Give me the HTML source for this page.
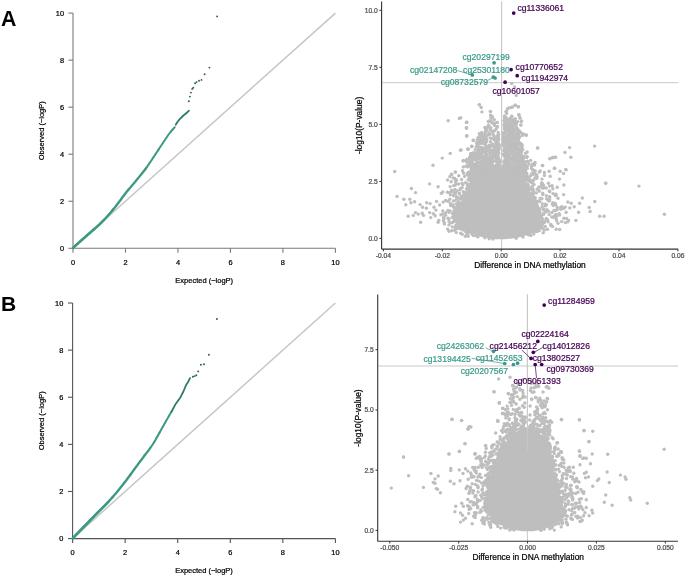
<!DOCTYPE html>
<html><head><meta charset="utf-8"><style>
html,body{margin:0;padding:0;background:#fff;overflow:hidden;}
svg{display:block;font-family:"Liberation Sans", sans-serif;will-change:transform;}
</style></head><body>
<svg width="685" height="577" viewBox="0 0 685 577">
<rect width="685" height="577" fill="#fff"/>
<text x="1.00" y="25.90" font-size="21.3" text-anchor="start" fill="#000" font-weight="bold">A</text>
<text x="1.00" y="311.30" font-size="21.0" text-anchor="start" fill="#000" font-weight="bold">B</text>
<line x1="73.00" y1="248.30" x2="73.00" y2="13.10" stroke="#7a7a7a" stroke-width="1.1"/>
<line x1="73.00" y1="248.30" x2="335.40" y2="248.30" stroke="#7a7a7a" stroke-width="1.1"/>
<line x1="68.40" y1="248.30" x2="73.00" y2="248.30" stroke="#7a7a7a" stroke-width="1.1"/>
<text x="64.00" y="250.95" font-size="7.4" text-anchor="end" fill="#000" font-weight="normal" stroke="#000" stroke-width="0.22">0</text>
<line x1="73.00" y1="248.30" x2="73.00" y2="252.70" stroke="#7a7a7a" stroke-width="1.1"/>
<text x="73.00" y="264.65" font-size="7.4" text-anchor="middle" fill="#000" font-weight="normal" stroke="#000" stroke-width="0.22">0</text>
<line x1="68.40" y1="201.26" x2="73.00" y2="201.26" stroke="#7a7a7a" stroke-width="1.1"/>
<text x="64.00" y="203.91" font-size="7.4" text-anchor="end" fill="#000" font-weight="normal" stroke="#000" stroke-width="0.22">2</text>
<line x1="125.48" y1="248.30" x2="125.48" y2="252.70" stroke="#7a7a7a" stroke-width="1.1"/>
<text x="125.48" y="264.65" font-size="7.4" text-anchor="middle" fill="#000" font-weight="normal" stroke="#000" stroke-width="0.22">2</text>
<line x1="68.40" y1="154.22" x2="73.00" y2="154.22" stroke="#7a7a7a" stroke-width="1.1"/>
<text x="64.00" y="156.87" font-size="7.4" text-anchor="end" fill="#000" font-weight="normal" stroke="#000" stroke-width="0.22">4</text>
<line x1="177.96" y1="248.30" x2="177.96" y2="252.70" stroke="#7a7a7a" stroke-width="1.1"/>
<text x="177.96" y="264.65" font-size="7.4" text-anchor="middle" fill="#000" font-weight="normal" stroke="#000" stroke-width="0.22">4</text>
<line x1="68.40" y1="107.18" x2="73.00" y2="107.18" stroke="#7a7a7a" stroke-width="1.1"/>
<text x="64.00" y="109.83" font-size="7.4" text-anchor="end" fill="#000" font-weight="normal" stroke="#000" stroke-width="0.22">6</text>
<line x1="230.44" y1="248.30" x2="230.44" y2="252.70" stroke="#7a7a7a" stroke-width="1.1"/>
<text x="230.44" y="264.65" font-size="7.4" text-anchor="middle" fill="#000" font-weight="normal" stroke="#000" stroke-width="0.22">6</text>
<line x1="68.40" y1="60.14" x2="73.00" y2="60.14" stroke="#7a7a7a" stroke-width="1.1"/>
<text x="64.00" y="62.79" font-size="7.4" text-anchor="end" fill="#000" font-weight="normal" stroke="#000" stroke-width="0.22">8</text>
<line x1="282.92" y1="248.30" x2="282.92" y2="252.70" stroke="#7a7a7a" stroke-width="1.1"/>
<text x="282.92" y="264.65" font-size="7.4" text-anchor="middle" fill="#000" font-weight="normal" stroke="#000" stroke-width="0.22">8</text>
<line x1="68.40" y1="13.10" x2="73.00" y2="13.10" stroke="#7a7a7a" stroke-width="1.1"/>
<text x="64.00" y="15.75" font-size="7.4" text-anchor="end" fill="#000" font-weight="normal" stroke="#000" stroke-width="0.22">10</text>
<line x1="335.40" y1="248.30" x2="335.40" y2="252.70" stroke="#7a7a7a" stroke-width="1.1"/>
<text x="335.40" y="264.65" font-size="7.4" text-anchor="middle" fill="#000" font-weight="normal" stroke="#000" stroke-width="0.22">10</text>
<text x="204.20" y="283.30" font-size="7.5" text-anchor="middle" fill="#000" font-weight="normal" stroke="#000" stroke-width="0.22">Expected (−logP)</text>
<text x="44.40" y="130.70" font-size="7.5" text-anchor="middle" fill="#000" font-weight="normal" stroke="#000" stroke-width="0.22" transform="rotate(-90 44.4 130.70000000000002)">Observed (−logP)</text>
<line x1="73.00" y1="248.30" x2="335.40" y2="13.10" stroke="#c6c6c6" stroke-width="1.5"/>
<polyline points="73.2,248.0 74.0,247.0 76.7,244.5 79.5,242.0 82.3,239.5 85.2,237.0 88.0,234.5 90.9,232.0 93.8,229.5" fill="none" stroke="#3d9883" stroke-width="2.7" stroke-linejoin="round" stroke-linecap="round"/>
<polyline points="93.8,229.5 96.6,227.0 99.4,224.5 101.9,222.0 104.4,219.5 106.7,217.0 108.9,214.5 111.1,212.0 113.1,209.5" fill="none" stroke="#3d9883" stroke-width="2.56" stroke-linejoin="round" stroke-linecap="round"/>
<polyline points="113.1,209.5 115.2,207.0 117.1,204.5 119.0,202.0 120.9,199.5 122.7,197.0 124.6,194.5 126.5,192.0 128.6,189.5" fill="none" stroke="#3d9883" stroke-width="2.42" stroke-linejoin="round" stroke-linecap="round"/>
<polyline points="128.6,189.5 130.8,187.0 132.9,184.5 135.0,182.0 137.0,179.5 139.1,177.0 141.1,174.5 143.1,172.0 145.1,169.5" fill="none" stroke="#3d9883" stroke-width="2.28" stroke-linejoin="round" stroke-linecap="round"/>
<polyline points="145.1,169.5 146.9,167.0 148.6,164.5 150.3,162.0 152.0,159.5 153.6,157.0 155.3,154.5 156.9,152.0 158.6,149.5" fill="none" stroke="#3d9883" stroke-width="2.14" stroke-linejoin="round" stroke-linecap="round"/>
<polyline points="158.6,149.5 160.2,147.0 161.9,144.5 163.5,142.0 165.2,139.5 166.9,137.0 168.6,134.5 170.5,132.0 172.7,129.5 174.8,127.2" fill="none" stroke="#3d9883" stroke-width="2.0" stroke-linejoin="round" stroke-linecap="round"/>
<polyline points="175.7,124.8 177.3,122.2 179.2,119.7 183.4,115.5 186.8,112.8 188.9,110.7" fill="none" stroke="#2d7a6a" stroke-width="1.8" stroke-linejoin="round" stroke-linecap="round"/>
<circle cx="188.8" cy="101.2" r="0.95" fill="#255f54"/>
<circle cx="189.9" cy="96.6" r="0.95" fill="#255f54"/>
<circle cx="190.9" cy="92.6" r="0.95" fill="#255f54"/>
<circle cx="192.2" cy="88.9" r="0.95" fill="#255f54"/>
<circle cx="193.3" cy="87.8" r="0.95" fill="#255f54"/>
<circle cx="195.1" cy="83.3" r="0.95" fill="#255f54"/>
<circle cx="196.6" cy="82.1" r="0.95" fill="#255f54"/>
<circle cx="199.0" cy="80.7" r="0.95" fill="#255f54"/>
<circle cx="201.5" cy="79.9" r="0.95" fill="#255f54"/>
<circle cx="204.6" cy="74.2" r="0.95" fill="#255f54"/>
<circle cx="209.4" cy="67.6" r="0.95" fill="#255f54"/>
<circle cx="217.1" cy="16.4" r="0.95" fill="#255f54"/>
<line x1="72.60" y1="538.60" x2="72.60" y2="303.00" stroke="#555555" stroke-width="1.1"/>
<line x1="72.60" y1="538.60" x2="335.40" y2="538.60" stroke="#555555" stroke-width="1.1"/>
<line x1="68.00" y1="538.60" x2="72.60" y2="538.60" stroke="#555555" stroke-width="1.1"/>
<text x="63.30" y="541.25" font-size="7.4" text-anchor="end" fill="#000" font-weight="normal" stroke="#000" stroke-width="0.22">0</text>
<line x1="72.60" y1="538.60" x2="72.60" y2="543.00" stroke="#555555" stroke-width="1.1"/>
<text x="72.60" y="554.85" font-size="7.4" text-anchor="middle" fill="#000" font-weight="normal" stroke="#000" stroke-width="0.22">0</text>
<line x1="68.00" y1="491.48" x2="72.60" y2="491.48" stroke="#555555" stroke-width="1.1"/>
<text x="63.30" y="494.13" font-size="7.4" text-anchor="end" fill="#000" font-weight="normal" stroke="#000" stroke-width="0.22">2</text>
<line x1="125.16" y1="538.60" x2="125.16" y2="543.00" stroke="#555555" stroke-width="1.1"/>
<text x="125.16" y="554.85" font-size="7.4" text-anchor="middle" fill="#000" font-weight="normal" stroke="#000" stroke-width="0.22">2</text>
<line x1="68.00" y1="444.36" x2="72.60" y2="444.36" stroke="#555555" stroke-width="1.1"/>
<text x="63.30" y="447.01" font-size="7.4" text-anchor="end" fill="#000" font-weight="normal" stroke="#000" stroke-width="0.22">4</text>
<line x1="177.72" y1="538.60" x2="177.72" y2="543.00" stroke="#555555" stroke-width="1.1"/>
<text x="177.72" y="554.85" font-size="7.4" text-anchor="middle" fill="#000" font-weight="normal" stroke="#000" stroke-width="0.22">4</text>
<line x1="68.00" y1="397.24" x2="72.60" y2="397.24" stroke="#555555" stroke-width="1.1"/>
<text x="63.30" y="399.89" font-size="7.4" text-anchor="end" fill="#000" font-weight="normal" stroke="#000" stroke-width="0.22">6</text>
<line x1="230.28" y1="538.60" x2="230.28" y2="543.00" stroke="#555555" stroke-width="1.1"/>
<text x="230.28" y="554.85" font-size="7.4" text-anchor="middle" fill="#000" font-weight="normal" stroke="#000" stroke-width="0.22">6</text>
<line x1="68.00" y1="350.12" x2="72.60" y2="350.12" stroke="#555555" stroke-width="1.1"/>
<text x="63.30" y="352.77" font-size="7.4" text-anchor="end" fill="#000" font-weight="normal" stroke="#000" stroke-width="0.22">8</text>
<line x1="282.84" y1="538.60" x2="282.84" y2="543.00" stroke="#555555" stroke-width="1.1"/>
<text x="282.84" y="554.85" font-size="7.4" text-anchor="middle" fill="#000" font-weight="normal" stroke="#000" stroke-width="0.22">8</text>
<line x1="68.00" y1="303.00" x2="72.60" y2="303.00" stroke="#555555" stroke-width="1.1"/>
<text x="63.30" y="305.65" font-size="7.4" text-anchor="end" fill="#000" font-weight="normal" stroke="#000" stroke-width="0.22">10</text>
<line x1="335.40" y1="538.60" x2="335.40" y2="543.00" stroke="#555555" stroke-width="1.1"/>
<text x="335.40" y="554.85" font-size="7.4" text-anchor="middle" fill="#000" font-weight="normal" stroke="#000" stroke-width="0.22">10</text>
<text x="204.00" y="573.40" font-size="7.5" text-anchor="middle" fill="#000" font-weight="normal" stroke="#000" stroke-width="0.22">Expected (−logP)</text>
<text x="43.80" y="420.80" font-size="7.5" text-anchor="middle" fill="#000" font-weight="normal" stroke="#000" stroke-width="0.22" transform="rotate(-90 43.8 420.8)">Observed (−logP)</text>
<line x1="72.60" y1="538.60" x2="335.40" y2="303.00" stroke="#c6c6c6" stroke-width="1.5"/>
<polyline points="72.8,538.3 73.5,537.5 75.9,535.0 78.3,532.5 80.7,530.0 83.1,527.5 85.6,525.0 88.0,522.5 90.4,520.0" fill="none" stroke="#3d9883" stroke-width="2.7" stroke-linejoin="round" stroke-linecap="round"/>
<polyline points="90.4,520.0 92.9,517.5 95.3,515.0 97.8,512.5 100.3,510.0 102.8,507.5 105.3,505.0 107.7,502.5 110.0,500.0 112.3,497.5" fill="none" stroke="#3d9883" stroke-width="2.56" stroke-linejoin="round" stroke-linecap="round"/>
<polyline points="112.3,497.5 114.4,495.0 116.6,492.5 118.6,490.0 120.6,487.5 122.6,485.0 124.5,482.5 126.5,480.0 128.3,477.5 130.2,475.0" fill="none" stroke="#3d9883" stroke-width="2.42" stroke-linejoin="round" stroke-linecap="round"/>
<polyline points="130.2,475.0 132.0,472.5 133.8,470.0 135.6,467.5 137.5,465.0 139.3,462.5 141.2,460.0 143.1,457.5 144.9,455.0" fill="none" stroke="#3d9883" stroke-width="2.28" stroke-linejoin="round" stroke-linecap="round"/>
<polyline points="144.9,455.0 146.9,452.5 148.8,450.0 150.6,447.5 152.3,445.0 153.9,442.5 155.4,440.0 156.8,437.5 158.2,435.0 159.6,432.5" fill="none" stroke="#3d9883" stroke-width="2.14" stroke-linejoin="round" stroke-linecap="round"/>
<polyline points="159.6,432.5 161.0,430.0 162.4,427.5 163.8,425.0 165.2,422.5 166.6,420.0 168.1,417.5 169.5,415.0 171.0,412.5 171.6,411.5" fill="none" stroke="#3d9883" stroke-width="2.0" stroke-linejoin="round" stroke-linecap="round"/>
<polyline points="171.6,411.5 175.7,403.9 180.5,397.2 183.4,391.5 186.2,384.8 188.1,381.9 190.0,378.1" fill="none" stroke="#2d7a6a" stroke-width="1.8" stroke-linejoin="round" stroke-linecap="round"/>
<circle cx="192.9" cy="376.8" r="0.95" fill="#255f54"/>
<circle cx="194.6" cy="376.1" r="0.95" fill="#255f54"/>
<circle cx="196.3" cy="375.2" r="0.95" fill="#255f54"/>
<circle cx="198.2" cy="371.4" r="0.95" fill="#255f54"/>
<circle cx="200.9" cy="364.8" r="0.95" fill="#255f54"/>
<circle cx="204.0" cy="364.3" r="0.95" fill="#255f54"/>
<circle cx="208.9" cy="354.8" r="0.95" fill="#255f54"/>
<circle cx="216.9" cy="319.0" r="0.95" fill="#255f54"/>
<line x1="381.60" y1="82.70" x2="678.20" y2="82.70" stroke="#c9c9c9" stroke-width="1.0"/>
<line x1="501.60" y1="1.50" x2="501.60" y2="249.10" stroke="#c9c9c9" stroke-width="1.0"/>
<polygon points="487.5,165.0 482.5,170.0 477.5,175.0 472.5,182.0 468.5,190.0 460.5,202.0 455.5,210.0 454.5,217.0 455.0,222.0 457.5,226.0 463.5,230.3 470.5,233.2 480.5,236.7 488.0,238.3 496.0,239.3 505.0,239.3 514.0,238.3 522.5,236.7 531.5,233.2 536.5,230.3 539.5,226.0 541.0,222.0 540.5,217.0 538.0,210.0 535.0,202.0 529.0,190.0 525.0,182.0 520.5,175.0 516.5,170.0 512.5,165.0" fill="#bebebe"/>
<circle cx="490.7" cy="129.4" r="1.7" fill="#bebebe"/>
<circle cx="490.1" cy="130.1" r="1.7" fill="#bebebe"/>
<circle cx="485.6" cy="130.0" r="1.7" fill="#bebebe"/>
<circle cx="494.7" cy="130.6" r="1.7" fill="#bebebe"/>
<circle cx="486.8" cy="130.6" r="1.7" fill="#bebebe"/>
<circle cx="493.2" cy="131.5" r="1.7" fill="#bebebe"/>
<circle cx="498.2" cy="132.5" r="1.7" fill="#bebebe"/>
<circle cx="492.6" cy="132.1" r="1.7" fill="#bebebe"/>
<circle cx="481.2" cy="133.0" r="1.7" fill="#bebebe"/>
<circle cx="482.0" cy="132.7" r="1.7" fill="#bebebe"/>
<circle cx="485.2" cy="132.5" r="1.7" fill="#bebebe"/>
<circle cx="489.1" cy="132.9" r="1.7" fill="#bebebe"/>
<circle cx="490.0" cy="134.1" r="1.7" fill="#bebebe"/>
<circle cx="489.6" cy="134.2" r="1.7" fill="#bebebe"/>
<circle cx="488.8" cy="133.8" r="1.7" fill="#bebebe"/>
<circle cx="498.6" cy="134.5" r="1.7" fill="#bebebe"/>
<circle cx="493.3" cy="134.8" r="1.7" fill="#bebebe"/>
<circle cx="484.5" cy="134.8" r="1.7" fill="#bebebe"/>
<circle cx="481.5" cy="135.3" r="1.7" fill="#bebebe"/>
<circle cx="487.6" cy="135.3" r="1.7" fill="#bebebe"/>
<circle cx="497.9" cy="136.3" r="1.7" fill="#bebebe"/>
<circle cx="479.9" cy="135.7" r="1.7" fill="#bebebe"/>
<circle cx="497.0" cy="136.0" r="1.7" fill="#bebebe"/>
<circle cx="498.4" cy="135.9" r="1.7" fill="#bebebe"/>
<circle cx="481.3" cy="136.1" r="1.7" fill="#bebebe"/>
<circle cx="484.7" cy="136.6" r="1.7" fill="#bebebe"/>
<circle cx="485.9" cy="137.5" r="1.7" fill="#bebebe"/>
<circle cx="494.1" cy="136.6" r="1.7" fill="#bebebe"/>
<circle cx="484.3" cy="136.6" r="1.7" fill="#bebebe"/>
<circle cx="480.7" cy="137.3" r="1.7" fill="#bebebe"/>
<circle cx="490.2" cy="137.9" r="1.7" fill="#bebebe"/>
<circle cx="482.9" cy="138.2" r="1.7" fill="#bebebe"/>
<circle cx="481.7" cy="138.1" r="1.7" fill="#bebebe"/>
<circle cx="481.5" cy="137.9" r="1.7" fill="#bebebe"/>
<circle cx="483.4" cy="137.8" r="1.7" fill="#bebebe"/>
<circle cx="494.9" cy="138.8" r="1.7" fill="#bebebe"/>
<circle cx="496.6" cy="138.7" r="1.7" fill="#bebebe"/>
<circle cx="486.7" cy="139.4" r="1.7" fill="#bebebe"/>
<circle cx="491.7" cy="138.6" r="1.7" fill="#bebebe"/>
<circle cx="498.7" cy="138.7" r="1.7" fill="#bebebe"/>
<circle cx="494.3" cy="139.8" r="1.7" fill="#bebebe"/>
<circle cx="484.5" cy="139.6" r="1.7" fill="#bebebe"/>
<circle cx="480.3" cy="140.1" r="1.7" fill="#bebebe"/>
<circle cx="483.4" cy="140.1" r="1.7" fill="#bebebe"/>
<circle cx="486.1" cy="140.0" r="1.7" fill="#bebebe"/>
<circle cx="498.1" cy="140.0" r="1.7" fill="#bebebe"/>
<circle cx="496.2" cy="140.7" r="1.7" fill="#bebebe"/>
<circle cx="481.3" cy="141.4" r="1.7" fill="#bebebe"/>
<circle cx="495.2" cy="140.7" r="1.7" fill="#bebebe"/>
<circle cx="482.1" cy="141.2" r="1.7" fill="#bebebe"/>
<circle cx="497.7" cy="140.7" r="1.7" fill="#bebebe"/>
<circle cx="498.0" cy="141.4" r="1.7" fill="#bebebe"/>
<circle cx="486.7" cy="141.6" r="1.7" fill="#bebebe"/>
<circle cx="478.6" cy="142.5" r="1.7" fill="#bebebe"/>
<circle cx="482.8" cy="142.2" r="1.7" fill="#bebebe"/>
<circle cx="483.2" cy="142.3" r="1.7" fill="#bebebe"/>
<circle cx="490.5" cy="141.8" r="1.7" fill="#bebebe"/>
<circle cx="481.5" cy="142.2" r="1.7" fill="#bebebe"/>
<circle cx="482.4" cy="143.1" r="1.7" fill="#bebebe"/>
<circle cx="495.9" cy="143.1" r="1.7" fill="#bebebe"/>
<circle cx="483.5" cy="143.4" r="1.7" fill="#bebebe"/>
<circle cx="481.8" cy="142.5" r="1.7" fill="#bebebe"/>
<circle cx="483.2" cy="142.9" r="1.7" fill="#bebebe"/>
<circle cx="478.7" cy="142.7" r="1.7" fill="#bebebe"/>
<circle cx="485.4" cy="143.1" r="1.7" fill="#bebebe"/>
<circle cx="485.1" cy="144.4" r="1.7" fill="#bebebe"/>
<circle cx="498.7" cy="144.2" r="1.7" fill="#bebebe"/>
<circle cx="492.3" cy="144.1" r="1.7" fill="#bebebe"/>
<circle cx="480.2" cy="143.5" r="1.7" fill="#bebebe"/>
<circle cx="477.5" cy="144.4" r="1.7" fill="#bebebe"/>
<circle cx="492.5" cy="144.5" r="1.7" fill="#bebebe"/>
<circle cx="477.5" cy="144.1" r="1.7" fill="#bebebe"/>
<circle cx="493.1" cy="144.8" r="1.7" fill="#bebebe"/>
<circle cx="499.2" cy="144.6" r="1.7" fill="#bebebe"/>
<circle cx="489.0" cy="145.2" r="1.7" fill="#bebebe"/>
<circle cx="497.0" cy="145.2" r="1.7" fill="#bebebe"/>
<circle cx="492.5" cy="145.3" r="1.7" fill="#bebebe"/>
<circle cx="497.3" cy="144.9" r="1.7" fill="#bebebe"/>
<circle cx="492.1" cy="145.4" r="1.7" fill="#bebebe"/>
<circle cx="485.9" cy="146.3" r="1.7" fill="#bebebe"/>
<circle cx="496.1" cy="146.1" r="1.7" fill="#bebebe"/>
<circle cx="490.7" cy="145.9" r="1.7" fill="#bebebe"/>
<circle cx="489.7" cy="146.1" r="1.7" fill="#bebebe"/>
<circle cx="478.2" cy="146.1" r="1.7" fill="#bebebe"/>
<circle cx="499.1" cy="146.4" r="1.7" fill="#bebebe"/>
<circle cx="493.0" cy="145.9" r="1.7" fill="#bebebe"/>
<circle cx="489.5" cy="146.9" r="1.7" fill="#bebebe"/>
<circle cx="495.5" cy="146.6" r="1.7" fill="#bebebe"/>
<circle cx="493.5" cy="146.5" r="1.7" fill="#bebebe"/>
<circle cx="490.0" cy="147.0" r="1.7" fill="#bebebe"/>
<circle cx="481.4" cy="147.2" r="1.7" fill="#bebebe"/>
<circle cx="487.6" cy="147.1" r="1.7" fill="#bebebe"/>
<circle cx="497.4" cy="146.8" r="1.7" fill="#bebebe"/>
<circle cx="476.3" cy="146.8" r="1.7" fill="#bebebe"/>
<circle cx="480.4" cy="147.7" r="1.7" fill="#bebebe"/>
<circle cx="497.1" cy="148.2" r="1.7" fill="#bebebe"/>
<circle cx="486.1" cy="148.4" r="1.7" fill="#bebebe"/>
<circle cx="483.3" cy="148.2" r="1.7" fill="#bebebe"/>
<circle cx="480.3" cy="147.9" r="1.7" fill="#bebebe"/>
<circle cx="494.7" cy="148.4" r="1.7" fill="#bebebe"/>
<circle cx="496.5" cy="147.9" r="1.7" fill="#bebebe"/>
<circle cx="489.4" cy="147.8" r="1.7" fill="#bebebe"/>
<circle cx="487.1" cy="149.3" r="1.7" fill="#bebebe"/>
<circle cx="495.6" cy="149.2" r="1.7" fill="#bebebe"/>
<circle cx="498.1" cy="148.8" r="1.7" fill="#bebebe"/>
<circle cx="479.2" cy="149.0" r="1.7" fill="#bebebe"/>
<circle cx="481.8" cy="148.7" r="1.7" fill="#bebebe"/>
<circle cx="485.1" cy="149.1" r="1.7" fill="#bebebe"/>
<circle cx="487.1" cy="148.8" r="1.7" fill="#bebebe"/>
<circle cx="495.4" cy="149.5" r="1.7" fill="#bebebe"/>
<circle cx="486.1" cy="148.6" r="1.7" fill="#bebebe"/>
<circle cx="496.2" cy="149.5" r="1.7" fill="#bebebe"/>
<circle cx="492.1" cy="150.1" r="1.7" fill="#bebebe"/>
<circle cx="482.3" cy="150.3" r="1.7" fill="#bebebe"/>
<circle cx="475.2" cy="149.6" r="1.7" fill="#bebebe"/>
<circle cx="485.9" cy="149.5" r="1.7" fill="#bebebe"/>
<circle cx="495.1" cy="149.7" r="1.7" fill="#bebebe"/>
<circle cx="478.2" cy="149.5" r="1.7" fill="#bebebe"/>
<circle cx="490.2" cy="149.9" r="1.7" fill="#bebebe"/>
<circle cx="490.2" cy="150.2" r="1.7" fill="#bebebe"/>
<circle cx="498.3" cy="151.2" r="1.7" fill="#bebebe"/>
<circle cx="479.3" cy="151.0" r="1.7" fill="#bebebe"/>
<circle cx="478.8" cy="150.5" r="1.7" fill="#bebebe"/>
<circle cx="486.1" cy="151.2" r="1.7" fill="#bebebe"/>
<circle cx="478.8" cy="150.8" r="1.7" fill="#bebebe"/>
<circle cx="482.9" cy="151.2" r="1.7" fill="#bebebe"/>
<circle cx="487.3" cy="151.1" r="1.7" fill="#bebebe"/>
<circle cx="493.2" cy="150.9" r="1.7" fill="#bebebe"/>
<circle cx="494.1" cy="151.4" r="1.7" fill="#bebebe"/>
<circle cx="497.6" cy="152.2" r="1.7" fill="#bebebe"/>
<circle cx="477.2" cy="152.0" r="1.7" fill="#bebebe"/>
<circle cx="489.8" cy="152.4" r="1.7" fill="#bebebe"/>
<circle cx="483.5" cy="152.1" r="1.7" fill="#bebebe"/>
<circle cx="496.2" cy="152.3" r="1.7" fill="#bebebe"/>
<circle cx="497.9" cy="152.0" r="1.7" fill="#bebebe"/>
<circle cx="490.4" cy="151.7" r="1.7" fill="#bebebe"/>
<circle cx="492.2" cy="152.3" r="1.7" fill="#bebebe"/>
<circle cx="490.2" cy="152.2" r="1.7" fill="#bebebe"/>
<circle cx="479.3" cy="152.4" r="1.7" fill="#bebebe"/>
<circle cx="498.7" cy="153.0" r="1.7" fill="#bebebe"/>
<circle cx="493.9" cy="152.8" r="1.7" fill="#bebebe"/>
<circle cx="497.0" cy="153.4" r="1.7" fill="#bebebe"/>
<circle cx="482.5" cy="152.6" r="1.7" fill="#bebebe"/>
<circle cx="484.9" cy="153.1" r="1.7" fill="#bebebe"/>
<circle cx="493.3" cy="153.0" r="1.7" fill="#bebebe"/>
<circle cx="474.2" cy="153.3" r="1.7" fill="#bebebe"/>
<circle cx="475.1" cy="153.3" r="1.7" fill="#bebebe"/>
<circle cx="477.9" cy="152.8" r="1.7" fill="#bebebe"/>
<circle cx="476.7" cy="153.6" r="1.7" fill="#bebebe"/>
<circle cx="486.6" cy="154.2" r="1.7" fill="#bebebe"/>
<circle cx="495.1" cy="154.2" r="1.7" fill="#bebebe"/>
<circle cx="497.9" cy="154.0" r="1.7" fill="#bebebe"/>
<circle cx="498.0" cy="153.6" r="1.7" fill="#bebebe"/>
<circle cx="478.9" cy="154.0" r="1.7" fill="#bebebe"/>
<circle cx="480.7" cy="154.2" r="1.7" fill="#bebebe"/>
<circle cx="489.8" cy="154.0" r="1.7" fill="#bebebe"/>
<circle cx="495.2" cy="154.1" r="1.7" fill="#bebebe"/>
<circle cx="481.2" cy="153.9" r="1.7" fill="#bebebe"/>
<circle cx="496.6" cy="154.7" r="1.7" fill="#bebebe"/>
<circle cx="495.3" cy="155.5" r="1.7" fill="#bebebe"/>
<circle cx="486.6" cy="155.1" r="1.7" fill="#bebebe"/>
<circle cx="478.0" cy="155.0" r="1.7" fill="#bebebe"/>
<circle cx="486.0" cy="155.1" r="1.7" fill="#bebebe"/>
<circle cx="473.4" cy="155.5" r="1.7" fill="#bebebe"/>
<circle cx="486.4" cy="154.9" r="1.7" fill="#bebebe"/>
<circle cx="494.0" cy="155.1" r="1.7" fill="#bebebe"/>
<circle cx="485.7" cy="155.2" r="1.7" fill="#bebebe"/>
<circle cx="474.4" cy="155.0" r="1.7" fill="#bebebe"/>
<circle cx="498.1" cy="156.4" r="1.7" fill="#bebebe"/>
<circle cx="479.5" cy="156.0" r="1.7" fill="#bebebe"/>
<circle cx="475.6" cy="155.9" r="1.7" fill="#bebebe"/>
<circle cx="494.3" cy="156.4" r="1.7" fill="#bebebe"/>
<circle cx="485.1" cy="155.8" r="1.7" fill="#bebebe"/>
<circle cx="477.4" cy="156.1" r="1.7" fill="#bebebe"/>
<circle cx="497.3" cy="155.6" r="1.7" fill="#bebebe"/>
<circle cx="493.3" cy="155.5" r="1.7" fill="#bebebe"/>
<circle cx="477.5" cy="155.7" r="1.7" fill="#bebebe"/>
<circle cx="490.8" cy="155.8" r="1.7" fill="#bebebe"/>
<circle cx="481.8" cy="156.1" r="1.7" fill="#bebebe"/>
<circle cx="491.9" cy="156.6" r="1.7" fill="#bebebe"/>
<circle cx="485.8" cy="156.8" r="1.7" fill="#bebebe"/>
<circle cx="477.2" cy="157.0" r="1.7" fill="#bebebe"/>
<circle cx="483.8" cy="156.9" r="1.7" fill="#bebebe"/>
<circle cx="483.2" cy="157.0" r="1.7" fill="#bebebe"/>
<circle cx="476.2" cy="156.7" r="1.7" fill="#bebebe"/>
<circle cx="489.1" cy="157.1" r="1.7" fill="#bebebe"/>
<circle cx="486.4" cy="157.4" r="1.7" fill="#bebebe"/>
<circle cx="488.6" cy="157.4" r="1.7" fill="#bebebe"/>
<circle cx="478.2" cy="157.2" r="1.7" fill="#bebebe"/>
<circle cx="494.1" cy="157.4" r="1.7" fill="#bebebe"/>
<circle cx="480.2" cy="158.4" r="1.7" fill="#bebebe"/>
<circle cx="477.4" cy="158.5" r="1.7" fill="#bebebe"/>
<circle cx="496.2" cy="157.6" r="1.7" fill="#bebebe"/>
<circle cx="478.0" cy="158.2" r="1.7" fill="#bebebe"/>
<circle cx="478.6" cy="157.6" r="1.7" fill="#bebebe"/>
<circle cx="494.6" cy="157.9" r="1.7" fill="#bebebe"/>
<circle cx="493.4" cy="157.6" r="1.7" fill="#bebebe"/>
<circle cx="482.6" cy="158.2" r="1.7" fill="#bebebe"/>
<circle cx="471.8" cy="157.7" r="1.7" fill="#bebebe"/>
<circle cx="490.4" cy="158.4" r="1.7" fill="#bebebe"/>
<circle cx="498.4" cy="157.6" r="1.7" fill="#bebebe"/>
<circle cx="492.4" cy="159.0" r="1.7" fill="#bebebe"/>
<circle cx="490.4" cy="158.7" r="1.7" fill="#bebebe"/>
<circle cx="472.9" cy="158.6" r="1.7" fill="#bebebe"/>
<circle cx="472.0" cy="159.1" r="1.7" fill="#bebebe"/>
<circle cx="485.5" cy="159.1" r="1.7" fill="#bebebe"/>
<circle cx="475.1" cy="158.7" r="1.7" fill="#bebebe"/>
<circle cx="476.7" cy="159.3" r="1.7" fill="#bebebe"/>
<circle cx="499.0" cy="159.4" r="1.7" fill="#bebebe"/>
<circle cx="473.6" cy="158.6" r="1.7" fill="#bebebe"/>
<circle cx="497.9" cy="159.0" r="1.7" fill="#bebebe"/>
<circle cx="492.6" cy="158.8" r="1.7" fill="#bebebe"/>
<circle cx="485.3" cy="159.9" r="1.7" fill="#bebebe"/>
<circle cx="487.8" cy="159.5" r="1.7" fill="#bebebe"/>
<circle cx="490.7" cy="160.3" r="1.7" fill="#bebebe"/>
<circle cx="475.7" cy="160.0" r="1.7" fill="#bebebe"/>
<circle cx="491.8" cy="159.9" r="1.7" fill="#bebebe"/>
<circle cx="476.1" cy="159.7" r="1.7" fill="#bebebe"/>
<circle cx="485.3" cy="159.5" r="1.7" fill="#bebebe"/>
<circle cx="496.2" cy="160.3" r="1.7" fill="#bebebe"/>
<circle cx="490.8" cy="160.4" r="1.7" fill="#bebebe"/>
<circle cx="488.6" cy="159.9" r="1.7" fill="#bebebe"/>
<circle cx="487.8" cy="160.0" r="1.7" fill="#bebebe"/>
<circle cx="498.8" cy="160.3" r="1.7" fill="#bebebe"/>
<circle cx="496.7" cy="161.2" r="1.7" fill="#bebebe"/>
<circle cx="492.9" cy="161.3" r="1.7" fill="#bebebe"/>
<circle cx="482.1" cy="161.4" r="1.7" fill="#bebebe"/>
<circle cx="495.8" cy="161.2" r="1.7" fill="#bebebe"/>
<circle cx="492.6" cy="161.3" r="1.7" fill="#bebebe"/>
<circle cx="482.1" cy="161.2" r="1.7" fill="#bebebe"/>
<circle cx="472.3" cy="160.8" r="1.7" fill="#bebebe"/>
<circle cx="483.9" cy="160.5" r="1.7" fill="#bebebe"/>
<circle cx="480.6" cy="161.1" r="1.7" fill="#bebebe"/>
<circle cx="488.4" cy="160.7" r="1.7" fill="#bebebe"/>
<circle cx="497.7" cy="161.2" r="1.7" fill="#bebebe"/>
<circle cx="480.1" cy="161.2" r="1.7" fill="#bebebe"/>
<circle cx="485.7" cy="161.9" r="1.7" fill="#bebebe"/>
<circle cx="499.3" cy="162.1" r="1.7" fill="#bebebe"/>
<circle cx="490.6" cy="162.3" r="1.7" fill="#bebebe"/>
<circle cx="498.7" cy="161.5" r="1.7" fill="#bebebe"/>
<circle cx="488.1" cy="162.2" r="1.7" fill="#bebebe"/>
<circle cx="477.6" cy="161.9" r="1.7" fill="#bebebe"/>
<circle cx="471.6" cy="161.7" r="1.7" fill="#bebebe"/>
<circle cx="481.1" cy="161.6" r="1.7" fill="#bebebe"/>
<circle cx="477.4" cy="162.4" r="1.7" fill="#bebebe"/>
<circle cx="486.2" cy="162.0" r="1.7" fill="#bebebe"/>
<circle cx="498.3" cy="162.1" r="1.7" fill="#bebebe"/>
<circle cx="499.2" cy="162.1" r="1.7" fill="#bebebe"/>
<circle cx="472.1" cy="163.1" r="1.7" fill="#bebebe"/>
<circle cx="492.2" cy="162.5" r="1.7" fill="#bebebe"/>
<circle cx="497.2" cy="162.7" r="1.7" fill="#bebebe"/>
<circle cx="483.8" cy="162.7" r="1.7" fill="#bebebe"/>
<circle cx="484.5" cy="163.1" r="1.7" fill="#bebebe"/>
<circle cx="471.6" cy="163.4" r="1.7" fill="#bebebe"/>
<circle cx="482.3" cy="163.0" r="1.7" fill="#bebebe"/>
<circle cx="487.5" cy="162.9" r="1.7" fill="#bebebe"/>
<circle cx="478.3" cy="163.2" r="1.7" fill="#bebebe"/>
<circle cx="486.4" cy="162.8" r="1.7" fill="#bebebe"/>
<circle cx="491.0" cy="162.8" r="1.7" fill="#bebebe"/>
<circle cx="470.3" cy="162.7" r="1.7" fill="#bebebe"/>
<circle cx="474.3" cy="164.3" r="1.7" fill="#bebebe"/>
<circle cx="481.2" cy="164.4" r="1.7" fill="#bebebe"/>
<circle cx="491.9" cy="163.6" r="1.7" fill="#bebebe"/>
<circle cx="499.0" cy="164.4" r="1.7" fill="#bebebe"/>
<circle cx="471.9" cy="164.4" r="1.7" fill="#bebebe"/>
<circle cx="482.4" cy="164.0" r="1.7" fill="#bebebe"/>
<circle cx="498.5" cy="163.7" r="1.7" fill="#bebebe"/>
<circle cx="485.2" cy="164.4" r="1.7" fill="#bebebe"/>
<circle cx="491.1" cy="164.0" r="1.7" fill="#bebebe"/>
<circle cx="498.7" cy="164.3" r="1.7" fill="#bebebe"/>
<circle cx="487.6" cy="163.6" r="1.7" fill="#bebebe"/>
<circle cx="488.2" cy="164.0" r="1.7" fill="#bebebe"/>
<circle cx="475.7" cy="163.6" r="1.7" fill="#bebebe"/>
<circle cx="473.2" cy="164.9" r="1.7" fill="#bebebe"/>
<circle cx="489.4" cy="165.0" r="1.7" fill="#bebebe"/>
<circle cx="477.3" cy="165.1" r="1.7" fill="#bebebe"/>
<circle cx="482.0" cy="165.3" r="1.7" fill="#bebebe"/>
<circle cx="485.3" cy="165.5" r="1.7" fill="#bebebe"/>
<circle cx="497.9" cy="165.2" r="1.7" fill="#bebebe"/>
<circle cx="476.6" cy="164.6" r="1.7" fill="#bebebe"/>
<circle cx="496.1" cy="165.3" r="1.7" fill="#bebebe"/>
<circle cx="488.1" cy="164.9" r="1.7" fill="#bebebe"/>
<circle cx="477.6" cy="165.2" r="1.7" fill="#bebebe"/>
<circle cx="486.3" cy="165.1" r="1.7" fill="#bebebe"/>
<circle cx="488.4" cy="165.3" r="1.7" fill="#bebebe"/>
<circle cx="475.2" cy="164.7" r="1.7" fill="#bebebe"/>
<circle cx="496.9" cy="166.4" r="1.7" fill="#bebebe"/>
<circle cx="470.6" cy="165.6" r="1.7" fill="#bebebe"/>
<circle cx="477.6" cy="165.9" r="1.7" fill="#bebebe"/>
<circle cx="488.1" cy="165.6" r="1.7" fill="#bebebe"/>
<circle cx="485.7" cy="165.6" r="1.7" fill="#bebebe"/>
<circle cx="472.0" cy="166.2" r="1.7" fill="#bebebe"/>
<circle cx="486.0" cy="166.1" r="1.7" fill="#bebebe"/>
<circle cx="480.6" cy="166.0" r="1.7" fill="#bebebe"/>
<circle cx="475.8" cy="165.8" r="1.7" fill="#bebebe"/>
<circle cx="491.8" cy="166.3" r="1.7" fill="#bebebe"/>
<circle cx="471.7" cy="165.6" r="1.7" fill="#bebebe"/>
<circle cx="493.7" cy="166.1" r="1.7" fill="#bebebe"/>
<circle cx="492.5" cy="165.7" r="1.7" fill="#bebebe"/>
<circle cx="477.2" cy="167.3" r="1.7" fill="#bebebe"/>
<circle cx="480.5" cy="167.2" r="1.7" fill="#bebebe"/>
<circle cx="499.3" cy="166.8" r="1.7" fill="#bebebe"/>
<circle cx="485.9" cy="167.2" r="1.7" fill="#bebebe"/>
<circle cx="497.2" cy="166.9" r="1.7" fill="#bebebe"/>
<circle cx="480.5" cy="166.6" r="1.7" fill="#bebebe"/>
<circle cx="495.8" cy="166.6" r="1.7" fill="#bebebe"/>
<circle cx="471.9" cy="167.1" r="1.7" fill="#bebebe"/>
<circle cx="484.0" cy="167.2" r="1.7" fill="#bebebe"/>
<circle cx="478.4" cy="167.3" r="1.7" fill="#bebebe"/>
<circle cx="471.7" cy="166.7" r="1.7" fill="#bebebe"/>
<circle cx="489.4" cy="166.6" r="1.7" fill="#bebebe"/>
<circle cx="478.5" cy="167.2" r="1.7" fill="#bebebe"/>
<circle cx="477.9" cy="167.6" r="1.7" fill="#bebebe"/>
<circle cx="480.2" cy="168.2" r="1.7" fill="#bebebe"/>
<circle cx="480.4" cy="167.6" r="1.7" fill="#bebebe"/>
<circle cx="490.9" cy="168.1" r="1.7" fill="#bebebe"/>
<circle cx="497.2" cy="168.4" r="1.7" fill="#bebebe"/>
<circle cx="497.1" cy="167.9" r="1.7" fill="#bebebe"/>
<circle cx="493.7" cy="167.8" r="1.7" fill="#bebebe"/>
<circle cx="479.0" cy="167.9" r="1.7" fill="#bebebe"/>
<circle cx="497.7" cy="168.4" r="1.7" fill="#bebebe"/>
<circle cx="476.8" cy="167.9" r="1.7" fill="#bebebe"/>
<circle cx="480.4" cy="167.9" r="1.7" fill="#bebebe"/>
<circle cx="481.3" cy="167.9" r="1.7" fill="#bebebe"/>
<circle cx="475.2" cy="168.1" r="1.7" fill="#bebebe"/>
<circle cx="485.8" cy="169.3" r="1.7" fill="#bebebe"/>
<circle cx="486.5" cy="168.7" r="1.7" fill="#bebebe"/>
<circle cx="492.5" cy="169.4" r="1.7" fill="#bebebe"/>
<circle cx="477.8" cy="168.5" r="1.7" fill="#bebebe"/>
<circle cx="485.0" cy="169.0" r="1.7" fill="#bebebe"/>
<circle cx="486.6" cy="169.5" r="1.7" fill="#bebebe"/>
<circle cx="489.2" cy="169.3" r="1.7" fill="#bebebe"/>
<circle cx="471.2" cy="169.0" r="1.7" fill="#bebebe"/>
<circle cx="493.4" cy="168.6" r="1.7" fill="#bebebe"/>
<circle cx="471.7" cy="169.2" r="1.7" fill="#bebebe"/>
<circle cx="496.8" cy="168.6" r="1.7" fill="#bebebe"/>
<circle cx="488.7" cy="168.6" r="1.7" fill="#bebebe"/>
<circle cx="492.1" cy="169.1" r="1.7" fill="#bebebe"/>
<circle cx="475.9" cy="170.3" r="1.7" fill="#bebebe"/>
<circle cx="485.2" cy="170.3" r="1.7" fill="#bebebe"/>
<circle cx="481.3" cy="169.8" r="1.7" fill="#bebebe"/>
<circle cx="499.0" cy="170.2" r="1.7" fill="#bebebe"/>
<circle cx="484.4" cy="170.0" r="1.7" fill="#bebebe"/>
<circle cx="491.4" cy="170.2" r="1.7" fill="#bebebe"/>
<circle cx="497.4" cy="169.9" r="1.7" fill="#bebebe"/>
<circle cx="494.6" cy="170.2" r="1.7" fill="#bebebe"/>
<circle cx="495.5" cy="170.3" r="1.7" fill="#bebebe"/>
<circle cx="494.9" cy="170.4" r="1.7" fill="#bebebe"/>
<circle cx="498.7" cy="170.1" r="1.7" fill="#bebebe"/>
<circle cx="485.3" cy="170.2" r="1.7" fill="#bebebe"/>
<circle cx="493.9" cy="169.9" r="1.7" fill="#bebebe"/>
<circle cx="482.1" cy="169.6" r="1.7" fill="#bebebe"/>
<circle cx="499.9" cy="170.9" r="1.7" fill="#bebebe"/>
<circle cx="474.3" cy="170.7" r="1.7" fill="#bebebe"/>
<circle cx="482.3" cy="170.8" r="1.7" fill="#bebebe"/>
<circle cx="499.2" cy="170.6" r="1.7" fill="#bebebe"/>
<circle cx="478.7" cy="170.6" r="1.7" fill="#bebebe"/>
<circle cx="489.2" cy="171.3" r="1.7" fill="#bebebe"/>
<circle cx="474.6" cy="170.6" r="1.7" fill="#bebebe"/>
<circle cx="483.3" cy="171.1" r="1.7" fill="#bebebe"/>
<circle cx="497.3" cy="170.5" r="1.7" fill="#bebebe"/>
<circle cx="472.4" cy="170.7" r="1.7" fill="#bebebe"/>
<circle cx="475.8" cy="170.7" r="1.7" fill="#bebebe"/>
<circle cx="491.4" cy="171.1" r="1.7" fill="#bebebe"/>
<circle cx="476.0" cy="170.7" r="1.7" fill="#bebebe"/>
<circle cx="477.8" cy="170.7" r="1.7" fill="#bebebe"/>
<circle cx="478.8" cy="172.0" r="1.7" fill="#bebebe"/>
<circle cx="494.6" cy="172.0" r="1.7" fill="#bebebe"/>
<circle cx="477.2" cy="172.4" r="1.7" fill="#bebebe"/>
<circle cx="497.6" cy="171.8" r="1.7" fill="#bebebe"/>
<circle cx="486.1" cy="172.5" r="1.7" fill="#bebebe"/>
<circle cx="484.1" cy="171.7" r="1.7" fill="#bebebe"/>
<circle cx="470.6" cy="172.4" r="1.7" fill="#bebebe"/>
<circle cx="494.1" cy="171.9" r="1.7" fill="#bebebe"/>
<circle cx="485.5" cy="172.0" r="1.7" fill="#bebebe"/>
<circle cx="477.6" cy="172.5" r="1.7" fill="#bebebe"/>
<circle cx="489.6" cy="171.7" r="1.7" fill="#bebebe"/>
<circle cx="469.3" cy="172.0" r="1.7" fill="#bebebe"/>
<circle cx="480.6" cy="172.3" r="1.7" fill="#bebebe"/>
<circle cx="491.3" cy="172.1" r="1.7" fill="#bebebe"/>
<circle cx="473.8" cy="172.8" r="1.7" fill="#bebebe"/>
<circle cx="477.0" cy="173.4" r="1.7" fill="#bebebe"/>
<circle cx="485.1" cy="173.1" r="1.7" fill="#bebebe"/>
<circle cx="500.1" cy="172.8" r="1.7" fill="#bebebe"/>
<circle cx="485.7" cy="172.7" r="1.7" fill="#bebebe"/>
<circle cx="493.1" cy="172.5" r="1.7" fill="#bebebe"/>
<circle cx="494.7" cy="173.3" r="1.7" fill="#bebebe"/>
<circle cx="494.7" cy="172.6" r="1.7" fill="#bebebe"/>
<circle cx="477.4" cy="173.2" r="1.7" fill="#bebebe"/>
<circle cx="471.9" cy="173.0" r="1.7" fill="#bebebe"/>
<circle cx="483.6" cy="173.5" r="1.7" fill="#bebebe"/>
<circle cx="487.3" cy="173.4" r="1.7" fill="#bebebe"/>
<circle cx="478.4" cy="173.3" r="1.7" fill="#bebebe"/>
<circle cx="482.0" cy="173.4" r="1.7" fill="#bebebe"/>
<circle cx="471.7" cy="173.3" r="1.7" fill="#bebebe"/>
<circle cx="485.9" cy="174.0" r="1.7" fill="#bebebe"/>
<circle cx="473.7" cy="174.3" r="1.7" fill="#bebebe"/>
<circle cx="478.6" cy="173.8" r="1.7" fill="#bebebe"/>
<circle cx="471.2" cy="173.8" r="1.7" fill="#bebebe"/>
<circle cx="483.5" cy="174.2" r="1.7" fill="#bebebe"/>
<circle cx="480.1" cy="174.2" r="1.7" fill="#bebebe"/>
<circle cx="472.1" cy="173.9" r="1.7" fill="#bebebe"/>
<circle cx="483.3" cy="174.5" r="1.7" fill="#bebebe"/>
<circle cx="495.0" cy="174.2" r="1.7" fill="#bebebe"/>
<circle cx="469.1" cy="173.9" r="1.7" fill="#bebebe"/>
<circle cx="491.2" cy="173.7" r="1.7" fill="#bebebe"/>
<circle cx="486.6" cy="174.0" r="1.7" fill="#bebebe"/>
<circle cx="469.1" cy="174.5" r="1.7" fill="#bebebe"/>
<circle cx="494.0" cy="173.7" r="1.7" fill="#bebebe"/>
<circle cx="488.2" cy="173.8" r="1.7" fill="#bebebe"/>
<circle cx="485.8" cy="174.8" r="1.7" fill="#bebebe"/>
<circle cx="479.3" cy="174.9" r="1.7" fill="#bebebe"/>
<circle cx="489.8" cy="174.8" r="1.7" fill="#bebebe"/>
<circle cx="475.0" cy="175.2" r="1.7" fill="#bebebe"/>
<circle cx="479.1" cy="175.4" r="1.7" fill="#bebebe"/>
<circle cx="486.5" cy="175.2" r="1.7" fill="#bebebe"/>
<circle cx="479.2" cy="175.3" r="1.7" fill="#bebebe"/>
<circle cx="471.6" cy="174.6" r="1.7" fill="#bebebe"/>
<circle cx="471.6" cy="175.2" r="1.7" fill="#bebebe"/>
<circle cx="491.1" cy="174.7" r="1.7" fill="#bebebe"/>
<circle cx="481.4" cy="175.3" r="1.7" fill="#bebebe"/>
<circle cx="487.4" cy="174.6" r="1.7" fill="#bebebe"/>
<circle cx="475.8" cy="174.7" r="1.7" fill="#bebebe"/>
<circle cx="472.6" cy="174.9" r="1.7" fill="#bebebe"/>
<circle cx="470.9" cy="175.4" r="1.7" fill="#bebebe"/>
<circle cx="484.8" cy="176.1" r="1.7" fill="#bebebe"/>
<circle cx="493.0" cy="176.3" r="1.7" fill="#bebebe"/>
<circle cx="480.8" cy="175.8" r="1.7" fill="#bebebe"/>
<circle cx="481.6" cy="175.5" r="1.7" fill="#bebebe"/>
<circle cx="481.3" cy="176.2" r="1.7" fill="#bebebe"/>
<circle cx="499.8" cy="176.3" r="1.7" fill="#bebebe"/>
<circle cx="489.6" cy="176.1" r="1.7" fill="#bebebe"/>
<circle cx="469.1" cy="175.8" r="1.7" fill="#bebebe"/>
<circle cx="479.4" cy="176.2" r="1.7" fill="#bebebe"/>
<circle cx="471.9" cy="175.9" r="1.7" fill="#bebebe"/>
<circle cx="484.7" cy="176.3" r="1.7" fill="#bebebe"/>
<circle cx="494.8" cy="176.1" r="1.7" fill="#bebebe"/>
<circle cx="473.6" cy="176.3" r="1.7" fill="#bebebe"/>
<circle cx="497.3" cy="176.0" r="1.7" fill="#bebebe"/>
<circle cx="479.7" cy="176.0" r="1.7" fill="#bebebe"/>
<circle cx="491.2" cy="177.5" r="1.7" fill="#bebebe"/>
<circle cx="484.9" cy="177.2" r="1.7" fill="#bebebe"/>
<circle cx="495.2" cy="176.7" r="1.7" fill="#bebebe"/>
<circle cx="498.7" cy="177.1" r="1.7" fill="#bebebe"/>
<circle cx="474.7" cy="176.6" r="1.7" fill="#bebebe"/>
<circle cx="476.2" cy="177.1" r="1.7" fill="#bebebe"/>
<circle cx="490.7" cy="176.8" r="1.7" fill="#bebebe"/>
<circle cx="498.2" cy="176.9" r="1.7" fill="#bebebe"/>
<circle cx="483.2" cy="176.6" r="1.7" fill="#bebebe"/>
<circle cx="499.6" cy="176.6" r="1.7" fill="#bebebe"/>
<circle cx="497.4" cy="177.0" r="1.7" fill="#bebebe"/>
<circle cx="486.3" cy="177.1" r="1.7" fill="#bebebe"/>
<circle cx="476.8" cy="177.4" r="1.7" fill="#bebebe"/>
<circle cx="500.2" cy="177.3" r="1.7" fill="#bebebe"/>
<circle cx="487.7" cy="176.6" r="1.7" fill="#bebebe"/>
<circle cx="494.8" cy="176.8" r="1.7" fill="#bebebe"/>
<circle cx="476.0" cy="178.1" r="1.7" fill="#bebebe"/>
<circle cx="495.0" cy="177.7" r="1.7" fill="#bebebe"/>
<circle cx="485.9" cy="177.6" r="1.7" fill="#bebebe"/>
<circle cx="469.3" cy="177.7" r="1.7" fill="#bebebe"/>
<circle cx="500.0" cy="178.4" r="1.7" fill="#bebebe"/>
<circle cx="489.4" cy="177.8" r="1.7" fill="#bebebe"/>
<circle cx="489.9" cy="178.2" r="1.7" fill="#bebebe"/>
<circle cx="480.5" cy="178.1" r="1.7" fill="#bebebe"/>
<circle cx="494.1" cy="177.5" r="1.7" fill="#bebebe"/>
<circle cx="474.7" cy="178.0" r="1.7" fill="#bebebe"/>
<circle cx="472.9" cy="177.9" r="1.7" fill="#bebebe"/>
<circle cx="486.6" cy="177.7" r="1.7" fill="#bebebe"/>
<circle cx="485.0" cy="177.8" r="1.7" fill="#bebebe"/>
<circle cx="486.5" cy="177.8" r="1.7" fill="#bebebe"/>
<circle cx="488.9" cy="177.5" r="1.7" fill="#bebebe"/>
<circle cx="472.8" cy="179.5" r="1.7" fill="#bebebe"/>
<circle cx="487.5" cy="179.0" r="1.7" fill="#bebebe"/>
<circle cx="481.4" cy="179.1" r="1.7" fill="#bebebe"/>
<circle cx="490.4" cy="179.3" r="1.7" fill="#bebebe"/>
<circle cx="492.4" cy="179.0" r="1.7" fill="#bebebe"/>
<circle cx="500.3" cy="179.3" r="1.7" fill="#bebebe"/>
<circle cx="495.8" cy="178.9" r="1.7" fill="#bebebe"/>
<circle cx="482.2" cy="179.1" r="1.7" fill="#bebebe"/>
<circle cx="497.4" cy="179.0" r="1.7" fill="#bebebe"/>
<circle cx="485.1" cy="178.9" r="1.7" fill="#bebebe"/>
<circle cx="497.4" cy="178.8" r="1.7" fill="#bebebe"/>
<circle cx="469.9" cy="179.2" r="1.7" fill="#bebebe"/>
<circle cx="497.2" cy="179.2" r="1.7" fill="#bebebe"/>
<circle cx="487.5" cy="179.3" r="1.7" fill="#bebebe"/>
<circle cx="478.0" cy="179.1" r="1.7" fill="#bebebe"/>
<circle cx="470.4" cy="178.6" r="1.7" fill="#bebebe"/>
<circle cx="484.3" cy="179.9" r="1.7" fill="#bebebe"/>
<circle cx="469.7" cy="180.2" r="1.7" fill="#bebebe"/>
<circle cx="485.1" cy="179.7" r="1.7" fill="#bebebe"/>
<circle cx="478.0" cy="179.9" r="1.7" fill="#bebebe"/>
<circle cx="475.7" cy="179.6" r="1.7" fill="#bebebe"/>
<circle cx="497.6" cy="180.5" r="1.7" fill="#bebebe"/>
<circle cx="489.6" cy="180.4" r="1.7" fill="#bebebe"/>
<circle cx="481.7" cy="180.3" r="1.7" fill="#bebebe"/>
<circle cx="475.2" cy="180.2" r="1.7" fill="#bebebe"/>
<circle cx="486.4" cy="180.4" r="1.7" fill="#bebebe"/>
<circle cx="471.2" cy="180.3" r="1.7" fill="#bebebe"/>
<circle cx="472.0" cy="180.0" r="1.7" fill="#bebebe"/>
<circle cx="498.9" cy="179.5" r="1.7" fill="#bebebe"/>
<circle cx="475.9" cy="179.8" r="1.7" fill="#bebebe"/>
<circle cx="478.6" cy="179.6" r="1.7" fill="#bebebe"/>
<circle cx="497.1" cy="180.3" r="1.7" fill="#bebebe"/>
<circle cx="510.3" cy="118.2" r="1.7" fill="#bebebe"/>
<circle cx="506.1" cy="117.5" r="1.7" fill="#bebebe"/>
<circle cx="507.2" cy="119.3" r="1.7" fill="#bebebe"/>
<circle cx="511.0" cy="119.1" r="1.7" fill="#bebebe"/>
<circle cx="511.1" cy="119.6" r="1.7" fill="#bebebe"/>
<circle cx="508.9" cy="119.7" r="1.7" fill="#bebebe"/>
<circle cx="513.6" cy="119.6" r="1.7" fill="#bebebe"/>
<circle cx="505.1" cy="121.2" r="1.7" fill="#bebebe"/>
<circle cx="508.0" cy="120.9" r="1.7" fill="#bebebe"/>
<circle cx="513.5" cy="120.5" r="1.7" fill="#bebebe"/>
<circle cx="515.0" cy="122.0" r="1.7" fill="#bebebe"/>
<circle cx="505.1" cy="122.5" r="1.7" fill="#bebebe"/>
<circle cx="515.4" cy="121.6" r="1.7" fill="#bebebe"/>
<circle cx="509.1" cy="121.6" r="1.7" fill="#bebebe"/>
<circle cx="511.6" cy="122.7" r="1.7" fill="#bebebe"/>
<circle cx="512.6" cy="122.6" r="1.7" fill="#bebebe"/>
<circle cx="506.1" cy="123.3" r="1.7" fill="#bebebe"/>
<circle cx="508.9" cy="122.9" r="1.7" fill="#bebebe"/>
<circle cx="510.0" cy="123.9" r="1.7" fill="#bebebe"/>
<circle cx="504.3" cy="124.2" r="1.7" fill="#bebebe"/>
<circle cx="516.2" cy="124.5" r="1.7" fill="#bebebe"/>
<circle cx="512.3" cy="123.9" r="1.7" fill="#bebebe"/>
<circle cx="512.8" cy="125.2" r="1.7" fill="#bebebe"/>
<circle cx="505.4" cy="124.7" r="1.7" fill="#bebebe"/>
<circle cx="508.6" cy="125.0" r="1.7" fill="#bebebe"/>
<circle cx="514.4" cy="125.0" r="1.7" fill="#bebebe"/>
<circle cx="504.2" cy="125.3" r="1.7" fill="#bebebe"/>
<circle cx="510.8" cy="125.7" r="1.7" fill="#bebebe"/>
<circle cx="509.5" cy="125.9" r="1.7" fill="#bebebe"/>
<circle cx="514.1" cy="125.6" r="1.7" fill="#bebebe"/>
<circle cx="511.2" cy="125.7" r="1.7" fill="#bebebe"/>
<circle cx="513.1" cy="125.5" r="1.7" fill="#bebebe"/>
<circle cx="508.5" cy="127.1" r="1.7" fill="#bebebe"/>
<circle cx="504.5" cy="127.0" r="1.7" fill="#bebebe"/>
<circle cx="506.6" cy="126.8" r="1.7" fill="#bebebe"/>
<circle cx="510.3" cy="127.5" r="1.7" fill="#bebebe"/>
<circle cx="510.4" cy="127.5" r="1.7" fill="#bebebe"/>
<circle cx="516.7" cy="127.9" r="1.7" fill="#bebebe"/>
<circle cx="506.4" cy="128.2" r="1.7" fill="#bebebe"/>
<circle cx="516.5" cy="127.5" r="1.7" fill="#bebebe"/>
<circle cx="507.5" cy="128.3" r="1.7" fill="#bebebe"/>
<circle cx="508.5" cy="127.7" r="1.7" fill="#bebebe"/>
<circle cx="504.3" cy="129.1" r="1.7" fill="#bebebe"/>
<circle cx="517.8" cy="129.5" r="1.7" fill="#bebebe"/>
<circle cx="510.9" cy="128.5" r="1.7" fill="#bebebe"/>
<circle cx="508.3" cy="129.3" r="1.7" fill="#bebebe"/>
<circle cx="515.6" cy="129.1" r="1.7" fill="#bebebe"/>
<circle cx="507.0" cy="129.0" r="1.7" fill="#bebebe"/>
<circle cx="512.9" cy="129.8" r="1.7" fill="#bebebe"/>
<circle cx="517.6" cy="130.4" r="1.7" fill="#bebebe"/>
<circle cx="506.0" cy="129.8" r="1.7" fill="#bebebe"/>
<circle cx="516.5" cy="129.8" r="1.7" fill="#bebebe"/>
<circle cx="517.5" cy="130.0" r="1.7" fill="#bebebe"/>
<circle cx="513.9" cy="130.2" r="1.7" fill="#bebebe"/>
<circle cx="507.9" cy="130.8" r="1.7" fill="#bebebe"/>
<circle cx="513.9" cy="131.2" r="1.7" fill="#bebebe"/>
<circle cx="505.6" cy="131.4" r="1.7" fill="#bebebe"/>
<circle cx="509.9" cy="130.7" r="1.7" fill="#bebebe"/>
<circle cx="510.2" cy="131.5" r="1.7" fill="#bebebe"/>
<circle cx="512.0" cy="131.1" r="1.7" fill="#bebebe"/>
<circle cx="518.3" cy="132.3" r="1.7" fill="#bebebe"/>
<circle cx="510.0" cy="132.1" r="1.7" fill="#bebebe"/>
<circle cx="517.4" cy="132.3" r="1.7" fill="#bebebe"/>
<circle cx="512.5" cy="131.8" r="1.7" fill="#bebebe"/>
<circle cx="509.2" cy="132.2" r="1.7" fill="#bebebe"/>
<circle cx="512.2" cy="131.5" r="1.7" fill="#bebebe"/>
<circle cx="517.7" cy="133.3" r="1.7" fill="#bebebe"/>
<circle cx="517.6" cy="133.4" r="1.7" fill="#bebebe"/>
<circle cx="511.9" cy="133.3" r="1.7" fill="#bebebe"/>
<circle cx="509.5" cy="132.6" r="1.7" fill="#bebebe"/>
<circle cx="509.1" cy="132.8" r="1.7" fill="#bebebe"/>
<circle cx="518.2" cy="133.2" r="1.7" fill="#bebebe"/>
<circle cx="513.5" cy="133.6" r="1.7" fill="#bebebe"/>
<circle cx="512.0" cy="134.2" r="1.7" fill="#bebebe"/>
<circle cx="509.8" cy="133.7" r="1.7" fill="#bebebe"/>
<circle cx="510.0" cy="133.8" r="1.7" fill="#bebebe"/>
<circle cx="514.5" cy="133.6" r="1.7" fill="#bebebe"/>
<circle cx="504.9" cy="133.8" r="1.7" fill="#bebebe"/>
<circle cx="515.8" cy="135.2" r="1.7" fill="#bebebe"/>
<circle cx="518.6" cy="134.9" r="1.7" fill="#bebebe"/>
<circle cx="504.0" cy="135.0" r="1.7" fill="#bebebe"/>
<circle cx="510.7" cy="134.7" r="1.7" fill="#bebebe"/>
<circle cx="514.3" cy="134.8" r="1.7" fill="#bebebe"/>
<circle cx="507.3" cy="134.8" r="1.7" fill="#bebebe"/>
<circle cx="503.6" cy="135.9" r="1.7" fill="#bebebe"/>
<circle cx="508.1" cy="135.7" r="1.7" fill="#bebebe"/>
<circle cx="510.6" cy="135.7" r="1.7" fill="#bebebe"/>
<circle cx="518.6" cy="136.0" r="1.7" fill="#bebebe"/>
<circle cx="514.9" cy="135.7" r="1.7" fill="#bebebe"/>
<circle cx="511.1" cy="136.1" r="1.7" fill="#bebebe"/>
<circle cx="507.6" cy="137.0" r="1.7" fill="#bebebe"/>
<circle cx="517.7" cy="137.3" r="1.7" fill="#bebebe"/>
<circle cx="507.2" cy="137.0" r="1.7" fill="#bebebe"/>
<circle cx="516.1" cy="136.9" r="1.7" fill="#bebebe"/>
<circle cx="514.6" cy="137.2" r="1.7" fill="#bebebe"/>
<circle cx="519.6" cy="137.1" r="1.7" fill="#bebebe"/>
<circle cx="514.8" cy="136.9" r="1.7" fill="#bebebe"/>
<circle cx="508.9" cy="138.0" r="1.7" fill="#bebebe"/>
<circle cx="509.5" cy="137.8" r="1.7" fill="#bebebe"/>
<circle cx="505.7" cy="137.7" r="1.7" fill="#bebebe"/>
<circle cx="512.6" cy="137.8" r="1.7" fill="#bebebe"/>
<circle cx="504.2" cy="138.3" r="1.7" fill="#bebebe"/>
<circle cx="508.2" cy="138.4" r="1.7" fill="#bebebe"/>
<circle cx="513.5" cy="137.9" r="1.7" fill="#bebebe"/>
<circle cx="518.7" cy="138.8" r="1.7" fill="#bebebe"/>
<circle cx="505.6" cy="139.1" r="1.7" fill="#bebebe"/>
<circle cx="517.8" cy="139.1" r="1.7" fill="#bebebe"/>
<circle cx="516.8" cy="138.9" r="1.7" fill="#bebebe"/>
<circle cx="513.9" cy="138.8" r="1.7" fill="#bebebe"/>
<circle cx="510.4" cy="138.9" r="1.7" fill="#bebebe"/>
<circle cx="510.0" cy="138.9" r="1.7" fill="#bebebe"/>
<circle cx="506.3" cy="139.7" r="1.7" fill="#bebebe"/>
<circle cx="507.8" cy="140.5" r="1.7" fill="#bebebe"/>
<circle cx="512.4" cy="139.6" r="1.7" fill="#bebebe"/>
<circle cx="517.8" cy="140.4" r="1.7" fill="#bebebe"/>
<circle cx="517.6" cy="139.9" r="1.7" fill="#bebebe"/>
<circle cx="516.1" cy="139.8" r="1.7" fill="#bebebe"/>
<circle cx="505.8" cy="140.4" r="1.7" fill="#bebebe"/>
<circle cx="507.1" cy="141.4" r="1.7" fill="#bebebe"/>
<circle cx="503.8" cy="140.8" r="1.7" fill="#bebebe"/>
<circle cx="503.6" cy="140.7" r="1.7" fill="#bebebe"/>
<circle cx="506.2" cy="141.2" r="1.7" fill="#bebebe"/>
<circle cx="508.6" cy="140.7" r="1.7" fill="#bebebe"/>
<circle cx="506.6" cy="140.8" r="1.7" fill="#bebebe"/>
<circle cx="518.4" cy="141.1" r="1.7" fill="#bebebe"/>
<circle cx="515.5" cy="142.0" r="1.7" fill="#bebebe"/>
<circle cx="511.3" cy="142.0" r="1.7" fill="#bebebe"/>
<circle cx="514.9" cy="142.3" r="1.7" fill="#bebebe"/>
<circle cx="512.3" cy="142.1" r="1.7" fill="#bebebe"/>
<circle cx="511.6" cy="142.1" r="1.7" fill="#bebebe"/>
<circle cx="510.2" cy="141.9" r="1.7" fill="#bebebe"/>
<circle cx="512.5" cy="142.2" r="1.7" fill="#bebebe"/>
<circle cx="508.3" cy="142.4" r="1.7" fill="#bebebe"/>
<circle cx="518.6" cy="143.2" r="1.7" fill="#bebebe"/>
<circle cx="520.5" cy="143.2" r="1.7" fill="#bebebe"/>
<circle cx="511.0" cy="142.9" r="1.7" fill="#bebebe"/>
<circle cx="514.2" cy="143.3" r="1.7" fill="#bebebe"/>
<circle cx="518.4" cy="142.6" r="1.7" fill="#bebebe"/>
<circle cx="504.5" cy="142.6" r="1.7" fill="#bebebe"/>
<circle cx="504.9" cy="142.6" r="1.7" fill="#bebebe"/>
<circle cx="503.5" cy="142.7" r="1.7" fill="#bebebe"/>
<circle cx="515.7" cy="144.1" r="1.7" fill="#bebebe"/>
<circle cx="520.8" cy="144.5" r="1.7" fill="#bebebe"/>
<circle cx="516.8" cy="144.4" r="1.7" fill="#bebebe"/>
<circle cx="503.9" cy="143.7" r="1.7" fill="#bebebe"/>
<circle cx="520.1" cy="144.0" r="1.7" fill="#bebebe"/>
<circle cx="507.1" cy="144.3" r="1.7" fill="#bebebe"/>
<circle cx="511.0" cy="144.0" r="1.7" fill="#bebebe"/>
<circle cx="509.1" cy="143.7" r="1.7" fill="#bebebe"/>
<circle cx="514.4" cy="145.5" r="1.7" fill="#bebebe"/>
<circle cx="521.4" cy="145.3" r="1.7" fill="#bebebe"/>
<circle cx="520.4" cy="144.9" r="1.7" fill="#bebebe"/>
<circle cx="508.8" cy="145.4" r="1.7" fill="#bebebe"/>
<circle cx="514.3" cy="145.2" r="1.7" fill="#bebebe"/>
<circle cx="503.6" cy="144.7" r="1.7" fill="#bebebe"/>
<circle cx="512.2" cy="145.2" r="1.7" fill="#bebebe"/>
<circle cx="518.4" cy="145.3" r="1.7" fill="#bebebe"/>
<circle cx="510.4" cy="146.4" r="1.7" fill="#bebebe"/>
<circle cx="521.6" cy="146.0" r="1.7" fill="#bebebe"/>
<circle cx="506.9" cy="146.1" r="1.7" fill="#bebebe"/>
<circle cx="513.2" cy="145.9" r="1.7" fill="#bebebe"/>
<circle cx="507.6" cy="145.9" r="1.7" fill="#bebebe"/>
<circle cx="514.6" cy="145.6" r="1.7" fill="#bebebe"/>
<circle cx="513.3" cy="146.5" r="1.7" fill="#bebebe"/>
<circle cx="517.1" cy="145.8" r="1.7" fill="#bebebe"/>
<circle cx="505.2" cy="147.2" r="1.7" fill="#bebebe"/>
<circle cx="515.1" cy="146.7" r="1.7" fill="#bebebe"/>
<circle cx="513.5" cy="147.1" r="1.7" fill="#bebebe"/>
<circle cx="514.1" cy="146.9" r="1.7" fill="#bebebe"/>
<circle cx="509.1" cy="146.9" r="1.7" fill="#bebebe"/>
<circle cx="522.0" cy="146.8" r="1.7" fill="#bebebe"/>
<circle cx="512.7" cy="147.0" r="1.7" fill="#bebebe"/>
<circle cx="506.5" cy="146.9" r="1.7" fill="#bebebe"/>
<circle cx="509.4" cy="147.9" r="1.7" fill="#bebebe"/>
<circle cx="509.9" cy="148.4" r="1.7" fill="#bebebe"/>
<circle cx="508.9" cy="147.8" r="1.7" fill="#bebebe"/>
<circle cx="515.7" cy="147.9" r="1.7" fill="#bebebe"/>
<circle cx="513.0" cy="148.1" r="1.7" fill="#bebebe"/>
<circle cx="504.7" cy="148.2" r="1.7" fill="#bebebe"/>
<circle cx="505.2" cy="147.8" r="1.7" fill="#bebebe"/>
<circle cx="518.6" cy="148.5" r="1.7" fill="#bebebe"/>
<circle cx="516.0" cy="147.7" r="1.7" fill="#bebebe"/>
<circle cx="508.7" cy="149.3" r="1.7" fill="#bebebe"/>
<circle cx="507.8" cy="148.7" r="1.7" fill="#bebebe"/>
<circle cx="515.5" cy="149.1" r="1.7" fill="#bebebe"/>
<circle cx="514.6" cy="149.0" r="1.7" fill="#bebebe"/>
<circle cx="521.6" cy="149.0" r="1.7" fill="#bebebe"/>
<circle cx="521.2" cy="148.9" r="1.7" fill="#bebebe"/>
<circle cx="512.2" cy="148.9" r="1.7" fill="#bebebe"/>
<circle cx="516.9" cy="149.3" r="1.7" fill="#bebebe"/>
<circle cx="507.9" cy="149.0" r="1.7" fill="#bebebe"/>
<circle cx="513.0" cy="150.2" r="1.7" fill="#bebebe"/>
<circle cx="515.2" cy="150.2" r="1.7" fill="#bebebe"/>
<circle cx="510.1" cy="149.8" r="1.7" fill="#bebebe"/>
<circle cx="503.8" cy="150.4" r="1.7" fill="#bebebe"/>
<circle cx="518.5" cy="149.9" r="1.7" fill="#bebebe"/>
<circle cx="521.9" cy="150.4" r="1.7" fill="#bebebe"/>
<circle cx="506.2" cy="150.3" r="1.7" fill="#bebebe"/>
<circle cx="511.4" cy="149.8" r="1.7" fill="#bebebe"/>
<circle cx="511.4" cy="150.6" r="1.7" fill="#bebebe"/>
<circle cx="504.3" cy="150.6" r="1.7" fill="#bebebe"/>
<circle cx="509.3" cy="150.7" r="1.7" fill="#bebebe"/>
<circle cx="505.7" cy="151.3" r="1.7" fill="#bebebe"/>
<circle cx="510.7" cy="151.0" r="1.7" fill="#bebebe"/>
<circle cx="515.0" cy="151.4" r="1.7" fill="#bebebe"/>
<circle cx="506.1" cy="150.7" r="1.7" fill="#bebebe"/>
<circle cx="520.1" cy="151.4" r="1.7" fill="#bebebe"/>
<circle cx="521.4" cy="151.0" r="1.7" fill="#bebebe"/>
<circle cx="507.0" cy="152.4" r="1.7" fill="#bebebe"/>
<circle cx="518.3" cy="152.1" r="1.7" fill="#bebebe"/>
<circle cx="518.9" cy="151.8" r="1.7" fill="#bebebe"/>
<circle cx="513.8" cy="152.4" r="1.7" fill="#bebebe"/>
<circle cx="505.4" cy="152.1" r="1.7" fill="#bebebe"/>
<circle cx="506.9" cy="152.3" r="1.7" fill="#bebebe"/>
<circle cx="519.8" cy="152.1" r="1.7" fill="#bebebe"/>
<circle cx="511.9" cy="151.5" r="1.7" fill="#bebebe"/>
<circle cx="513.0" cy="151.9" r="1.7" fill="#bebebe"/>
<circle cx="504.8" cy="153.4" r="1.7" fill="#bebebe"/>
<circle cx="513.7" cy="153.1" r="1.7" fill="#bebebe"/>
<circle cx="520.0" cy="153.4" r="1.7" fill="#bebebe"/>
<circle cx="514.2" cy="153.0" r="1.7" fill="#bebebe"/>
<circle cx="520.1" cy="152.9" r="1.7" fill="#bebebe"/>
<circle cx="521.2" cy="152.5" r="1.7" fill="#bebebe"/>
<circle cx="519.1" cy="153.0" r="1.7" fill="#bebebe"/>
<circle cx="515.7" cy="153.5" r="1.7" fill="#bebebe"/>
<circle cx="507.7" cy="152.9" r="1.7" fill="#bebebe"/>
<circle cx="518.3" cy="154.0" r="1.7" fill="#bebebe"/>
<circle cx="518.9" cy="154.2" r="1.7" fill="#bebebe"/>
<circle cx="520.7" cy="154.2" r="1.7" fill="#bebebe"/>
<circle cx="510.6" cy="153.8" r="1.7" fill="#bebebe"/>
<circle cx="504.9" cy="153.6" r="1.7" fill="#bebebe"/>
<circle cx="504.2" cy="154.5" r="1.7" fill="#bebebe"/>
<circle cx="506.1" cy="154.1" r="1.7" fill="#bebebe"/>
<circle cx="506.0" cy="154.5" r="1.7" fill="#bebebe"/>
<circle cx="514.0" cy="153.7" r="1.7" fill="#bebebe"/>
<circle cx="520.7" cy="155.5" r="1.7" fill="#bebebe"/>
<circle cx="507.8" cy="154.9" r="1.7" fill="#bebebe"/>
<circle cx="516.7" cy="154.8" r="1.7" fill="#bebebe"/>
<circle cx="514.8" cy="155.2" r="1.7" fill="#bebebe"/>
<circle cx="518.5" cy="155.3" r="1.7" fill="#bebebe"/>
<circle cx="518.5" cy="154.8" r="1.7" fill="#bebebe"/>
<circle cx="518.6" cy="154.9" r="1.7" fill="#bebebe"/>
<circle cx="506.7" cy="154.5" r="1.7" fill="#bebebe"/>
<circle cx="515.9" cy="154.9" r="1.7" fill="#bebebe"/>
<circle cx="513.3" cy="155.9" r="1.7" fill="#bebebe"/>
<circle cx="509.9" cy="156.1" r="1.7" fill="#bebebe"/>
<circle cx="514.3" cy="156.0" r="1.7" fill="#bebebe"/>
<circle cx="523.5" cy="156.4" r="1.7" fill="#bebebe"/>
<circle cx="509.4" cy="156.4" r="1.7" fill="#bebebe"/>
<circle cx="509.7" cy="156.4" r="1.7" fill="#bebebe"/>
<circle cx="504.5" cy="155.8" r="1.7" fill="#bebebe"/>
<circle cx="522.3" cy="156.2" r="1.7" fill="#bebebe"/>
<circle cx="517.7" cy="155.7" r="1.7" fill="#bebebe"/>
<circle cx="505.8" cy="156.5" r="1.7" fill="#bebebe"/>
<circle cx="506.9" cy="156.9" r="1.7" fill="#bebebe"/>
<circle cx="520.2" cy="157.2" r="1.7" fill="#bebebe"/>
<circle cx="523.9" cy="157.3" r="1.7" fill="#bebebe"/>
<circle cx="512.3" cy="157.4" r="1.7" fill="#bebebe"/>
<circle cx="509.8" cy="156.6" r="1.7" fill="#bebebe"/>
<circle cx="523.1" cy="157.4" r="1.7" fill="#bebebe"/>
<circle cx="516.9" cy="157.0" r="1.7" fill="#bebebe"/>
<circle cx="507.5" cy="156.7" r="1.7" fill="#bebebe"/>
<circle cx="504.7" cy="156.6" r="1.7" fill="#bebebe"/>
<circle cx="513.2" cy="157.4" r="1.7" fill="#bebebe"/>
<circle cx="514.0" cy="158.2" r="1.7" fill="#bebebe"/>
<circle cx="513.0" cy="158.3" r="1.7" fill="#bebebe"/>
<circle cx="518.0" cy="158.5" r="1.7" fill="#bebebe"/>
<circle cx="520.9" cy="158.2" r="1.7" fill="#bebebe"/>
<circle cx="515.6" cy="157.7" r="1.7" fill="#bebebe"/>
<circle cx="513.1" cy="157.9" r="1.7" fill="#bebebe"/>
<circle cx="506.5" cy="157.7" r="1.7" fill="#bebebe"/>
<circle cx="511.9" cy="157.7" r="1.7" fill="#bebebe"/>
<circle cx="516.3" cy="157.8" r="1.7" fill="#bebebe"/>
<circle cx="517.7" cy="159.0" r="1.7" fill="#bebebe"/>
<circle cx="512.4" cy="158.9" r="1.7" fill="#bebebe"/>
<circle cx="507.5" cy="159.5" r="1.7" fill="#bebebe"/>
<circle cx="522.5" cy="159.2" r="1.7" fill="#bebebe"/>
<circle cx="517.0" cy="158.6" r="1.7" fill="#bebebe"/>
<circle cx="514.7" cy="158.7" r="1.7" fill="#bebebe"/>
<circle cx="510.1" cy="159.1" r="1.7" fill="#bebebe"/>
<circle cx="506.9" cy="158.7" r="1.7" fill="#bebebe"/>
<circle cx="518.6" cy="159.0" r="1.7" fill="#bebebe"/>
<circle cx="506.7" cy="159.6" r="1.7" fill="#bebebe"/>
<circle cx="523.2" cy="160.1" r="1.7" fill="#bebebe"/>
<circle cx="518.0" cy="160.1" r="1.7" fill="#bebebe"/>
<circle cx="506.5" cy="160.5" r="1.7" fill="#bebebe"/>
<circle cx="513.8" cy="160.4" r="1.7" fill="#bebebe"/>
<circle cx="506.4" cy="159.8" r="1.7" fill="#bebebe"/>
<circle cx="514.9" cy="159.7" r="1.7" fill="#bebebe"/>
<circle cx="521.5" cy="159.8" r="1.7" fill="#bebebe"/>
<circle cx="505.0" cy="159.7" r="1.7" fill="#bebebe"/>
<circle cx="509.1" cy="160.4" r="1.7" fill="#bebebe"/>
<circle cx="517.6" cy="160.9" r="1.7" fill="#bebebe"/>
<circle cx="504.2" cy="161.3" r="1.7" fill="#bebebe"/>
<circle cx="506.0" cy="160.7" r="1.7" fill="#bebebe"/>
<circle cx="512.6" cy="161.4" r="1.7" fill="#bebebe"/>
<circle cx="507.2" cy="160.6" r="1.7" fill="#bebebe"/>
<circle cx="522.7" cy="160.5" r="1.7" fill="#bebebe"/>
<circle cx="519.0" cy="160.6" r="1.7" fill="#bebebe"/>
<circle cx="509.7" cy="160.7" r="1.7" fill="#bebebe"/>
<circle cx="512.7" cy="161.4" r="1.7" fill="#bebebe"/>
<circle cx="521.3" cy="161.0" r="1.7" fill="#bebebe"/>
<circle cx="507.1" cy="161.8" r="1.7" fill="#bebebe"/>
<circle cx="520.4" cy="162.4" r="1.7" fill="#bebebe"/>
<circle cx="503.9" cy="161.8" r="1.7" fill="#bebebe"/>
<circle cx="524.0" cy="161.7" r="1.7" fill="#bebebe"/>
<circle cx="505.0" cy="161.8" r="1.7" fill="#bebebe"/>
<circle cx="522.5" cy="161.8" r="1.7" fill="#bebebe"/>
<circle cx="518.9" cy="161.6" r="1.7" fill="#bebebe"/>
<circle cx="517.5" cy="161.7" r="1.7" fill="#bebebe"/>
<circle cx="516.2" cy="162.2" r="1.7" fill="#bebebe"/>
<circle cx="522.3" cy="161.9" r="1.7" fill="#bebebe"/>
<circle cx="524.6" cy="161.9" r="1.7" fill="#bebebe"/>
<circle cx="523.2" cy="163.5" r="1.7" fill="#bebebe"/>
<circle cx="505.6" cy="162.8" r="1.7" fill="#bebebe"/>
<circle cx="518.5" cy="163.4" r="1.7" fill="#bebebe"/>
<circle cx="508.9" cy="163.3" r="1.7" fill="#bebebe"/>
<circle cx="513.7" cy="162.5" r="1.7" fill="#bebebe"/>
<circle cx="505.2" cy="162.5" r="1.7" fill="#bebebe"/>
<circle cx="508.3" cy="163.4" r="1.7" fill="#bebebe"/>
<circle cx="518.1" cy="163.4" r="1.7" fill="#bebebe"/>
<circle cx="523.3" cy="162.9" r="1.7" fill="#bebebe"/>
<circle cx="518.5" cy="163.2" r="1.7" fill="#bebebe"/>
<circle cx="505.3" cy="164.4" r="1.7" fill="#bebebe"/>
<circle cx="506.8" cy="163.9" r="1.7" fill="#bebebe"/>
<circle cx="518.4" cy="164.2" r="1.7" fill="#bebebe"/>
<circle cx="521.5" cy="163.8" r="1.7" fill="#bebebe"/>
<circle cx="509.9" cy="164.2" r="1.7" fill="#bebebe"/>
<circle cx="504.3" cy="164.4" r="1.7" fill="#bebebe"/>
<circle cx="510.2" cy="163.9" r="1.7" fill="#bebebe"/>
<circle cx="510.2" cy="164.2" r="1.7" fill="#bebebe"/>
<circle cx="507.1" cy="163.6" r="1.7" fill="#bebebe"/>
<circle cx="504.8" cy="163.6" r="1.7" fill="#bebebe"/>
<circle cx="525.3" cy="164.5" r="1.7" fill="#bebebe"/>
<circle cx="513.6" cy="164.9" r="1.7" fill="#bebebe"/>
<circle cx="510.2" cy="164.8" r="1.7" fill="#bebebe"/>
<circle cx="505.7" cy="164.9" r="1.7" fill="#bebebe"/>
<circle cx="509.2" cy="164.6" r="1.7" fill="#bebebe"/>
<circle cx="506.3" cy="165.4" r="1.7" fill="#bebebe"/>
<circle cx="519.2" cy="165.5" r="1.7" fill="#bebebe"/>
<circle cx="521.4" cy="165.2" r="1.7" fill="#bebebe"/>
<circle cx="508.3" cy="164.6" r="1.7" fill="#bebebe"/>
<circle cx="525.1" cy="165.2" r="1.7" fill="#bebebe"/>
<circle cx="506.4" cy="166.3" r="1.7" fill="#bebebe"/>
<circle cx="515.2" cy="165.6" r="1.7" fill="#bebebe"/>
<circle cx="507.9" cy="166.5" r="1.7" fill="#bebebe"/>
<circle cx="517.2" cy="165.6" r="1.7" fill="#bebebe"/>
<circle cx="505.0" cy="166.3" r="1.7" fill="#bebebe"/>
<circle cx="511.1" cy="166.0" r="1.7" fill="#bebebe"/>
<circle cx="506.3" cy="165.7" r="1.7" fill="#bebebe"/>
<circle cx="514.4" cy="165.9" r="1.7" fill="#bebebe"/>
<circle cx="507.4" cy="165.7" r="1.7" fill="#bebebe"/>
<circle cx="513.2" cy="165.6" r="1.7" fill="#bebebe"/>
<circle cx="504.6" cy="166.0" r="1.7" fill="#bebebe"/>
<circle cx="519.9" cy="167.3" r="1.7" fill="#bebebe"/>
<circle cx="519.2" cy="167.5" r="1.7" fill="#bebebe"/>
<circle cx="506.9" cy="166.9" r="1.7" fill="#bebebe"/>
<circle cx="512.6" cy="166.6" r="1.7" fill="#bebebe"/>
<circle cx="522.7" cy="166.5" r="1.7" fill="#bebebe"/>
<circle cx="525.5" cy="167.2" r="1.7" fill="#bebebe"/>
<circle cx="525.6" cy="166.6" r="1.7" fill="#bebebe"/>
<circle cx="523.5" cy="167.5" r="1.7" fill="#bebebe"/>
<circle cx="520.9" cy="167.1" r="1.7" fill="#bebebe"/>
<circle cx="517.9" cy="167.0" r="1.7" fill="#bebebe"/>
<circle cx="522.6" cy="167.1" r="1.7" fill="#bebebe"/>
<circle cx="512.3" cy="168.1" r="1.7" fill="#bebebe"/>
<circle cx="516.6" cy="168.4" r="1.7" fill="#bebebe"/>
<circle cx="520.9" cy="167.8" r="1.7" fill="#bebebe"/>
<circle cx="519.7" cy="167.7" r="1.7" fill="#bebebe"/>
<circle cx="514.1" cy="168.0" r="1.7" fill="#bebebe"/>
<circle cx="519.8" cy="167.6" r="1.7" fill="#bebebe"/>
<circle cx="506.4" cy="167.7" r="1.7" fill="#bebebe"/>
<circle cx="517.3" cy="167.7" r="1.7" fill="#bebebe"/>
<circle cx="515.9" cy="168.4" r="1.7" fill="#bebebe"/>
<circle cx="512.9" cy="167.7" r="1.7" fill="#bebebe"/>
<circle cx="516.8" cy="167.9" r="1.7" fill="#bebebe"/>
<circle cx="507.0" cy="169.2" r="1.7" fill="#bebebe"/>
<circle cx="511.0" cy="169.5" r="1.7" fill="#bebebe"/>
<circle cx="514.5" cy="169.2" r="1.7" fill="#bebebe"/>
<circle cx="524.6" cy="169.5" r="1.7" fill="#bebebe"/>
<circle cx="503.3" cy="169.4" r="1.7" fill="#bebebe"/>
<circle cx="505.3" cy="169.4" r="1.7" fill="#bebebe"/>
<circle cx="521.4" cy="168.8" r="1.7" fill="#bebebe"/>
<circle cx="519.7" cy="169.1" r="1.7" fill="#bebebe"/>
<circle cx="513.5" cy="169.1" r="1.7" fill="#bebebe"/>
<circle cx="513.6" cy="169.2" r="1.7" fill="#bebebe"/>
<circle cx="519.2" cy="168.5" r="1.7" fill="#bebebe"/>
<circle cx="519.5" cy="170.4" r="1.7" fill="#bebebe"/>
<circle cx="515.5" cy="170.0" r="1.7" fill="#bebebe"/>
<circle cx="506.2" cy="169.7" r="1.7" fill="#bebebe"/>
<circle cx="524.1" cy="169.6" r="1.7" fill="#bebebe"/>
<circle cx="524.2" cy="169.6" r="1.7" fill="#bebebe"/>
<circle cx="511.9" cy="170.1" r="1.7" fill="#bebebe"/>
<circle cx="503.4" cy="169.9" r="1.7" fill="#bebebe"/>
<circle cx="521.8" cy="169.9" r="1.7" fill="#bebebe"/>
<circle cx="506.9" cy="169.6" r="1.7" fill="#bebebe"/>
<circle cx="525.3" cy="169.6" r="1.7" fill="#bebebe"/>
<circle cx="518.7" cy="170.1" r="1.7" fill="#bebebe"/>
<circle cx="516.1" cy="171.2" r="1.7" fill="#bebebe"/>
<circle cx="507.6" cy="170.7" r="1.7" fill="#bebebe"/>
<circle cx="524.9" cy="170.7" r="1.7" fill="#bebebe"/>
<circle cx="514.4" cy="171.0" r="1.7" fill="#bebebe"/>
<circle cx="521.4" cy="171.4" r="1.7" fill="#bebebe"/>
<circle cx="521.1" cy="171.1" r="1.7" fill="#bebebe"/>
<circle cx="515.7" cy="170.6" r="1.7" fill="#bebebe"/>
<circle cx="516.5" cy="170.9" r="1.7" fill="#bebebe"/>
<circle cx="520.9" cy="170.9" r="1.7" fill="#bebebe"/>
<circle cx="505.6" cy="170.9" r="1.7" fill="#bebebe"/>
<circle cx="522.7" cy="171.0" r="1.7" fill="#bebebe"/>
<circle cx="518.8" cy="170.6" r="1.7" fill="#bebebe"/>
<circle cx="509.0" cy="172.0" r="1.7" fill="#bebebe"/>
<circle cx="505.4" cy="172.4" r="1.7" fill="#bebebe"/>
<circle cx="510.6" cy="171.5" r="1.7" fill="#bebebe"/>
<circle cx="508.4" cy="172.0" r="1.7" fill="#bebebe"/>
<circle cx="517.6" cy="172.3" r="1.7" fill="#bebebe"/>
<circle cx="504.6" cy="172.5" r="1.7" fill="#bebebe"/>
<circle cx="523.5" cy="172.0" r="1.7" fill="#bebebe"/>
<circle cx="518.4" cy="171.8" r="1.7" fill="#bebebe"/>
<circle cx="506.1" cy="171.5" r="1.7" fill="#bebebe"/>
<circle cx="526.1" cy="172.4" r="1.7" fill="#bebebe"/>
<circle cx="513.4" cy="172.1" r="1.7" fill="#bebebe"/>
<circle cx="514.2" cy="172.2" r="1.7" fill="#bebebe"/>
<circle cx="521.1" cy="172.7" r="1.7" fill="#bebebe"/>
<circle cx="517.0" cy="173.1" r="1.7" fill="#bebebe"/>
<circle cx="523.4" cy="173.1" r="1.7" fill="#bebebe"/>
<circle cx="506.9" cy="173.3" r="1.7" fill="#bebebe"/>
<circle cx="511.7" cy="173.1" r="1.7" fill="#bebebe"/>
<circle cx="522.2" cy="173.5" r="1.7" fill="#bebebe"/>
<circle cx="505.0" cy="173.0" r="1.7" fill="#bebebe"/>
<circle cx="510.2" cy="173.3" r="1.7" fill="#bebebe"/>
<circle cx="512.3" cy="173.4" r="1.7" fill="#bebebe"/>
<circle cx="522.0" cy="172.9" r="1.7" fill="#bebebe"/>
<circle cx="521.3" cy="173.2" r="1.7" fill="#bebebe"/>
<circle cx="505.4" cy="172.8" r="1.7" fill="#bebebe"/>
<circle cx="523.1" cy="173.9" r="1.7" fill="#bebebe"/>
<circle cx="509.9" cy="174.2" r="1.7" fill="#bebebe"/>
<circle cx="526.9" cy="173.6" r="1.7" fill="#bebebe"/>
<circle cx="519.6" cy="173.7" r="1.7" fill="#bebebe"/>
<circle cx="522.1" cy="174.2" r="1.7" fill="#bebebe"/>
<circle cx="521.5" cy="174.1" r="1.7" fill="#bebebe"/>
<circle cx="505.5" cy="174.4" r="1.7" fill="#bebebe"/>
<circle cx="505.2" cy="174.1" r="1.7" fill="#bebebe"/>
<circle cx="526.2" cy="173.8" r="1.7" fill="#bebebe"/>
<circle cx="514.4" cy="174.2" r="1.7" fill="#bebebe"/>
<circle cx="518.5" cy="173.8" r="1.7" fill="#bebebe"/>
<circle cx="512.8" cy="174.4" r="1.7" fill="#bebebe"/>
<circle cx="520.2" cy="173.7" r="1.7" fill="#bebebe"/>
<circle cx="523.7" cy="175.1" r="1.7" fill="#bebebe"/>
<circle cx="524.7" cy="174.8" r="1.7" fill="#bebebe"/>
<circle cx="509.6" cy="175.4" r="1.7" fill="#bebebe"/>
<circle cx="508.8" cy="174.6" r="1.7" fill="#bebebe"/>
<circle cx="506.1" cy="175.4" r="1.7" fill="#bebebe"/>
<circle cx="523.0" cy="174.7" r="1.7" fill="#bebebe"/>
<circle cx="520.9" cy="174.7" r="1.7" fill="#bebebe"/>
<circle cx="517.9" cy="174.5" r="1.7" fill="#bebebe"/>
<circle cx="516.8" cy="175.3" r="1.7" fill="#bebebe"/>
<circle cx="515.0" cy="175.1" r="1.7" fill="#bebebe"/>
<circle cx="505.4" cy="175.0" r="1.7" fill="#bebebe"/>
<circle cx="522.0" cy="174.9" r="1.7" fill="#bebebe"/>
<circle cx="517.4" cy="176.3" r="1.7" fill="#bebebe"/>
<circle cx="520.9" cy="175.8" r="1.7" fill="#bebebe"/>
<circle cx="523.0" cy="176.3" r="1.7" fill="#bebebe"/>
<circle cx="513.1" cy="176.2" r="1.7" fill="#bebebe"/>
<circle cx="512.8" cy="176.1" r="1.7" fill="#bebebe"/>
<circle cx="510.5" cy="176.0" r="1.7" fill="#bebebe"/>
<circle cx="510.1" cy="176.4" r="1.7" fill="#bebebe"/>
<circle cx="517.8" cy="176.1" r="1.7" fill="#bebebe"/>
<circle cx="515.5" cy="176.0" r="1.7" fill="#bebebe"/>
<circle cx="506.8" cy="176.1" r="1.7" fill="#bebebe"/>
<circle cx="513.6" cy="175.8" r="1.7" fill="#bebebe"/>
<circle cx="515.3" cy="175.6" r="1.7" fill="#bebebe"/>
<circle cx="522.1" cy="176.9" r="1.7" fill="#bebebe"/>
<circle cx="506.5" cy="177.5" r="1.7" fill="#bebebe"/>
<circle cx="518.0" cy="176.8" r="1.7" fill="#bebebe"/>
<circle cx="504.7" cy="177.1" r="1.7" fill="#bebebe"/>
<circle cx="507.9" cy="177.4" r="1.7" fill="#bebebe"/>
<circle cx="520.5" cy="176.8" r="1.7" fill="#bebebe"/>
<circle cx="512.7" cy="176.6" r="1.7" fill="#bebebe"/>
<circle cx="508.0" cy="177.1" r="1.7" fill="#bebebe"/>
<circle cx="524.7" cy="176.9" r="1.7" fill="#bebebe"/>
<circle cx="526.7" cy="176.8" r="1.7" fill="#bebebe"/>
<circle cx="505.0" cy="177.3" r="1.7" fill="#bebebe"/>
<circle cx="511.9" cy="176.8" r="1.7" fill="#bebebe"/>
<circle cx="517.9" cy="177.7" r="1.7" fill="#bebebe"/>
<circle cx="505.1" cy="178.1" r="1.7" fill="#bebebe"/>
<circle cx="519.1" cy="178.1" r="1.7" fill="#bebebe"/>
<circle cx="506.4" cy="178.4" r="1.7" fill="#bebebe"/>
<circle cx="513.3" cy="178.0" r="1.7" fill="#bebebe"/>
<circle cx="524.8" cy="177.6" r="1.7" fill="#bebebe"/>
<circle cx="514.9" cy="177.9" r="1.7" fill="#bebebe"/>
<circle cx="518.6" cy="177.7" r="1.7" fill="#bebebe"/>
<circle cx="508.5" cy="177.7" r="1.7" fill="#bebebe"/>
<circle cx="516.5" cy="177.8" r="1.7" fill="#bebebe"/>
<circle cx="525.9" cy="178.4" r="1.7" fill="#bebebe"/>
<circle cx="520.8" cy="177.9" r="1.7" fill="#bebebe"/>
<circle cx="523.3" cy="178.1" r="1.7" fill="#bebebe"/>
<circle cx="526.7" cy="178.6" r="1.7" fill="#bebebe"/>
<circle cx="521.8" cy="179.4" r="1.7" fill="#bebebe"/>
<circle cx="512.7" cy="178.8" r="1.7" fill="#bebebe"/>
<circle cx="503.1" cy="179.4" r="1.7" fill="#bebebe"/>
<circle cx="507.6" cy="178.5" r="1.7" fill="#bebebe"/>
<circle cx="504.6" cy="179.0" r="1.7" fill="#bebebe"/>
<circle cx="519.8" cy="179.4" r="1.7" fill="#bebebe"/>
<circle cx="519.3" cy="178.6" r="1.7" fill="#bebebe"/>
<circle cx="526.1" cy="179.4" r="1.7" fill="#bebebe"/>
<circle cx="522.9" cy="179.4" r="1.7" fill="#bebebe"/>
<circle cx="523.7" cy="179.2" r="1.7" fill="#bebebe"/>
<circle cx="521.9" cy="178.5" r="1.7" fill="#bebebe"/>
<circle cx="502.4" cy="179.9" r="1.7" fill="#bebebe"/>
<circle cx="516.9" cy="180.0" r="1.7" fill="#bebebe"/>
<circle cx="511.0" cy="180.0" r="1.7" fill="#bebebe"/>
<circle cx="510.4" cy="180.2" r="1.7" fill="#bebebe"/>
<circle cx="503.1" cy="179.8" r="1.7" fill="#bebebe"/>
<circle cx="519.0" cy="180.0" r="1.7" fill="#bebebe"/>
<circle cx="502.8" cy="180.0" r="1.7" fill="#bebebe"/>
<circle cx="526.1" cy="180.0" r="1.7" fill="#bebebe"/>
<circle cx="521.1" cy="179.9" r="1.7" fill="#bebebe"/>
<circle cx="527.5" cy="180.0" r="1.7" fill="#bebebe"/>
<circle cx="523.1" cy="180.1" r="1.7" fill="#bebebe"/>
<circle cx="523.2" cy="179.9" r="1.7" fill="#bebebe"/>
<circle cx="476.0" cy="164.9" r="1.7" fill="#bebebe"/>
<circle cx="474.5" cy="165.1" r="1.7" fill="#bebebe"/>
<circle cx="486.2" cy="164.5" r="1.7" fill="#bebebe"/>
<circle cx="516.7" cy="164.7" r="1.7" fill="#bebebe"/>
<circle cx="534.5" cy="165.0" r="1.7" fill="#bebebe"/>
<circle cx="513.5" cy="164.7" r="1.7" fill="#bebebe"/>
<circle cx="466.1" cy="166.0" r="1.7" fill="#bebebe"/>
<circle cx="470.1" cy="166.2" r="1.7" fill="#bebebe"/>
<circle cx="527.4" cy="166.1" r="1.7" fill="#bebebe"/>
<circle cx="518.2" cy="165.5" r="1.7" fill="#bebebe"/>
<circle cx="514.5" cy="166.4" r="1.7" fill="#bebebe"/>
<circle cx="463.4" cy="166.9" r="1.7" fill="#bebebe"/>
<circle cx="467.5" cy="166.9" r="1.7" fill="#bebebe"/>
<circle cx="531.4" cy="166.6" r="1.7" fill="#bebebe"/>
<circle cx="516.3" cy="166.7" r="1.7" fill="#bebebe"/>
<circle cx="515.0" cy="166.8" r="1.7" fill="#bebebe"/>
<circle cx="477.0" cy="167.9" r="1.7" fill="#bebebe"/>
<circle cx="472.5" cy="168.1" r="1.7" fill="#bebebe"/>
<circle cx="527.3" cy="168.4" r="1.7" fill="#bebebe"/>
<circle cx="531.6" cy="168.5" r="1.7" fill="#bebebe"/>
<circle cx="516.4" cy="168.5" r="1.7" fill="#bebebe"/>
<circle cx="472.0" cy="169.2" r="1.7" fill="#bebebe"/>
<circle cx="479.6" cy="169.3" r="1.7" fill="#bebebe"/>
<circle cx="520.4" cy="168.6" r="1.7" fill="#bebebe"/>
<circle cx="532.4" cy="169.5" r="1.7" fill="#bebebe"/>
<circle cx="482.2" cy="168.9" r="1.7" fill="#bebebe"/>
<circle cx="515.9" cy="169.3" r="1.7" fill="#bebebe"/>
<circle cx="481.7" cy="170.1" r="1.7" fill="#bebebe"/>
<circle cx="481.7" cy="170.2" r="1.7" fill="#bebebe"/>
<circle cx="534.0" cy="170.5" r="1.7" fill="#bebebe"/>
<circle cx="525.3" cy="170.5" r="1.7" fill="#bebebe"/>
<circle cx="482.8" cy="170.1" r="1.7" fill="#bebebe"/>
<circle cx="516.5" cy="169.9" r="1.7" fill="#bebebe"/>
<circle cx="478.7" cy="170.5" r="1.7" fill="#bebebe"/>
<circle cx="462.5" cy="170.8" r="1.7" fill="#bebebe"/>
<circle cx="535.3" cy="170.9" r="1.7" fill="#bebebe"/>
<circle cx="525.2" cy="171.0" r="1.7" fill="#bebebe"/>
<circle cx="468.4" cy="172.4" r="1.7" fill="#bebebe"/>
<circle cx="470.9" cy="171.9" r="1.7" fill="#bebebe"/>
<circle cx="522.0" cy="171.8" r="1.7" fill="#bebebe"/>
<circle cx="539.3" cy="172.0" r="1.7" fill="#bebebe"/>
<circle cx="481.0" cy="171.9" r="1.7" fill="#bebebe"/>
<circle cx="467.7" cy="173.1" r="1.7" fill="#bebebe"/>
<circle cx="478.5" cy="173.1" r="1.7" fill="#bebebe"/>
<circle cx="470.9" cy="173.2" r="1.7" fill="#bebebe"/>
<circle cx="532.0" cy="173.2" r="1.7" fill="#bebebe"/>
<circle cx="519.3" cy="172.6" r="1.7" fill="#bebebe"/>
<circle cx="470.2" cy="174.1" r="1.7" fill="#bebebe"/>
<circle cx="472.9" cy="173.9" r="1.7" fill="#bebebe"/>
<circle cx="525.9" cy="174.1" r="1.7" fill="#bebebe"/>
<circle cx="524.7" cy="173.9" r="1.7" fill="#bebebe"/>
<circle cx="520.5" cy="174.2" r="1.7" fill="#bebebe"/>
<circle cx="473.7" cy="175.3" r="1.7" fill="#bebebe"/>
<circle cx="473.4" cy="174.7" r="1.7" fill="#bebebe"/>
<circle cx="533.4" cy="174.6" r="1.7" fill="#bebebe"/>
<circle cx="525.9" cy="174.8" r="1.7" fill="#bebebe"/>
<circle cx="522.0" cy="174.7" r="1.7" fill="#bebebe"/>
<circle cx="464.6" cy="176.4" r="1.7" fill="#bebebe"/>
<circle cx="468.8" cy="175.7" r="1.7" fill="#bebebe"/>
<circle cx="530.6" cy="175.7" r="1.7" fill="#bebebe"/>
<circle cx="536.9" cy="176.3" r="1.7" fill="#bebebe"/>
<circle cx="476.6" cy="176.3" r="1.7" fill="#bebebe"/>
<circle cx="470.1" cy="176.6" r="1.7" fill="#bebebe"/>
<circle cx="471.1" cy="177.3" r="1.7" fill="#bebebe"/>
<circle cx="527.7" cy="176.9" r="1.7" fill="#bebebe"/>
<circle cx="529.1" cy="176.9" r="1.7" fill="#bebebe"/>
<circle cx="521.3" cy="177.4" r="1.7" fill="#bebebe"/>
<circle cx="453.1" cy="177.9" r="1.7" fill="#bebebe"/>
<circle cx="454.8" cy="178.4" r="1.7" fill="#bebebe"/>
<circle cx="536.9" cy="178.3" r="1.7" fill="#bebebe"/>
<circle cx="534.9" cy="178.0" r="1.7" fill="#bebebe"/>
<circle cx="475.1" cy="177.7" r="1.7" fill="#bebebe"/>
<circle cx="523.3" cy="177.8" r="1.7" fill="#bebebe"/>
<circle cx="473.9" cy="179.4" r="1.7" fill="#bebebe"/>
<circle cx="461.6" cy="179.4" r="1.7" fill="#bebebe"/>
<circle cx="542.0" cy="179.1" r="1.7" fill="#bebebe"/>
<circle cx="523.3" cy="179.2" r="1.7" fill="#bebebe"/>
<circle cx="474.5" cy="179.2" r="1.7" fill="#bebebe"/>
<circle cx="523.5" cy="179.4" r="1.7" fill="#bebebe"/>
<circle cx="468.1" cy="179.8" r="1.7" fill="#bebebe"/>
<circle cx="456.6" cy="180.0" r="1.7" fill="#bebebe"/>
<circle cx="529.9" cy="179.7" r="1.7" fill="#bebebe"/>
<circle cx="533.6" cy="180.3" r="1.7" fill="#bebebe"/>
<circle cx="472.6" cy="180.4" r="1.7" fill="#bebebe"/>
<circle cx="473.1" cy="181.1" r="1.7" fill="#bebebe"/>
<circle cx="455.9" cy="180.5" r="1.7" fill="#bebebe"/>
<circle cx="529.1" cy="181.0" r="1.7" fill="#bebebe"/>
<circle cx="532.0" cy="181.0" r="1.7" fill="#bebebe"/>
<circle cx="524.0" cy="180.6" r="1.7" fill="#bebebe"/>
<circle cx="471.4" cy="182.5" r="1.7" fill="#bebebe"/>
<circle cx="455.5" cy="181.6" r="1.7" fill="#bebebe"/>
<circle cx="530.6" cy="181.8" r="1.7" fill="#bebebe"/>
<circle cx="531.3" cy="182.1" r="1.7" fill="#bebebe"/>
<circle cx="524.9" cy="181.8" r="1.7" fill="#bebebe"/>
<circle cx="462.0" cy="183.2" r="1.7" fill="#bebebe"/>
<circle cx="465.5" cy="182.6" r="1.7" fill="#bebebe"/>
<circle cx="532.3" cy="183.1" r="1.7" fill="#bebebe"/>
<circle cx="541.6" cy="182.9" r="1.7" fill="#bebebe"/>
<circle cx="542.2" cy="183.1" r="1.7" fill="#bebebe"/>
<circle cx="471.6" cy="183.0" r="1.7" fill="#bebebe"/>
<circle cx="458.5" cy="184.0" r="1.7" fill="#bebebe"/>
<circle cx="467.4" cy="184.0" r="1.7" fill="#bebebe"/>
<circle cx="527.3" cy="183.9" r="1.7" fill="#bebebe"/>
<circle cx="534.0" cy="184.4" r="1.7" fill="#bebebe"/>
<circle cx="527.6" cy="184.3" r="1.7" fill="#bebebe"/>
<circle cx="462.8" cy="184.6" r="1.7" fill="#bebebe"/>
<circle cx="454.9" cy="185.2" r="1.7" fill="#bebebe"/>
<circle cx="543.4" cy="185.2" r="1.7" fill="#bebebe"/>
<circle cx="541.8" cy="185.1" r="1.7" fill="#bebebe"/>
<circle cx="470.1" cy="184.5" r="1.7" fill="#bebebe"/>
<circle cx="527.8" cy="184.5" r="1.7" fill="#bebebe"/>
<circle cx="468.9" cy="186.4" r="1.7" fill="#bebebe"/>
<circle cx="467.5" cy="185.5" r="1.7" fill="#bebebe"/>
<circle cx="453.7" cy="185.6" r="1.7" fill="#bebebe"/>
<circle cx="540.8" cy="186.3" r="1.7" fill="#bebebe"/>
<circle cx="549.6" cy="186.1" r="1.7" fill="#bebebe"/>
<circle cx="528.3" cy="186.0" r="1.7" fill="#bebebe"/>
<circle cx="468.3" cy="187.2" r="1.7" fill="#bebebe"/>
<circle cx="450.2" cy="186.6" r="1.7" fill="#bebebe"/>
<circle cx="538.8" cy="187.3" r="1.7" fill="#bebebe"/>
<circle cx="532.0" cy="186.7" r="1.7" fill="#bebebe"/>
<circle cx="532.2" cy="187.1" r="1.7" fill="#bebebe"/>
<circle cx="527.8" cy="186.9" r="1.7" fill="#bebebe"/>
<circle cx="462.2" cy="187.6" r="1.7" fill="#bebebe"/>
<circle cx="460.6" cy="188.5" r="1.7" fill="#bebebe"/>
<circle cx="544.0" cy="187.7" r="1.7" fill="#bebebe"/>
<circle cx="542.5" cy="188.3" r="1.7" fill="#bebebe"/>
<circle cx="528.6" cy="188.1" r="1.7" fill="#bebebe"/>
<circle cx="466.6" cy="188.6" r="1.7" fill="#bebebe"/>
<circle cx="454.8" cy="189.4" r="1.7" fill="#bebebe"/>
<circle cx="537.2" cy="189.2" r="1.7" fill="#bebebe"/>
<circle cx="532.0" cy="188.8" r="1.7" fill="#bebebe"/>
<circle cx="468.2" cy="188.8" r="1.7" fill="#bebebe"/>
<circle cx="529.6" cy="189.5" r="1.7" fill="#bebebe"/>
<circle cx="455.3" cy="189.9" r="1.7" fill="#bebebe"/>
<circle cx="451.5" cy="190.1" r="1.7" fill="#bebebe"/>
<circle cx="533.1" cy="189.5" r="1.7" fill="#bebebe"/>
<circle cx="538.6" cy="189.9" r="1.7" fill="#bebebe"/>
<circle cx="532.2" cy="189.9" r="1.7" fill="#bebebe"/>
<circle cx="467.2" cy="189.6" r="1.7" fill="#bebebe"/>
<circle cx="457.1" cy="191.0" r="1.7" fill="#bebebe"/>
<circle cx="451.6" cy="191.3" r="1.7" fill="#bebebe"/>
<circle cx="539.2" cy="191.2" r="1.7" fill="#bebebe"/>
<circle cx="549.2" cy="190.9" r="1.7" fill="#bebebe"/>
<circle cx="463.4" cy="191.7" r="1.7" fill="#bebebe"/>
<circle cx="454.0" cy="192.2" r="1.7" fill="#bebebe"/>
<circle cx="549.8" cy="191.7" r="1.7" fill="#bebebe"/>
<circle cx="533.6" cy="191.8" r="1.7" fill="#bebebe"/>
<circle cx="466.0" cy="192.4" r="1.7" fill="#bebebe"/>
<circle cx="449.7" cy="192.8" r="1.7" fill="#bebebe"/>
<circle cx="459.4" cy="193.2" r="1.7" fill="#bebebe"/>
<circle cx="532.3" cy="193.3" r="1.7" fill="#bebebe"/>
<circle cx="536.2" cy="192.9" r="1.7" fill="#bebebe"/>
<circle cx="542.7" cy="193.2" r="1.7" fill="#bebebe"/>
<circle cx="466.2" cy="192.9" r="1.7" fill="#bebebe"/>
<circle cx="530.5" cy="193.1" r="1.7" fill="#bebebe"/>
<circle cx="459.4" cy="194.0" r="1.7" fill="#bebebe"/>
<circle cx="464.0" cy="193.8" r="1.7" fill="#bebebe"/>
<circle cx="533.2" cy="194.4" r="1.7" fill="#bebebe"/>
<circle cx="553.1" cy="193.6" r="1.7" fill="#bebebe"/>
<circle cx="532.3" cy="194.3" r="1.7" fill="#bebebe"/>
<circle cx="453.3" cy="195.2" r="1.7" fill="#bebebe"/>
<circle cx="450.3" cy="194.8" r="1.7" fill="#bebebe"/>
<circle cx="556.1" cy="195.2" r="1.7" fill="#bebebe"/>
<circle cx="542.8" cy="194.6" r="1.7" fill="#bebebe"/>
<circle cx="464.9" cy="195.2" r="1.7" fill="#bebebe"/>
<circle cx="461.7" cy="196.1" r="1.7" fill="#bebebe"/>
<circle cx="453.7" cy="195.7" r="1.7" fill="#bebebe"/>
<circle cx="546.4" cy="195.6" r="1.7" fill="#bebebe"/>
<circle cx="555.4" cy="195.6" r="1.7" fill="#bebebe"/>
<circle cx="463.3" cy="196.1" r="1.7" fill="#bebebe"/>
<circle cx="456.5" cy="196.8" r="1.7" fill="#bebebe"/>
<circle cx="461.1" cy="196.6" r="1.7" fill="#bebebe"/>
<circle cx="549.8" cy="197.0" r="1.7" fill="#bebebe"/>
<circle cx="549.4" cy="196.9" r="1.7" fill="#bebebe"/>
<circle cx="463.5" cy="197.4" r="1.7" fill="#bebebe"/>
<circle cx="533.2" cy="196.7" r="1.7" fill="#bebebe"/>
<circle cx="457.7" cy="197.8" r="1.7" fill="#bebebe"/>
<circle cx="456.8" cy="198.0" r="1.7" fill="#bebebe"/>
<circle cx="540.3" cy="198.3" r="1.7" fill="#bebebe"/>
<circle cx="535.2" cy="197.8" r="1.7" fill="#bebebe"/>
<circle cx="463.4" cy="198.3" r="1.7" fill="#bebebe"/>
<circle cx="459.7" cy="198.9" r="1.7" fill="#bebebe"/>
<circle cx="449.8" cy="199.3" r="1.7" fill="#bebebe"/>
<circle cx="546.5" cy="198.6" r="1.7" fill="#bebebe"/>
<circle cx="541.9" cy="198.7" r="1.7" fill="#bebebe"/>
<circle cx="461.7" cy="198.7" r="1.7" fill="#bebebe"/>
<circle cx="534.8" cy="198.5" r="1.7" fill="#bebebe"/>
<circle cx="445.6" cy="200.4" r="1.7" fill="#bebebe"/>
<circle cx="456.0" cy="200.1" r="1.7" fill="#bebebe"/>
<circle cx="548.2" cy="200.5" r="1.7" fill="#bebebe"/>
<circle cx="549.7" cy="199.8" r="1.7" fill="#bebebe"/>
<circle cx="534.9" cy="200.2" r="1.7" fill="#bebebe"/>
<circle cx="448.1" cy="201.2" r="1.7" fill="#bebebe"/>
<circle cx="453.5" cy="201.0" r="1.7" fill="#bebebe"/>
<circle cx="538.5" cy="201.0" r="1.7" fill="#bebebe"/>
<circle cx="535.2" cy="201.0" r="1.7" fill="#bebebe"/>
<circle cx="549.2" cy="200.9" r="1.7" fill="#bebebe"/>
<circle cx="458.6" cy="202.3" r="1.7" fill="#bebebe"/>
<circle cx="536.0" cy="201.9" r="1.7" fill="#bebebe"/>
<circle cx="539.8" cy="201.6" r="1.7" fill="#bebebe"/>
<circle cx="458.9" cy="201.8" r="1.7" fill="#bebebe"/>
<circle cx="458.0" cy="203.4" r="1.7" fill="#bebebe"/>
<circle cx="450.5" cy="203.4" r="1.7" fill="#bebebe"/>
<circle cx="553.0" cy="202.8" r="1.7" fill="#bebebe"/>
<circle cx="555.2" cy="203.4" r="1.7" fill="#bebebe"/>
<circle cx="536.6" cy="203.0" r="1.7" fill="#bebebe"/>
<circle cx="458.7" cy="203.6" r="1.7" fill="#bebebe"/>
<circle cx="456.4" cy="203.7" r="1.7" fill="#bebebe"/>
<circle cx="552.4" cy="204.0" r="1.7" fill="#bebebe"/>
<circle cx="545.1" cy="204.1" r="1.7" fill="#bebebe"/>
<circle cx="542.3" cy="204.0" r="1.7" fill="#bebebe"/>
<circle cx="535.7" cy="204.4" r="1.7" fill="#bebebe"/>
<circle cx="453.3" cy="204.9" r="1.7" fill="#bebebe"/>
<circle cx="450.7" cy="205.1" r="1.7" fill="#bebebe"/>
<circle cx="536.2" cy="204.7" r="1.7" fill="#bebebe"/>
<circle cx="555.6" cy="204.6" r="1.7" fill="#bebebe"/>
<circle cx="546.5" cy="204.7" r="1.7" fill="#bebebe"/>
<circle cx="458.7" cy="204.9" r="1.7" fill="#bebebe"/>
<circle cx="535.7" cy="204.6" r="1.7" fill="#bebebe"/>
<circle cx="450.8" cy="205.6" r="1.7" fill="#bebebe"/>
<circle cx="457.7" cy="205.9" r="1.7" fill="#bebebe"/>
<circle cx="553.3" cy="205.6" r="1.7" fill="#bebebe"/>
<circle cx="545.4" cy="205.9" r="1.7" fill="#bebebe"/>
<circle cx="537.0" cy="206.5" r="1.7" fill="#bebebe"/>
<circle cx="458.3" cy="206.0" r="1.7" fill="#bebebe"/>
<circle cx="537.4" cy="205.8" r="1.7" fill="#bebebe"/>
<circle cx="456.7" cy="207.2" r="1.7" fill="#bebebe"/>
<circle cx="453.6" cy="207.3" r="1.7" fill="#bebebe"/>
<circle cx="561.8" cy="206.8" r="1.7" fill="#bebebe"/>
<circle cx="542.2" cy="206.8" r="1.7" fill="#bebebe"/>
<circle cx="557.1" cy="207.1" r="1.7" fill="#bebebe"/>
<circle cx="457.7" cy="207.2" r="1.7" fill="#bebebe"/>
<circle cx="456.7" cy="207.5" r="1.7" fill="#bebebe"/>
<circle cx="455.6" cy="207.7" r="1.7" fill="#bebebe"/>
<circle cx="538.3" cy="208.2" r="1.7" fill="#bebebe"/>
<circle cx="560.5" cy="207.7" r="1.7" fill="#bebebe"/>
<circle cx="564.1" cy="208.0" r="1.7" fill="#bebebe"/>
<circle cx="455.7" cy="208.8" r="1.7" fill="#bebebe"/>
<circle cx="562.8" cy="208.6" r="1.7" fill="#bebebe"/>
<circle cx="543.8" cy="209.3" r="1.7" fill="#bebebe"/>
<circle cx="540.0" cy="208.9" r="1.7" fill="#bebebe"/>
<circle cx="455.1" cy="209.4" r="1.7" fill="#bebebe"/>
<circle cx="538.8" cy="209.2" r="1.7" fill="#bebebe"/>
<circle cx="447.9" cy="210.4" r="1.7" fill="#bebebe"/>
<circle cx="546.9" cy="209.7" r="1.7" fill="#bebebe"/>
<circle cx="556.7" cy="210.0" r="1.7" fill="#bebebe"/>
<circle cx="543.6" cy="209.7" r="1.7" fill="#bebebe"/>
<circle cx="450.2" cy="211.0" r="1.7" fill="#bebebe"/>
<circle cx="554.8" cy="210.5" r="1.7" fill="#bebebe"/>
<circle cx="548.4" cy="211.3" r="1.7" fill="#bebebe"/>
<circle cx="553.9" cy="210.6" r="1.7" fill="#bebebe"/>
<circle cx="453.9" cy="211.1" r="1.7" fill="#bebebe"/>
<circle cx="449.1" cy="212.4" r="1.7" fill="#bebebe"/>
<circle cx="545.7" cy="211.9" r="1.7" fill="#bebebe"/>
<circle cx="540.1" cy="211.9" r="1.7" fill="#bebebe"/>
<circle cx="539.5" cy="211.6" r="1.7" fill="#bebebe"/>
<circle cx="445.8" cy="212.7" r="1.7" fill="#bebebe"/>
<circle cx="454.5" cy="212.7" r="1.7" fill="#bebebe"/>
<circle cx="551.9" cy="212.5" r="1.7" fill="#bebebe"/>
<circle cx="543.7" cy="213.5" r="1.7" fill="#bebebe"/>
<circle cx="454.3" cy="212.9" r="1.7" fill="#bebebe"/>
<circle cx="443.0" cy="214.0" r="1.7" fill="#bebebe"/>
<circle cx="452.5" cy="213.7" r="1.7" fill="#bebebe"/>
<circle cx="559.1" cy="213.6" r="1.7" fill="#bebebe"/>
<circle cx="539.9" cy="214.5" r="1.7" fill="#bebebe"/>
<circle cx="543.4" cy="214.4" r="1.7" fill="#bebebe"/>
<circle cx="454.4" cy="213.7" r="1.7" fill="#bebebe"/>
<circle cx="445.5" cy="215.3" r="1.7" fill="#bebebe"/>
<circle cx="440.9" cy="214.8" r="1.7" fill="#bebebe"/>
<circle cx="549.1" cy="214.6" r="1.7" fill="#bebebe"/>
<circle cx="559.6" cy="215.1" r="1.7" fill="#bebebe"/>
<circle cx="540.5" cy="215.0" r="1.7" fill="#bebebe"/>
<circle cx="453.7" cy="215.8" r="1.7" fill="#bebebe"/>
<circle cx="541.5" cy="216.1" r="1.7" fill="#bebebe"/>
<circle cx="556.8" cy="215.9" r="1.7" fill="#bebebe"/>
<circle cx="554.4" cy="216.1" r="1.7" fill="#bebebe"/>
<circle cx="454.3" cy="216.5" r="1.7" fill="#bebebe"/>
<circle cx="540.6" cy="215.6" r="1.7" fill="#bebebe"/>
<circle cx="452.3" cy="217.4" r="1.7" fill="#bebebe"/>
<circle cx="443.6" cy="217.4" r="1.7" fill="#bebebe"/>
<circle cx="553.7" cy="217.4" r="1.7" fill="#bebebe"/>
<circle cx="551.8" cy="216.9" r="1.7" fill="#bebebe"/>
<circle cx="448.0" cy="218.3" r="1.7" fill="#bebebe"/>
<circle cx="566.6" cy="218.4" r="1.7" fill="#bebebe"/>
<circle cx="546.2" cy="218.4" r="1.7" fill="#bebebe"/>
<circle cx="454.9" cy="218.2" r="1.7" fill="#bebebe"/>
<circle cx="541.3" cy="218.1" r="1.7" fill="#bebebe"/>
<circle cx="443.9" cy="218.8" r="1.7" fill="#bebebe"/>
<circle cx="449.0" cy="218.8" r="1.7" fill="#bebebe"/>
<circle cx="556.2" cy="218.8" r="1.7" fill="#bebebe"/>
<circle cx="542.5" cy="218.8" r="1.7" fill="#bebebe"/>
<circle cx="455.0" cy="218.7" r="1.7" fill="#bebebe"/>
<circle cx="438.8" cy="220.5" r="1.7" fill="#bebebe"/>
<circle cx="547.5" cy="219.7" r="1.7" fill="#bebebe"/>
<circle cx="546.3" cy="220.0" r="1.7" fill="#bebebe"/>
<circle cx="454.1" cy="219.9" r="1.7" fill="#bebebe"/>
<circle cx="449.0" cy="221.4" r="1.7" fill="#bebebe"/>
<circle cx="443.4" cy="220.8" r="1.7" fill="#bebebe"/>
<circle cx="556.6" cy="220.5" r="1.7" fill="#bebebe"/>
<circle cx="543.0" cy="221.0" r="1.7" fill="#bebebe"/>
<circle cx="455.0" cy="220.6" r="1.7" fill="#bebebe"/>
<circle cx="542.2" cy="221.0" r="1.7" fill="#bebebe"/>
<circle cx="444.2" cy="222.5" r="1.7" fill="#bebebe"/>
<circle cx="543.9" cy="221.5" r="1.7" fill="#bebebe"/>
<circle cx="548.1" cy="221.8" r="1.7" fill="#bebebe"/>
<circle cx="454.2" cy="221.6" r="1.7" fill="#bebebe"/>
<circle cx="541.1" cy="222.3" r="1.7" fill="#bebebe"/>
<circle cx="452.5" cy="222.5" r="1.7" fill="#bebebe"/>
<circle cx="450.3" cy="223.1" r="1.7" fill="#bebebe"/>
<circle cx="558.0" cy="223.3" r="1.7" fill="#bebebe"/>
<circle cx="544.4" cy="222.6" r="1.7" fill="#bebebe"/>
<circle cx="444.4" cy="224.1" r="1.7" fill="#bebebe"/>
<circle cx="542.7" cy="223.5" r="1.7" fill="#bebebe"/>
<circle cx="550.8" cy="224.4" r="1.7" fill="#bebebe"/>
<circle cx="541.3" cy="224.4" r="1.7" fill="#bebebe"/>
<circle cx="448.9" cy="224.9" r="1.7" fill="#bebebe"/>
<circle cx="542.3" cy="224.7" r="1.7" fill="#bebebe"/>
<circle cx="550.9" cy="225.5" r="1.7" fill="#bebebe"/>
<circle cx="456.4" cy="224.9" r="1.7" fill="#bebebe"/>
<circle cx="541.2" cy="225.0" r="1.7" fill="#bebebe"/>
<circle cx="455.7" cy="225.8" r="1.7" fill="#bebebe"/>
<circle cx="545.2" cy="226.4" r="1.7" fill="#bebebe"/>
<circle cx="552.5" cy="226.4" r="1.7" fill="#bebebe"/>
<circle cx="540.3" cy="226.0" r="1.7" fill="#bebebe"/>
<circle cx="455.6" cy="227.2" r="1.7" fill="#bebebe"/>
<circle cx="540.0" cy="227.2" r="1.7" fill="#bebebe"/>
<circle cx="458.2" cy="227.4" r="1.7" fill="#bebebe"/>
<circle cx="458.0" cy="228.4" r="1.7" fill="#bebebe"/>
<circle cx="542.6" cy="228.3" r="1.7" fill="#bebebe"/>
<circle cx="541.8" cy="227.8" r="1.7" fill="#bebebe"/>
<circle cx="456.8" cy="228.8" r="1.7" fill="#bebebe"/>
<circle cx="460.1" cy="228.8" r="1.7" fill="#bebebe"/>
<circle cx="538.2" cy="228.7" r="1.7" fill="#bebebe"/>
<circle cx="462.0" cy="229.0" r="1.7" fill="#bebebe"/>
<circle cx="454.6" cy="230.3" r="1.7" fill="#bebebe"/>
<circle cx="539.4" cy="230.5" r="1.7" fill="#bebebe"/>
<circle cx="537.4" cy="229.8" r="1.7" fill="#bebebe"/>
<circle cx="463.0" cy="230.0" r="1.7" fill="#bebebe"/>
<circle cx="536.8" cy="230.5" r="1.7" fill="#bebebe"/>
<circle cx="451.7" cy="230.7" r="1.7" fill="#bebebe"/>
<circle cx="449.0" cy="231.2" r="1.7" fill="#bebebe"/>
<circle cx="536.6" cy="230.6" r="1.7" fill="#bebebe"/>
<circle cx="535.2" cy="231.3" r="1.7" fill="#bebebe"/>
<circle cx="467.0" cy="232.5" r="1.7" fill="#bebebe"/>
<circle cx="537.1" cy="231.6" r="1.7" fill="#bebebe"/>
<circle cx="465.8" cy="231.8" r="1.7" fill="#bebebe"/>
<circle cx="533.4" cy="231.6" r="1.7" fill="#bebebe"/>
<circle cx="456.3" cy="232.6" r="1.7" fill="#bebebe"/>
<circle cx="467.7" cy="233.4" r="1.7" fill="#bebebe"/>
<circle cx="543.2" cy="232.7" r="1.7" fill="#bebebe"/>
<circle cx="468.3" cy="233.0" r="1.7" fill="#bebebe"/>
<circle cx="472.5" cy="233.8" r="1.7" fill="#bebebe"/>
<circle cx="462.2" cy="234.3" r="1.7" fill="#bebebe"/>
<circle cx="533.8" cy="234.0" r="1.7" fill="#bebebe"/>
<circle cx="472.1" cy="234.3" r="1.7" fill="#bebebe"/>
<circle cx="530.3" cy="234.4" r="1.7" fill="#bebebe"/>
<circle cx="473.4" cy="235.5" r="1.7" fill="#bebebe"/>
<circle cx="528.4" cy="234.8" r="1.7" fill="#bebebe"/>
<circle cx="476.0" cy="235.5" r="1.7" fill="#bebebe"/>
<circle cx="528.4" cy="234.6" r="1.7" fill="#bebebe"/>
<circle cx="468.1" cy="236.3" r="1.7" fill="#bebebe"/>
<circle cx="465.3" cy="236.2" r="1.7" fill="#bebebe"/>
<circle cx="530.8" cy="235.6" r="1.7" fill="#bebebe"/>
<circle cx="478.0" cy="235.6" r="1.7" fill="#bebebe"/>
<circle cx="477.9" cy="236.9" r="1.7" fill="#bebebe"/>
<circle cx="523.0" cy="237.1" r="1.7" fill="#bebebe"/>
<circle cx="484.8" cy="237.8" r="1.7" fill="#bebebe"/>
<circle cx="516.2" cy="238.2" r="1.7" fill="#bebebe"/>
<circle cx="489.2" cy="238.8" r="1.7" fill="#bebebe"/>
<circle cx="493.0" cy="239.0" r="1.7" fill="#bebebe"/>
<circle cx="491.0" cy="117.9" r="1.7" fill="#bebebe"/>
<circle cx="491.8" cy="117.9" r="1.7" fill="#bebebe"/>
<circle cx="494.3" cy="119.8" r="1.7" fill="#bebebe"/>
<circle cx="490.3" cy="120.7" r="1.7" fill="#bebebe"/>
<circle cx="492.5" cy="123.1" r="1.7" fill="#bebebe"/>
<circle cx="494.5" cy="125.2" r="1.7" fill="#bebebe"/>
<circle cx="488.8" cy="126.0" r="1.7" fill="#bebebe"/>
<circle cx="497.5" cy="126.4" r="1.7" fill="#bebebe"/>
<circle cx="487.7" cy="127.4" r="1.7" fill="#bebebe"/>
<circle cx="497.0" cy="127.3" r="1.7" fill="#bebebe"/>
<circle cx="486.6" cy="128.1" r="1.7" fill="#bebebe"/>
<circle cx="490.8" cy="127.8" r="1.7" fill="#bebebe"/>
<circle cx="496.1" cy="129.1" r="1.7" fill="#bebebe"/>
<circle cx="478.7" cy="138.3" r="1.7" fill="#bebebe"/>
<circle cx="477.5" cy="139.5" r="1.7" fill="#bebebe"/>
<circle cx="476.8" cy="143.5" r="1.7" fill="#bebebe"/>
<circle cx="499.3" cy="148.7" r="1.7" fill="#bebebe"/>
<circle cx="473.3" cy="152.6" r="1.7" fill="#bebebe"/>
<circle cx="470.9" cy="154.7" r="1.7" fill="#bebebe"/>
<circle cx="470.3" cy="156.3" r="1.7" fill="#bebebe"/>
<circle cx="469.8" cy="157.5" r="1.7" fill="#bebebe"/>
<circle cx="467.0" cy="159.3" r="1.7" fill="#bebebe"/>
<circle cx="469.4" cy="159.7" r="1.7" fill="#bebebe"/>
<circle cx="465.5" cy="160.6" r="1.7" fill="#bebebe"/>
<circle cx="500.2" cy="161.1" r="1.7" fill="#bebebe"/>
<circle cx="468.8" cy="164.7" r="1.7" fill="#bebebe"/>
<circle cx="504.6" cy="118.4" r="1.7" fill="#bebebe"/>
<circle cx="515.3" cy="118.7" r="1.7" fill="#bebebe"/>
<circle cx="504.0" cy="120.8" r="1.7" fill="#bebebe"/>
<circle cx="517.7" cy="121.6" r="1.7" fill="#bebebe"/>
<circle cx="516.3" cy="123.4" r="1.7" fill="#bebebe"/>
<circle cx="518.9" cy="130.6" r="1.7" fill="#bebebe"/>
<circle cx="502.9" cy="132.8" r="1.7" fill="#bebebe"/>
<circle cx="522.4" cy="135.5" r="1.7" fill="#bebebe"/>
<circle cx="502.8" cy="137.9" r="1.7" fill="#bebebe"/>
<circle cx="503.4" cy="138.7" r="1.7" fill="#bebebe"/>
<circle cx="502.6" cy="145.6" r="1.7" fill="#bebebe"/>
<circle cx="522.8" cy="149.6" r="1.7" fill="#bebebe"/>
<circle cx="527.2" cy="152.0" r="1.7" fill="#bebebe"/>
<circle cx="525.4" cy="153.3" r="1.7" fill="#bebebe"/>
<circle cx="502.6" cy="154.5" r="1.7" fill="#bebebe"/>
<circle cx="527.0" cy="156.4" r="1.7" fill="#bebebe"/>
<circle cx="530.6" cy="160.4" r="1.7" fill="#bebebe"/>
<circle cx="527.4" cy="161.2" r="1.7" fill="#bebebe"/>
<circle cx="527.4" cy="161.6" r="1.7" fill="#bebebe"/>
<circle cx="528.9" cy="163.8" r="1.7" fill="#bebebe"/>
<circle cx="532.1" cy="165.4" r="1.7" fill="#bebebe"/>
<circle cx="479.3" cy="104.9" r="1.7" fill="#bebebe"/>
<circle cx="448.2" cy="120.8" r="1.7" fill="#bebebe"/>
<circle cx="459.3" cy="118.4" r="1.7" fill="#bebebe"/>
<circle cx="466.6" cy="122.4" r="1.7" fill="#bebebe"/>
<circle cx="466.4" cy="128.0" r="1.7" fill="#bebebe"/>
<circle cx="466.7" cy="135.9" r="1.7" fill="#bebebe"/>
<circle cx="479.3" cy="133.7" r="1.7" fill="#bebebe"/>
<circle cx="478.1" cy="137.6" r="1.7" fill="#bebebe"/>
<circle cx="473.4" cy="140.4" r="1.7" fill="#bebebe"/>
<circle cx="477.1" cy="142.6" r="1.7" fill="#bebebe"/>
<circle cx="471.8" cy="146.5" r="1.7" fill="#bebebe"/>
<circle cx="468.0" cy="149.3" r="1.7" fill="#bebebe"/>
<circle cx="460.4" cy="150.2" r="1.7" fill="#bebebe"/>
<circle cx="450.2" cy="153.4" r="1.7" fill="#bebebe"/>
<circle cx="442.2" cy="158.1" r="1.7" fill="#bebebe"/>
<circle cx="433.0" cy="165.2" r="1.7" fill="#bebebe"/>
<circle cx="394.7" cy="171.5" r="1.7" fill="#bebebe"/>
<circle cx="471.2" cy="153.7" r="1.7" fill="#bebebe"/>
<circle cx="463.2" cy="160.7" r="1.7" fill="#bebebe"/>
<circle cx="467.3" cy="162.4" r="1.7" fill="#bebebe"/>
<circle cx="471.2" cy="161.4" r="1.7" fill="#bebebe"/>
<circle cx="455.5" cy="172.1" r="1.7" fill="#bebebe"/>
<circle cx="451.5" cy="174.3" r="1.7" fill="#bebebe"/>
<circle cx="463.5" cy="173.1" r="1.7" fill="#bebebe"/>
<circle cx="467.3" cy="174.3" r="1.7" fill="#bebebe"/>
<circle cx="397.1" cy="196.4" r="1.7" fill="#bebebe"/>
<circle cx="411.4" cy="188.5" r="1.7" fill="#bebebe"/>
<circle cx="415.5" cy="192.6" r="1.7" fill="#bebebe"/>
<circle cx="429.6" cy="183.9" r="1.7" fill="#bebebe"/>
<circle cx="438.1" cy="186.8" r="1.7" fill="#bebebe"/>
<circle cx="403.9" cy="199.3" r="1.7" fill="#bebebe"/>
<circle cx="405.8" cy="204.7" r="1.7" fill="#bebebe"/>
<circle cx="409.8" cy="199.2" r="1.7" fill="#bebebe"/>
<circle cx="410.9" cy="202.7" r="1.7" fill="#bebebe"/>
<circle cx="414.6" cy="201.8" r="1.7" fill="#bebebe"/>
<circle cx="408.2" cy="216.3" r="1.7" fill="#bebebe"/>
<circle cx="413.3" cy="215.4" r="1.7" fill="#bebebe"/>
<circle cx="415.5" cy="212.6" r="1.7" fill="#bebebe"/>
<circle cx="418.2" cy="214.1" r="1.7" fill="#bebebe"/>
<circle cx="422.2" cy="213.2" r="1.7" fill="#bebebe"/>
<circle cx="423.5" cy="215.4" r="1.7" fill="#bebebe"/>
<circle cx="420.6" cy="222.3" r="1.7" fill="#bebebe"/>
<circle cx="420.1" cy="204.6" r="1.7" fill="#bebebe"/>
<circle cx="422.6" cy="207.2" r="1.7" fill="#bebebe"/>
<circle cx="426.4" cy="208.2" r="1.7" fill="#bebebe"/>
<circle cx="426.7" cy="202.8" r="1.7" fill="#bebebe"/>
<circle cx="430.1" cy="203.6" r="1.7" fill="#bebebe"/>
<circle cx="429.6" cy="212.6" r="1.7" fill="#bebebe"/>
<circle cx="430.7" cy="217.6" r="1.7" fill="#bebebe"/>
<circle cx="433.3" cy="213.8" r="1.7" fill="#bebebe"/>
<circle cx="435.2" cy="215.8" r="1.7" fill="#bebebe"/>
<circle cx="434.0" cy="207.2" r="1.7" fill="#bebebe"/>
<circle cx="435.9" cy="210.1" r="1.7" fill="#bebebe"/>
<circle cx="436.6" cy="201.4" r="1.7" fill="#bebebe"/>
<circle cx="439.6" cy="205.0" r="1.7" fill="#bebebe"/>
<circle cx="438.1" cy="222.3" r="1.7" fill="#bebebe"/>
<circle cx="441.3" cy="193.4" r="1.7" fill="#bebebe"/>
<circle cx="442.8" cy="191.9" r="1.7" fill="#bebebe"/>
<circle cx="447.4" cy="192.3" r="1.7" fill="#bebebe"/>
<circle cx="443.1" cy="202.1" r="1.7" fill="#bebebe"/>
<circle cx="445.7" cy="200.7" r="1.7" fill="#bebebe"/>
<circle cx="442.8" cy="210.9" r="1.7" fill="#bebebe"/>
<circle cx="447.6" cy="179.9" r="1.7" fill="#bebebe"/>
<circle cx="449.8" cy="176.6" r="1.7" fill="#bebebe"/>
<circle cx="451.8" cy="174.4" r="1.7" fill="#bebebe"/>
<circle cx="455.3" cy="172.0" r="1.7" fill="#bebebe"/>
<circle cx="451.2" cy="181.7" r="1.7" fill="#bebebe"/>
<circle cx="455.9" cy="183.9" r="1.7" fill="#bebebe"/>
<circle cx="458.8" cy="175.8" r="1.7" fill="#bebebe"/>
<circle cx="463.5" cy="172.9" r="1.7" fill="#bebebe"/>
<circle cx="467.3" cy="174.4" r="1.7" fill="#bebebe"/>
<circle cx="455.5" cy="193.4" r="1.7" fill="#bebebe"/>
<circle cx="460.0" cy="189.7" r="1.7" fill="#bebebe"/>
<circle cx="447.6" cy="229.1" r="1.7" fill="#bebebe"/>
<circle cx="452.3" cy="226.9" r="1.7" fill="#bebebe"/>
<circle cx="455.9" cy="227.7" r="1.7" fill="#bebebe"/>
<circle cx="460.6" cy="233.2" r="1.7" fill="#bebebe"/>
<circle cx="467.2" cy="234.2" r="1.7" fill="#bebebe"/>
<circle cx="516.2" cy="95.4" r="1.7" fill="#bebebe"/>
<circle cx="479.4" cy="104.6" r="1.7" fill="#bebebe"/>
<circle cx="481.2" cy="107.5" r="1.7" fill="#bebebe"/>
<circle cx="481.9" cy="111.9" r="1.7" fill="#bebebe"/>
<circle cx="490.4" cy="111.6" r="1.7" fill="#bebebe"/>
<circle cx="490.7" cy="115.5" r="1.7" fill="#bebebe"/>
<circle cx="492.1" cy="116.7" r="1.7" fill="#bebebe"/>
<circle cx="488.5" cy="121.1" r="1.7" fill="#bebebe"/>
<circle cx="491.4" cy="121.8" r="1.7" fill="#bebebe"/>
<circle cx="494.3" cy="123.3" r="1.7" fill="#bebebe"/>
<circle cx="497.2" cy="122.4" r="1.7" fill="#bebebe"/>
<circle cx="488.5" cy="125.5" r="1.7" fill="#bebebe"/>
<circle cx="485.1" cy="127.7" r="1.7" fill="#bebebe"/>
<circle cx="466.6" cy="122.4" r="1.7" fill="#bebebe"/>
<circle cx="466.6" cy="128.0" r="1.7" fill="#bebebe"/>
<circle cx="466.6" cy="136.0" r="1.7" fill="#bebebe"/>
<circle cx="460.7" cy="117.7" r="1.7" fill="#bebebe"/>
<circle cx="515.2" cy="105.3" r="1.7" fill="#bebebe"/>
<circle cx="518.4" cy="106.8" r="1.7" fill="#bebebe"/>
<circle cx="511.8" cy="107.5" r="1.7" fill="#bebebe"/>
<circle cx="508.2" cy="108.2" r="1.7" fill="#bebebe"/>
<circle cx="506.4" cy="111.2" r="1.7" fill="#bebebe"/>
<circle cx="506.7" cy="113.4" r="1.7" fill="#bebebe"/>
<circle cx="504.5" cy="116.0" r="1.7" fill="#bebebe"/>
<circle cx="511.8" cy="116.3" r="1.7" fill="#bebebe"/>
<circle cx="518.8" cy="114.8" r="1.7" fill="#bebebe"/>
<circle cx="519.9" cy="117.7" r="1.7" fill="#bebebe"/>
<circle cx="521.3" cy="121.4" r="1.7" fill="#bebebe"/>
<circle cx="520.9" cy="125.0" r="1.7" fill="#bebebe"/>
<circle cx="517.7" cy="133.1" r="1.7" fill="#bebebe"/>
<circle cx="521.3" cy="133.1" r="1.7" fill="#bebebe"/>
<circle cx="526.1" cy="135.3" r="1.7" fill="#bebebe"/>
<circle cx="522.0" cy="144.7" r="1.7" fill="#bebebe"/>
<circle cx="537.8" cy="148.0" r="1.7" fill="#bebebe"/>
<circle cx="526.7" cy="157.2" r="1.7" fill="#bebebe"/>
<circle cx="534.5" cy="163.0" r="1.7" fill="#bebebe"/>
<circle cx="532.3" cy="164.5" r="1.7" fill="#bebebe"/>
<circle cx="542.5" cy="165.5" r="1.7" fill="#bebebe"/>
<circle cx="549.8" cy="158.6" r="1.7" fill="#bebebe"/>
<circle cx="552.7" cy="157.4" r="1.7" fill="#bebebe"/>
<circle cx="555.6" cy="157.2" r="1.7" fill="#bebebe"/>
<circle cx="554.6" cy="168.4" r="1.7" fill="#bebebe"/>
<circle cx="473.6" cy="140.4" r="1.7" fill="#bebebe"/>
<circle cx="477.2" cy="142.1" r="1.7" fill="#bebebe"/>
<circle cx="471.7" cy="146.2" r="1.7" fill="#bebebe"/>
<circle cx="468.0" cy="149.1" r="1.7" fill="#bebebe"/>
<circle cx="461.2" cy="149.9" r="1.7" fill="#bebebe"/>
<circle cx="471.0" cy="153.8" r="1.7" fill="#bebebe"/>
<circle cx="463.2" cy="160.8" r="1.7" fill="#bebebe"/>
<circle cx="467.3" cy="162.3" r="1.7" fill="#bebebe"/>
<circle cx="471.0" cy="161.5" r="1.7" fill="#bebebe"/>
<circle cx="478.2" cy="152.0" r="1.7" fill="#bebebe"/>
<circle cx="504.7" cy="116.4" r="1.7" fill="#bebebe"/>
<circle cx="505.9" cy="111.7" r="1.7" fill="#bebebe"/>
<circle cx="507.6" cy="108.8" r="1.7" fill="#bebebe"/>
<circle cx="510.0" cy="107.6" r="1.7" fill="#bebebe"/>
<circle cx="512.3" cy="107.0" r="1.7" fill="#bebebe"/>
<circle cx="515.2" cy="105.3" r="1.7" fill="#bebebe"/>
<circle cx="518.1" cy="106.8" r="1.7" fill="#bebebe"/>
<circle cx="511.7" cy="116.4" r="1.7" fill="#bebebe"/>
<circle cx="519.0" cy="115.0" r="1.7" fill="#bebebe"/>
<circle cx="519.9" cy="118.1" r="1.7" fill="#bebebe"/>
<circle cx="521.6" cy="121.0" r="1.7" fill="#bebebe"/>
<circle cx="520.8" cy="125.1" r="1.7" fill="#bebebe"/>
<circle cx="515.2" cy="123.4" r="1.7" fill="#bebebe"/>
<circle cx="512.9" cy="127.4" r="1.7" fill="#bebebe"/>
<circle cx="519.9" cy="131.5" r="1.7" fill="#bebebe"/>
<circle cx="523.4" cy="133.9" r="1.7" fill="#bebebe"/>
<circle cx="526.3" cy="135.0" r="1.7" fill="#bebebe"/>
<circle cx="521.6" cy="145.0" r="1.7" fill="#bebebe"/>
<circle cx="537.4" cy="147.9" r="1.7" fill="#bebebe"/>
<circle cx="526.5" cy="157.2" r="1.7" fill="#bebebe"/>
<circle cx="490.5" cy="111.4" r="1.7" fill="#bebebe"/>
<circle cx="490.7" cy="115.2" r="1.7" fill="#bebebe"/>
<circle cx="492.4" cy="116.9" r="1.7" fill="#bebebe"/>
<circle cx="488.4" cy="121.6" r="1.7" fill="#bebebe"/>
<circle cx="491.3" cy="122.2" r="1.7" fill="#bebebe"/>
<circle cx="494.2" cy="123.4" r="1.7" fill="#bebebe"/>
<circle cx="497.1" cy="122.5" r="1.7" fill="#bebebe"/>
<circle cx="488.4" cy="125.1" r="1.7" fill="#bebebe"/>
<circle cx="485.1" cy="127.4" r="1.7" fill="#bebebe"/>
<circle cx="466.8" cy="122.2" r="1.7" fill="#bebebe"/>
<circle cx="466.4" cy="127.8" r="1.7" fill="#bebebe"/>
<circle cx="466.8" cy="135.6" r="1.7" fill="#bebebe"/>
<circle cx="473.2" cy="140.3" r="1.7" fill="#bebebe"/>
<circle cx="477.3" cy="142.3" r="1.7" fill="#bebebe"/>
<circle cx="471.8" cy="146.5" r="1.7" fill="#bebebe"/>
<circle cx="467.9" cy="149.0" r="1.7" fill="#bebebe"/>
<circle cx="470.8" cy="153.7" r="1.7" fill="#bebebe"/>
<circle cx="594.6" cy="146.1" r="1.7" fill="#bebebe"/>
<circle cx="569.6" cy="147.6" r="1.7" fill="#bebebe"/>
<circle cx="565.0" cy="152.4" r="1.7" fill="#bebebe"/>
<circle cx="570.9" cy="157.3" r="1.7" fill="#bebebe"/>
<circle cx="554.8" cy="157.3" r="1.7" fill="#bebebe"/>
<circle cx="552.7" cy="157.7" r="1.7" fill="#bebebe"/>
<circle cx="550.0" cy="158.8" r="1.7" fill="#bebebe"/>
<circle cx="542.5" cy="165.6" r="1.7" fill="#bebebe"/>
<circle cx="554.4" cy="168.3" r="1.7" fill="#bebebe"/>
<circle cx="565.8" cy="169.4" r="1.7" fill="#bebebe"/>
<circle cx="532.9" cy="164.1" r="1.7" fill="#bebebe"/>
<circle cx="535.2" cy="162.7" r="1.7" fill="#bebebe"/>
<circle cx="542.5" cy="165.6" r="1.7" fill="#bebebe"/>
<circle cx="554.7" cy="168.1" r="1.7" fill="#bebebe"/>
<circle cx="566.1" cy="169.9" r="1.7" fill="#bebebe"/>
<circle cx="560.2" cy="171.3" r="1.7" fill="#bebebe"/>
<circle cx="563.6" cy="173.5" r="1.7" fill="#bebebe"/>
<circle cx="540.3" cy="171.0" r="1.7" fill="#bebebe"/>
<circle cx="544.4" cy="172.5" r="1.7" fill="#bebebe"/>
<circle cx="544.4" cy="175.5" r="1.7" fill="#bebebe"/>
<circle cx="549.1" cy="171.3" r="1.7" fill="#bebebe"/>
<circle cx="550.2" cy="176.2" r="1.7" fill="#bebebe"/>
<circle cx="534.4" cy="173.3" r="1.7" fill="#bebebe"/>
<circle cx="536.6" cy="174.7" r="1.7" fill="#bebebe"/>
<circle cx="559.5" cy="179.1" r="1.7" fill="#bebebe"/>
<circle cx="563.9" cy="185.0" r="1.7" fill="#bebebe"/>
<circle cx="557.2" cy="187.2" r="1.7" fill="#bebebe"/>
<circle cx="548.4" cy="183.3" r="1.7" fill="#bebebe"/>
<circle cx="552.1" cy="185.8" r="1.7" fill="#bebebe"/>
<circle cx="552.8" cy="188.7" r="1.7" fill="#bebebe"/>
<circle cx="546.2" cy="188.0" r="1.7" fill="#bebebe"/>
<circle cx="563.6" cy="194.6" r="1.7" fill="#bebebe"/>
<circle cx="555.8" cy="194.2" r="1.7" fill="#bebebe"/>
<circle cx="558.0" cy="198.3" r="1.7" fill="#bebebe"/>
<circle cx="582.3" cy="198.0" r="1.7" fill="#bebebe"/>
<circle cx="594.8" cy="201.5" r="1.7" fill="#bebebe"/>
<circle cx="605.6" cy="183.3" r="1.7" fill="#bebebe"/>
<circle cx="579.6" cy="203.2" r="1.7" fill="#bebebe"/>
<circle cx="571.2" cy="203.2" r="1.7" fill="#bebebe"/>
<circle cx="567.8" cy="202.0" r="1.7" fill="#bebebe"/>
<circle cx="574.2" cy="206.8" r="1.7" fill="#bebebe"/>
<circle cx="589.2" cy="207.4" r="1.7" fill="#bebebe"/>
<circle cx="590.1" cy="211.5" r="1.7" fill="#bebebe"/>
<circle cx="578.6" cy="212.3" r="1.7" fill="#bebebe"/>
<circle cx="599.7" cy="216.3" r="1.7" fill="#bebebe"/>
<circle cx="604.1" cy="216.3" r="1.7" fill="#bebebe"/>
<circle cx="575.9" cy="220.4" r="1.7" fill="#bebebe"/>
<circle cx="568.6" cy="220.4" r="1.7" fill="#bebebe"/>
<circle cx="565.3" cy="222.6" r="1.7" fill="#bebebe"/>
<circle cx="561.7" cy="221.6" r="1.7" fill="#bebebe"/>
<circle cx="566.1" cy="212.3" r="1.7" fill="#bebebe"/>
<circle cx="556.2" cy="229.2" r="1.7" fill="#bebebe"/>
<circle cx="559.7" cy="229.5" r="1.7" fill="#bebebe"/>
<circle cx="547.4" cy="229.2" r="1.7" fill="#bebebe"/>
<circle cx="544.4" cy="230.0" r="1.7" fill="#bebebe"/>
<circle cx="565.3" cy="207.1" r="1.7" fill="#bebebe"/>
<circle cx="569.8" cy="207.9" r="1.7" fill="#bebebe"/>
<circle cx="560.9" cy="209.3" r="1.7" fill="#bebebe"/>
<circle cx="557.2" cy="209.3" r="1.7" fill="#bebebe"/>
<circle cx="555.8" cy="214.5" r="1.7" fill="#bebebe"/>
<circle cx="563.9" cy="218.2" r="1.7" fill="#bebebe"/>
<circle cx="567.6" cy="221.9" r="1.7" fill="#bebebe"/>
<circle cx="605.8" cy="183.1" r="1.7" fill="#bebebe"/>
<circle cx="638.9" cy="186.1" r="1.7" fill="#bebebe"/>
<circle cx="664.4" cy="214.3" r="1.7" fill="#bebebe"/>
<circle cx="511.7" cy="83.5" r="1.7" fill="#bebebe"/>
<circle cx="514.6" cy="86.9" r="1.7" fill="#bebebe"/>
<line x1="501.60" y1="1.50" x2="501.60" y2="168.00" stroke="#c9c9c9" stroke-width="1.0"/>
<line x1="381.60" y1="1.50" x2="381.60" y2="249.10" stroke="#333333" stroke-width="1.1"/>
<line x1="381.60" y1="249.10" x2="678.20" y2="249.10" stroke="#333333" stroke-width="1.1"/>
<line x1="379.40" y1="238.40" x2="381.60" y2="238.40" stroke="#333333" stroke-width="1.0"/>
<text x="377.70" y="240.80" font-size="6.7" text-anchor="end" fill="#4d4d4d" font-weight="normal" stroke="#4d4d4d" stroke-width="0.22">0.0</text>
<line x1="379.40" y1="181.40" x2="381.60" y2="181.40" stroke="#333333" stroke-width="1.0"/>
<text x="377.70" y="183.80" font-size="6.7" text-anchor="end" fill="#4d4d4d" font-weight="normal" stroke="#4d4d4d" stroke-width="0.22">2.5</text>
<line x1="379.40" y1="124.35" x2="381.60" y2="124.35" stroke="#333333" stroke-width="1.0"/>
<text x="377.70" y="126.75" font-size="6.7" text-anchor="end" fill="#4d4d4d" font-weight="normal" stroke="#4d4d4d" stroke-width="0.22">5.0</text>
<line x1="379.40" y1="67.30" x2="381.60" y2="67.30" stroke="#333333" stroke-width="1.0"/>
<text x="377.70" y="69.70" font-size="6.7" text-anchor="end" fill="#4d4d4d" font-weight="normal" stroke="#4d4d4d" stroke-width="0.22">7.5</text>
<line x1="379.40" y1="10.30" x2="381.60" y2="10.30" stroke="#333333" stroke-width="1.0"/>
<text x="377.70" y="12.70" font-size="6.7" text-anchor="end" fill="#4d4d4d" font-weight="normal" stroke="#4d4d4d" stroke-width="0.22">10.0</text>
<line x1="383.40" y1="249.10" x2="383.40" y2="251.30" stroke="#333333" stroke-width="1.0"/>
<text x="383.40" y="258.20" font-size="6.7" text-anchor="middle" fill="#4d4d4d" font-weight="normal" stroke="#4d4d4d" stroke-width="0.22">-0.04</text>
<line x1="442.30" y1="249.10" x2="442.30" y2="251.30" stroke="#333333" stroke-width="1.0"/>
<text x="442.30" y="258.20" font-size="6.7" text-anchor="middle" fill="#4d4d4d" font-weight="normal" stroke="#4d4d4d" stroke-width="0.22">-0.02</text>
<line x1="501.20" y1="249.10" x2="501.20" y2="251.30" stroke="#333333" stroke-width="1.0"/>
<text x="501.20" y="258.20" font-size="6.7" text-anchor="middle" fill="#4d4d4d" font-weight="normal" stroke="#4d4d4d" stroke-width="0.22">0.00</text>
<line x1="560.10" y1="249.10" x2="560.10" y2="251.30" stroke="#333333" stroke-width="1.0"/>
<text x="560.10" y="258.20" font-size="6.7" text-anchor="middle" fill="#4d4d4d" font-weight="normal" stroke="#4d4d4d" stroke-width="0.22">0.02</text>
<line x1="619.00" y1="249.10" x2="619.00" y2="251.30" stroke="#333333" stroke-width="1.0"/>
<text x="619.00" y="258.20" font-size="6.7" text-anchor="middle" fill="#4d4d4d" font-weight="normal" stroke="#4d4d4d" stroke-width="0.22">0.04</text>
<line x1="677.90" y1="249.10" x2="677.90" y2="251.30" stroke="#333333" stroke-width="1.0"/>
<text x="677.90" y="258.20" font-size="6.7" text-anchor="middle" fill="#4d4d4d" font-weight="normal" stroke="#4d4d4d" stroke-width="0.22">0.06</text>
<text x="530.00" y="267.90" font-size="8.4" text-anchor="middle" fill="#000" font-weight="normal" stroke="#000" stroke-width="0.22">Difference in DNA methylation</text>
<text x="361.60" y="125.40" font-size="8.4" text-anchor="middle" fill="#000" font-weight="normal" stroke="#000" stroke-width="0.22" transform="rotate(-90 361.6 125.4)">-log10(P-value)</text>
<line x1="377.70" y1="366.00" x2="678.00" y2="366.00" stroke="#c9c9c9" stroke-width="1.0"/>
<line x1="527.40" y1="294.40" x2="527.40" y2="541.30" stroke="#c9c9c9" stroke-width="1.0"/>
<polygon points="521.0,428.0 513.0,436.0 502.0,445.8 494.5,460.9 490.0,476.0 487.0,491.2 487.0,506.4 489.5,516.0 494.0,521.5 499.0,524.5 507.0,527.6 515.0,530.0 522.0,531.3 533.0,531.3 540.0,530.0 547.0,527.6 554.0,524.5 558.0,521.5 561.0,516.0 561.0,506.4 559.5,491.2 555.0,476.0 552.0,460.9 548.5,445.8 541.0,436.0 534.0,428.0" fill="#bebebe"/>
<circle cx="514.0" cy="393.9" r="1.7" fill="#bebebe"/>
<circle cx="523.2" cy="395.7" r="1.7" fill="#bebebe"/>
<circle cx="513.5" cy="397.5" r="1.7" fill="#bebebe"/>
<circle cx="512.5" cy="399.8" r="1.7" fill="#bebebe"/>
<circle cx="513.4" cy="401.5" r="1.7" fill="#bebebe"/>
<circle cx="513.8" cy="402.3" r="1.7" fill="#bebebe"/>
<circle cx="524.8" cy="403.0" r="1.7" fill="#bebebe"/>
<circle cx="516.2" cy="404.0" r="1.7" fill="#bebebe"/>
<circle cx="511.5" cy="405.4" r="1.7" fill="#bebebe"/>
<circle cx="522.5" cy="405.7" r="1.7" fill="#bebebe"/>
<circle cx="524.2" cy="407.3" r="1.7" fill="#bebebe"/>
<circle cx="519.3" cy="408.2" r="1.7" fill="#bebebe"/>
<circle cx="517.6" cy="409.3" r="1.7" fill="#bebebe"/>
<circle cx="513.3" cy="409.4" r="1.7" fill="#bebebe"/>
<circle cx="516.5" cy="409.9" r="1.7" fill="#bebebe"/>
<circle cx="516.0" cy="411.5" r="1.7" fill="#bebebe"/>
<circle cx="516.0" cy="410.5" r="1.7" fill="#bebebe"/>
<circle cx="521.2" cy="412.5" r="1.7" fill="#bebebe"/>
<circle cx="517.6" cy="412.0" r="1.7" fill="#bebebe"/>
<circle cx="521.7" cy="412.7" r="1.7" fill="#bebebe"/>
<circle cx="519.4" cy="413.1" r="1.7" fill="#bebebe"/>
<circle cx="512.2" cy="413.7" r="1.7" fill="#bebebe"/>
<circle cx="515.0" cy="414.4" r="1.7" fill="#bebebe"/>
<circle cx="519.0" cy="414.8" r="1.7" fill="#bebebe"/>
<circle cx="510.7" cy="414.6" r="1.7" fill="#bebebe"/>
<circle cx="522.0" cy="415.9" r="1.7" fill="#bebebe"/>
<circle cx="520.4" cy="416.2" r="1.7" fill="#bebebe"/>
<circle cx="525.1" cy="416.9" r="1.7" fill="#bebebe"/>
<circle cx="525.6" cy="417.5" r="1.7" fill="#bebebe"/>
<circle cx="523.8" cy="418.0" r="1.7" fill="#bebebe"/>
<circle cx="514.9" cy="417.7" r="1.7" fill="#bebebe"/>
<circle cx="523.6" cy="417.7" r="1.7" fill="#bebebe"/>
<circle cx="522.4" cy="419.3" r="1.7" fill="#bebebe"/>
<circle cx="516.7" cy="419.3" r="1.7" fill="#bebebe"/>
<circle cx="509.1" cy="418.8" r="1.7" fill="#bebebe"/>
<circle cx="515.5" cy="419.7" r="1.7" fill="#bebebe"/>
<circle cx="509.2" cy="419.8" r="1.7" fill="#bebebe"/>
<circle cx="524.0" cy="420.5" r="1.7" fill="#bebebe"/>
<circle cx="516.4" cy="420.8" r="1.7" fill="#bebebe"/>
<circle cx="525.1" cy="421.0" r="1.7" fill="#bebebe"/>
<circle cx="520.9" cy="420.5" r="1.7" fill="#bebebe"/>
<circle cx="522.8" cy="422.3" r="1.7" fill="#bebebe"/>
<circle cx="523.6" cy="422.1" r="1.7" fill="#bebebe"/>
<circle cx="515.3" cy="422.1" r="1.7" fill="#bebebe"/>
<circle cx="523.0" cy="421.8" r="1.7" fill="#bebebe"/>
<circle cx="512.3" cy="423.3" r="1.7" fill="#bebebe"/>
<circle cx="507.3" cy="423.2" r="1.7" fill="#bebebe"/>
<circle cx="524.9" cy="422.5" r="1.7" fill="#bebebe"/>
<circle cx="519.1" cy="424.4" r="1.7" fill="#bebebe"/>
<circle cx="517.9" cy="423.8" r="1.7" fill="#bebebe"/>
<circle cx="514.5" cy="424.5" r="1.7" fill="#bebebe"/>
<circle cx="524.0" cy="423.6" r="1.7" fill="#bebebe"/>
<circle cx="508.4" cy="424.5" r="1.7" fill="#bebebe"/>
<circle cx="515.2" cy="424.6" r="1.7" fill="#bebebe"/>
<circle cx="523.3" cy="425.2" r="1.7" fill="#bebebe"/>
<circle cx="509.0" cy="425.0" r="1.7" fill="#bebebe"/>
<circle cx="515.9" cy="425.7" r="1.7" fill="#bebebe"/>
<circle cx="509.5" cy="425.7" r="1.7" fill="#bebebe"/>
<circle cx="513.7" cy="426.2" r="1.7" fill="#bebebe"/>
<circle cx="517.0" cy="425.5" r="1.7" fill="#bebebe"/>
<circle cx="523.3" cy="427.3" r="1.7" fill="#bebebe"/>
<circle cx="521.7" cy="426.5" r="1.7" fill="#bebebe"/>
<circle cx="515.2" cy="426.6" r="1.7" fill="#bebebe"/>
<circle cx="521.1" cy="426.7" r="1.7" fill="#bebebe"/>
<circle cx="510.8" cy="428.2" r="1.7" fill="#bebebe"/>
<circle cx="512.0" cy="427.5" r="1.7" fill="#bebebe"/>
<circle cx="513.5" cy="427.8" r="1.7" fill="#bebebe"/>
<circle cx="523.8" cy="427.8" r="1.7" fill="#bebebe"/>
<circle cx="516.6" cy="429.4" r="1.7" fill="#bebebe"/>
<circle cx="507.5" cy="429.1" r="1.7" fill="#bebebe"/>
<circle cx="515.8" cy="429.2" r="1.7" fill="#bebebe"/>
<circle cx="525.1" cy="428.8" r="1.7" fill="#bebebe"/>
<circle cx="519.7" cy="429.0" r="1.7" fill="#bebebe"/>
<circle cx="506.5" cy="430.3" r="1.7" fill="#bebebe"/>
<circle cx="525.3" cy="429.9" r="1.7" fill="#bebebe"/>
<circle cx="511.7" cy="430.5" r="1.7" fill="#bebebe"/>
<circle cx="507.4" cy="429.6" r="1.7" fill="#bebebe"/>
<circle cx="506.7" cy="430.3" r="1.7" fill="#bebebe"/>
<circle cx="514.2" cy="431.1" r="1.7" fill="#bebebe"/>
<circle cx="505.3" cy="431.1" r="1.7" fill="#bebebe"/>
<circle cx="514.1" cy="431.0" r="1.7" fill="#bebebe"/>
<circle cx="513.0" cy="430.9" r="1.7" fill="#bebebe"/>
<circle cx="509.6" cy="430.5" r="1.7" fill="#bebebe"/>
<circle cx="509.7" cy="432.2" r="1.7" fill="#bebebe"/>
<circle cx="521.9" cy="432.2" r="1.7" fill="#bebebe"/>
<circle cx="514.2" cy="431.7" r="1.7" fill="#bebebe"/>
<circle cx="512.7" cy="432.0" r="1.7" fill="#bebebe"/>
<circle cx="517.9" cy="432.5" r="1.7" fill="#bebebe"/>
<circle cx="506.3" cy="432.0" r="1.7" fill="#bebebe"/>
<circle cx="519.7" cy="433.4" r="1.7" fill="#bebebe"/>
<circle cx="521.0" cy="433.1" r="1.7" fill="#bebebe"/>
<circle cx="520.6" cy="433.2" r="1.7" fill="#bebebe"/>
<circle cx="522.7" cy="433.2" r="1.7" fill="#bebebe"/>
<circle cx="518.9" cy="432.7" r="1.7" fill="#bebebe"/>
<circle cx="524.0" cy="432.9" r="1.7" fill="#bebebe"/>
<circle cx="521.9" cy="434.5" r="1.7" fill="#bebebe"/>
<circle cx="525.6" cy="433.5" r="1.7" fill="#bebebe"/>
<circle cx="510.6" cy="433.8" r="1.7" fill="#bebebe"/>
<circle cx="512.3" cy="433.6" r="1.7" fill="#bebebe"/>
<circle cx="515.9" cy="433.6" r="1.7" fill="#bebebe"/>
<circle cx="510.4" cy="434.4" r="1.7" fill="#bebebe"/>
<circle cx="513.7" cy="434.6" r="1.7" fill="#bebebe"/>
<circle cx="524.8" cy="435.2" r="1.7" fill="#bebebe"/>
<circle cx="507.9" cy="434.8" r="1.7" fill="#bebebe"/>
<circle cx="517.7" cy="435.2" r="1.7" fill="#bebebe"/>
<circle cx="509.2" cy="435.5" r="1.7" fill="#bebebe"/>
<circle cx="510.6" cy="434.8" r="1.7" fill="#bebebe"/>
<circle cx="506.4" cy="436.2" r="1.7" fill="#bebebe"/>
<circle cx="507.5" cy="436.1" r="1.7" fill="#bebebe"/>
<circle cx="509.3" cy="435.9" r="1.7" fill="#bebebe"/>
<circle cx="524.4" cy="436.0" r="1.7" fill="#bebebe"/>
<circle cx="512.9" cy="436.1" r="1.7" fill="#bebebe"/>
<circle cx="509.4" cy="435.7" r="1.7" fill="#bebebe"/>
<circle cx="508.9" cy="436.7" r="1.7" fill="#bebebe"/>
<circle cx="524.9" cy="436.5" r="1.7" fill="#bebebe"/>
<circle cx="521.4" cy="437.4" r="1.7" fill="#bebebe"/>
<circle cx="518.9" cy="436.5" r="1.7" fill="#bebebe"/>
<circle cx="514.2" cy="436.5" r="1.7" fill="#bebebe"/>
<circle cx="516.7" cy="437.2" r="1.7" fill="#bebebe"/>
<circle cx="508.1" cy="436.5" r="1.7" fill="#bebebe"/>
<circle cx="504.4" cy="437.8" r="1.7" fill="#bebebe"/>
<circle cx="512.9" cy="438.4" r="1.7" fill="#bebebe"/>
<circle cx="510.9" cy="437.6" r="1.7" fill="#bebebe"/>
<circle cx="520.9" cy="438.3" r="1.7" fill="#bebebe"/>
<circle cx="514.7" cy="437.5" r="1.7" fill="#bebebe"/>
<circle cx="506.6" cy="437.9" r="1.7" fill="#bebebe"/>
<circle cx="515.2" cy="437.7" r="1.7" fill="#bebebe"/>
<circle cx="522.0" cy="439.4" r="1.7" fill="#bebebe"/>
<circle cx="523.0" cy="438.5" r="1.7" fill="#bebebe"/>
<circle cx="515.8" cy="438.6" r="1.7" fill="#bebebe"/>
<circle cx="523.4" cy="439.2" r="1.7" fill="#bebebe"/>
<circle cx="520.0" cy="438.7" r="1.7" fill="#bebebe"/>
<circle cx="503.2" cy="439.3" r="1.7" fill="#bebebe"/>
<circle cx="516.4" cy="439.1" r="1.7" fill="#bebebe"/>
<circle cx="520.9" cy="439.8" r="1.7" fill="#bebebe"/>
<circle cx="508.0" cy="439.9" r="1.7" fill="#bebebe"/>
<circle cx="508.7" cy="440.1" r="1.7" fill="#bebebe"/>
<circle cx="523.1" cy="439.6" r="1.7" fill="#bebebe"/>
<circle cx="503.1" cy="440.0" r="1.7" fill="#bebebe"/>
<circle cx="517.9" cy="439.7" r="1.7" fill="#bebebe"/>
<circle cx="508.0" cy="439.6" r="1.7" fill="#bebebe"/>
<circle cx="502.3" cy="440.0" r="1.7" fill="#bebebe"/>
<circle cx="517.2" cy="440.7" r="1.7" fill="#bebebe"/>
<circle cx="503.6" cy="441.4" r="1.7" fill="#bebebe"/>
<circle cx="514.4" cy="440.9" r="1.7" fill="#bebebe"/>
<circle cx="518.1" cy="441.2" r="1.7" fill="#bebebe"/>
<circle cx="514.0" cy="440.6" r="1.7" fill="#bebebe"/>
<circle cx="521.5" cy="440.7" r="1.7" fill="#bebebe"/>
<circle cx="502.0" cy="440.9" r="1.7" fill="#bebebe"/>
<circle cx="514.2" cy="441.1" r="1.7" fill="#bebebe"/>
<circle cx="518.5" cy="442.0" r="1.7" fill="#bebebe"/>
<circle cx="504.7" cy="442.4" r="1.7" fill="#bebebe"/>
<circle cx="520.9" cy="442.4" r="1.7" fill="#bebebe"/>
<circle cx="517.7" cy="441.7" r="1.7" fill="#bebebe"/>
<circle cx="520.2" cy="442.4" r="1.7" fill="#bebebe"/>
<circle cx="514.1" cy="442.4" r="1.7" fill="#bebebe"/>
<circle cx="525.0" cy="441.9" r="1.7" fill="#bebebe"/>
<circle cx="524.3" cy="442.4" r="1.7" fill="#bebebe"/>
<circle cx="520.6" cy="441.5" r="1.7" fill="#bebebe"/>
<circle cx="515.9" cy="443.1" r="1.7" fill="#bebebe"/>
<circle cx="519.6" cy="443.1" r="1.7" fill="#bebebe"/>
<circle cx="504.4" cy="443.4" r="1.7" fill="#bebebe"/>
<circle cx="514.0" cy="443.4" r="1.7" fill="#bebebe"/>
<circle cx="505.5" cy="443.5" r="1.7" fill="#bebebe"/>
<circle cx="514.4" cy="443.3" r="1.7" fill="#bebebe"/>
<circle cx="519.2" cy="443.4" r="1.7" fill="#bebebe"/>
<circle cx="509.5" cy="442.6" r="1.7" fill="#bebebe"/>
<circle cx="510.6" cy="442.7" r="1.7" fill="#bebebe"/>
<circle cx="521.0" cy="443.9" r="1.7" fill="#bebebe"/>
<circle cx="503.3" cy="443.5" r="1.7" fill="#bebebe"/>
<circle cx="510.8" cy="444.1" r="1.7" fill="#bebebe"/>
<circle cx="500.6" cy="444.2" r="1.7" fill="#bebebe"/>
<circle cx="505.3" cy="443.6" r="1.7" fill="#bebebe"/>
<circle cx="523.9" cy="444.0" r="1.7" fill="#bebebe"/>
<circle cx="523.1" cy="444.0" r="1.7" fill="#bebebe"/>
<circle cx="503.1" cy="443.7" r="1.7" fill="#bebebe"/>
<circle cx="510.9" cy="444.1" r="1.7" fill="#bebebe"/>
<circle cx="519.3" cy="445.2" r="1.7" fill="#bebebe"/>
<circle cx="506.2" cy="444.9" r="1.7" fill="#bebebe"/>
<circle cx="509.4" cy="445.0" r="1.7" fill="#bebebe"/>
<circle cx="506.5" cy="445.0" r="1.7" fill="#bebebe"/>
<circle cx="511.6" cy="444.5" r="1.7" fill="#bebebe"/>
<circle cx="521.1" cy="445.1" r="1.7" fill="#bebebe"/>
<circle cx="520.6" cy="445.2" r="1.7" fill="#bebebe"/>
<circle cx="518.7" cy="445.5" r="1.7" fill="#bebebe"/>
<circle cx="509.4" cy="444.9" r="1.7" fill="#bebebe"/>
<circle cx="536.0" cy="386.7" r="1.7" fill="#bebebe"/>
<circle cx="534.0" cy="387.8" r="1.7" fill="#bebebe"/>
<circle cx="539.8" cy="398.1" r="1.7" fill="#bebebe"/>
<circle cx="531.7" cy="399.3" r="1.7" fill="#bebebe"/>
<circle cx="540.9" cy="400.3" r="1.7" fill="#bebebe"/>
<circle cx="538.3" cy="402.1" r="1.7" fill="#bebebe"/>
<circle cx="541.7" cy="402.8" r="1.7" fill="#bebebe"/>
<circle cx="541.9" cy="404.2" r="1.7" fill="#bebebe"/>
<circle cx="540.4" cy="405.2" r="1.7" fill="#bebebe"/>
<circle cx="530.1" cy="406.0" r="1.7" fill="#bebebe"/>
<circle cx="542.1" cy="407.0" r="1.7" fill="#bebebe"/>
<circle cx="536.5" cy="406.9" r="1.7" fill="#bebebe"/>
<circle cx="542.2" cy="407.8" r="1.7" fill="#bebebe"/>
<circle cx="537.7" cy="408.8" r="1.7" fill="#bebebe"/>
<circle cx="537.2" cy="409.9" r="1.7" fill="#bebebe"/>
<circle cx="537.1" cy="410.6" r="1.7" fill="#bebebe"/>
<circle cx="534.7" cy="411.9" r="1.7" fill="#bebebe"/>
<circle cx="543.4" cy="413.5" r="1.7" fill="#bebebe"/>
<circle cx="537.1" cy="412.9" r="1.7" fill="#bebebe"/>
<circle cx="543.1" cy="413.7" r="1.7" fill="#bebebe"/>
<circle cx="537.8" cy="413.8" r="1.7" fill="#bebebe"/>
<circle cx="534.9" cy="414.7" r="1.7" fill="#bebebe"/>
<circle cx="530.0" cy="415.0" r="1.7" fill="#bebebe"/>
<circle cx="539.6" cy="415.7" r="1.7" fill="#bebebe"/>
<circle cx="540.3" cy="415.6" r="1.7" fill="#bebebe"/>
<circle cx="542.6" cy="417.4" r="1.7" fill="#bebebe"/>
<circle cx="536.7" cy="417.3" r="1.7" fill="#bebebe"/>
<circle cx="537.9" cy="418.1" r="1.7" fill="#bebebe"/>
<circle cx="545.4" cy="418.2" r="1.7" fill="#bebebe"/>
<circle cx="541.3" cy="419.1" r="1.7" fill="#bebebe"/>
<circle cx="535.2" cy="419.3" r="1.7" fill="#bebebe"/>
<circle cx="542.8" cy="419.1" r="1.7" fill="#bebebe"/>
<circle cx="529.7" cy="420.0" r="1.7" fill="#bebebe"/>
<circle cx="539.9" cy="419.8" r="1.7" fill="#bebebe"/>
<circle cx="541.0" cy="420.9" r="1.7" fill="#bebebe"/>
<circle cx="533.9" cy="420.5" r="1.7" fill="#bebebe"/>
<circle cx="545.6" cy="420.9" r="1.7" fill="#bebebe"/>
<circle cx="533.1" cy="421.8" r="1.7" fill="#bebebe"/>
<circle cx="544.1" cy="421.7" r="1.7" fill="#bebebe"/>
<circle cx="534.1" cy="421.6" r="1.7" fill="#bebebe"/>
<circle cx="533.0" cy="422.8" r="1.7" fill="#bebebe"/>
<circle cx="542.0" cy="423.4" r="1.7" fill="#bebebe"/>
<circle cx="543.7" cy="422.5" r="1.7" fill="#bebebe"/>
<circle cx="544.1" cy="423.5" r="1.7" fill="#bebebe"/>
<circle cx="532.9" cy="424.0" r="1.7" fill="#bebebe"/>
<circle cx="536.0" cy="424.3" r="1.7" fill="#bebebe"/>
<circle cx="537.5" cy="424.7" r="1.7" fill="#bebebe"/>
<circle cx="533.4" cy="424.8" r="1.7" fill="#bebebe"/>
<circle cx="530.5" cy="425.2" r="1.7" fill="#bebebe"/>
<circle cx="545.2" cy="426.1" r="1.7" fill="#bebebe"/>
<circle cx="530.4" cy="426.0" r="1.7" fill="#bebebe"/>
<circle cx="540.1" cy="425.5" r="1.7" fill="#bebebe"/>
<circle cx="538.0" cy="425.5" r="1.7" fill="#bebebe"/>
<circle cx="529.5" cy="427.1" r="1.7" fill="#bebebe"/>
<circle cx="547.1" cy="427.3" r="1.7" fill="#bebebe"/>
<circle cx="533.6" cy="427.0" r="1.7" fill="#bebebe"/>
<circle cx="531.9" cy="426.8" r="1.7" fill="#bebebe"/>
<circle cx="544.2" cy="427.5" r="1.7" fill="#bebebe"/>
<circle cx="536.3" cy="428.1" r="1.7" fill="#bebebe"/>
<circle cx="532.6" cy="428.3" r="1.7" fill="#bebebe"/>
<circle cx="545.6" cy="428.1" r="1.7" fill="#bebebe"/>
<circle cx="544.9" cy="429.0" r="1.7" fill="#bebebe"/>
<circle cx="532.8" cy="428.8" r="1.7" fill="#bebebe"/>
<circle cx="532.3" cy="429.3" r="1.7" fill="#bebebe"/>
<circle cx="538.7" cy="429.2" r="1.7" fill="#bebebe"/>
<circle cx="547.4" cy="429.7" r="1.7" fill="#bebebe"/>
<circle cx="536.9" cy="430.4" r="1.7" fill="#bebebe"/>
<circle cx="543.5" cy="429.9" r="1.7" fill="#bebebe"/>
<circle cx="541.5" cy="429.7" r="1.7" fill="#bebebe"/>
<circle cx="530.3" cy="430.9" r="1.7" fill="#bebebe"/>
<circle cx="533.8" cy="431.0" r="1.7" fill="#bebebe"/>
<circle cx="547.5" cy="430.7" r="1.7" fill="#bebebe"/>
<circle cx="539.8" cy="431.4" r="1.7" fill="#bebebe"/>
<circle cx="540.6" cy="431.0" r="1.7" fill="#bebebe"/>
<circle cx="529.8" cy="432.4" r="1.7" fill="#bebebe"/>
<circle cx="542.4" cy="432.3" r="1.7" fill="#bebebe"/>
<circle cx="545.0" cy="431.6" r="1.7" fill="#bebebe"/>
<circle cx="530.7" cy="431.7" r="1.7" fill="#bebebe"/>
<circle cx="538.9" cy="432.4" r="1.7" fill="#bebebe"/>
<circle cx="537.3" cy="433.1" r="1.7" fill="#bebebe"/>
<circle cx="543.5" cy="432.8" r="1.7" fill="#bebebe"/>
<circle cx="547.9" cy="433.4" r="1.7" fill="#bebebe"/>
<circle cx="543.3" cy="433.4" r="1.7" fill="#bebebe"/>
<circle cx="544.7" cy="433.2" r="1.7" fill="#bebebe"/>
<circle cx="534.8" cy="433.7" r="1.7" fill="#bebebe"/>
<circle cx="530.5" cy="434.4" r="1.7" fill="#bebebe"/>
<circle cx="535.2" cy="433.5" r="1.7" fill="#bebebe"/>
<circle cx="535.5" cy="433.6" r="1.7" fill="#bebebe"/>
<circle cx="538.0" cy="433.8" r="1.7" fill="#bebebe"/>
<circle cx="538.7" cy="434.9" r="1.7" fill="#bebebe"/>
<circle cx="536.3" cy="435.3" r="1.7" fill="#bebebe"/>
<circle cx="535.4" cy="435.0" r="1.7" fill="#bebebe"/>
<circle cx="546.5" cy="435.5" r="1.7" fill="#bebebe"/>
<circle cx="536.7" cy="434.5" r="1.7" fill="#bebebe"/>
<circle cx="548.0" cy="435.0" r="1.7" fill="#bebebe"/>
<circle cx="531.9" cy="435.7" r="1.7" fill="#bebebe"/>
<circle cx="535.5" cy="435.6" r="1.7" fill="#bebebe"/>
<circle cx="530.4" cy="436.5" r="1.7" fill="#bebebe"/>
<circle cx="545.6" cy="435.6" r="1.7" fill="#bebebe"/>
<circle cx="538.9" cy="436.3" r="1.7" fill="#bebebe"/>
<circle cx="539.4" cy="435.6" r="1.7" fill="#bebebe"/>
<circle cx="537.0" cy="437.4" r="1.7" fill="#bebebe"/>
<circle cx="541.0" cy="437.0" r="1.7" fill="#bebebe"/>
<circle cx="542.0" cy="436.5" r="1.7" fill="#bebebe"/>
<circle cx="543.1" cy="437.3" r="1.7" fill="#bebebe"/>
<circle cx="542.8" cy="436.9" r="1.7" fill="#bebebe"/>
<circle cx="535.1" cy="436.5" r="1.7" fill="#bebebe"/>
<circle cx="532.5" cy="438.0" r="1.7" fill="#bebebe"/>
<circle cx="545.1" cy="437.7" r="1.7" fill="#bebebe"/>
<circle cx="538.9" cy="438.1" r="1.7" fill="#bebebe"/>
<circle cx="542.1" cy="437.5" r="1.7" fill="#bebebe"/>
<circle cx="547.9" cy="438.1" r="1.7" fill="#bebebe"/>
<circle cx="535.5" cy="437.7" r="1.7" fill="#bebebe"/>
<circle cx="543.3" cy="438.4" r="1.7" fill="#bebebe"/>
<circle cx="537.5" cy="439.1" r="1.7" fill="#bebebe"/>
<circle cx="533.0" cy="438.9" r="1.7" fill="#bebebe"/>
<circle cx="548.1" cy="439.1" r="1.7" fill="#bebebe"/>
<circle cx="546.1" cy="438.8" r="1.7" fill="#bebebe"/>
<circle cx="547.1" cy="439.3" r="1.7" fill="#bebebe"/>
<circle cx="534.0" cy="439.0" r="1.7" fill="#bebebe"/>
<circle cx="543.3" cy="439.1" r="1.7" fill="#bebebe"/>
<circle cx="534.3" cy="440.1" r="1.7" fill="#bebebe"/>
<circle cx="536.7" cy="440.3" r="1.7" fill="#bebebe"/>
<circle cx="537.1" cy="440.5" r="1.7" fill="#bebebe"/>
<circle cx="541.3" cy="439.7" r="1.7" fill="#bebebe"/>
<circle cx="537.9" cy="439.6" r="1.7" fill="#bebebe"/>
<circle cx="544.5" cy="439.5" r="1.7" fill="#bebebe"/>
<circle cx="535.8" cy="441.3" r="1.7" fill="#bebebe"/>
<circle cx="532.0" cy="441.2" r="1.7" fill="#bebebe"/>
<circle cx="544.2" cy="440.7" r="1.7" fill="#bebebe"/>
<circle cx="532.1" cy="440.9" r="1.7" fill="#bebebe"/>
<circle cx="542.9" cy="440.8" r="1.7" fill="#bebebe"/>
<circle cx="529.6" cy="440.9" r="1.7" fill="#bebebe"/>
<circle cx="546.2" cy="440.7" r="1.7" fill="#bebebe"/>
<circle cx="540.1" cy="441.7" r="1.7" fill="#bebebe"/>
<circle cx="531.5" cy="441.9" r="1.7" fill="#bebebe"/>
<circle cx="539.4" cy="441.7" r="1.7" fill="#bebebe"/>
<circle cx="531.2" cy="442.0" r="1.7" fill="#bebebe"/>
<circle cx="534.7" cy="441.9" r="1.7" fill="#bebebe"/>
<circle cx="538.9" cy="442.2" r="1.7" fill="#bebebe"/>
<circle cx="541.5" cy="441.7" r="1.7" fill="#bebebe"/>
<circle cx="547.6" cy="442.6" r="1.7" fill="#bebebe"/>
<circle cx="532.0" cy="442.6" r="1.7" fill="#bebebe"/>
<circle cx="546.9" cy="443.0" r="1.7" fill="#bebebe"/>
<circle cx="549.0" cy="443.1" r="1.7" fill="#bebebe"/>
<circle cx="536.5" cy="442.9" r="1.7" fill="#bebebe"/>
<circle cx="544.9" cy="442.7" r="1.7" fill="#bebebe"/>
<circle cx="546.4" cy="442.9" r="1.7" fill="#bebebe"/>
<circle cx="530.3" cy="442.8" r="1.7" fill="#bebebe"/>
<circle cx="532.5" cy="444.4" r="1.7" fill="#bebebe"/>
<circle cx="549.2" cy="444.0" r="1.7" fill="#bebebe"/>
<circle cx="548.8" cy="444.2" r="1.7" fill="#bebebe"/>
<circle cx="540.9" cy="443.7" r="1.7" fill="#bebebe"/>
<circle cx="549.8" cy="444.4" r="1.7" fill="#bebebe"/>
<circle cx="539.1" cy="443.9" r="1.7" fill="#bebebe"/>
<circle cx="531.0" cy="444.1" r="1.7" fill="#bebebe"/>
<circle cx="537.8" cy="444.8" r="1.7" fill="#bebebe"/>
<circle cx="542.6" cy="445.3" r="1.7" fill="#bebebe"/>
<circle cx="533.1" cy="444.8" r="1.7" fill="#bebebe"/>
<circle cx="543.3" cy="444.5" r="1.7" fill="#bebebe"/>
<circle cx="547.0" cy="444.8" r="1.7" fill="#bebebe"/>
<circle cx="547.4" cy="445.0" r="1.7" fill="#bebebe"/>
<circle cx="533.0" cy="444.5" r="1.7" fill="#bebebe"/>
<circle cx="492.7" cy="445.0" r="1.7" fill="#bebebe"/>
<circle cx="547.9" cy="445.2" r="1.7" fill="#bebebe"/>
<circle cx="501.7" cy="444.9" r="1.7" fill="#bebebe"/>
<circle cx="491.7" cy="446.2" r="1.7" fill="#bebebe"/>
<circle cx="497.3" cy="446.0" r="1.7" fill="#bebebe"/>
<circle cx="549.7" cy="446.1" r="1.7" fill="#bebebe"/>
<circle cx="549.9" cy="446.2" r="1.7" fill="#bebebe"/>
<circle cx="497.5" cy="446.6" r="1.7" fill="#bebebe"/>
<circle cx="555.3" cy="446.9" r="1.7" fill="#bebebe"/>
<circle cx="501.5" cy="447.1" r="1.7" fill="#bebebe"/>
<circle cx="550.5" cy="447.1" r="1.7" fill="#bebebe"/>
<circle cx="491.9" cy="447.9" r="1.7" fill="#bebebe"/>
<circle cx="486.2" cy="448.4" r="1.7" fill="#bebebe"/>
<circle cx="554.5" cy="448.2" r="1.7" fill="#bebebe"/>
<circle cx="495.6" cy="449.1" r="1.7" fill="#bebebe"/>
<circle cx="496.4" cy="449.1" r="1.7" fill="#bebebe"/>
<circle cx="558.2" cy="449.0" r="1.7" fill="#bebebe"/>
<circle cx="550.2" cy="449.2" r="1.7" fill="#bebebe"/>
<circle cx="500.5" cy="449.0" r="1.7" fill="#bebebe"/>
<circle cx="549.2" cy="449.4" r="1.7" fill="#bebebe"/>
<circle cx="499.8" cy="450.3" r="1.7" fill="#bebebe"/>
<circle cx="499.7" cy="449.8" r="1.7" fill="#bebebe"/>
<circle cx="555.2" cy="449.8" r="1.7" fill="#bebebe"/>
<circle cx="499.5" cy="449.6" r="1.7" fill="#bebebe"/>
<circle cx="493.6" cy="451.2" r="1.7" fill="#bebebe"/>
<circle cx="493.9" cy="451.5" r="1.7" fill="#bebebe"/>
<circle cx="560.9" cy="451.4" r="1.7" fill="#bebebe"/>
<circle cx="485.5" cy="452.3" r="1.7" fill="#bebebe"/>
<circle cx="491.5" cy="452.0" r="1.7" fill="#bebebe"/>
<circle cx="553.6" cy="451.6" r="1.7" fill="#bebebe"/>
<circle cx="550.6" cy="452.3" r="1.7" fill="#bebebe"/>
<circle cx="498.1" cy="452.6" r="1.7" fill="#bebebe"/>
<circle cx="489.6" cy="452.9" r="1.7" fill="#bebebe"/>
<circle cx="554.3" cy="453.4" r="1.7" fill="#bebebe"/>
<circle cx="498.0" cy="453.4" r="1.7" fill="#bebebe"/>
<circle cx="491.0" cy="454.0" r="1.7" fill="#bebebe"/>
<circle cx="496.0" cy="453.9" r="1.7" fill="#bebebe"/>
<circle cx="558.7" cy="453.8" r="1.7" fill="#bebebe"/>
<circle cx="492.0" cy="455.1" r="1.7" fill="#bebebe"/>
<circle cx="492.9" cy="454.9" r="1.7" fill="#bebebe"/>
<circle cx="558.9" cy="455.4" r="1.7" fill="#bebebe"/>
<circle cx="497.9" cy="454.9" r="1.7" fill="#bebebe"/>
<circle cx="550.2" cy="455.3" r="1.7" fill="#bebebe"/>
<circle cx="485.3" cy="455.9" r="1.7" fill="#bebebe"/>
<circle cx="479.7" cy="456.4" r="1.7" fill="#bebebe"/>
<circle cx="552.6" cy="456.4" r="1.7" fill="#bebebe"/>
<circle cx="556.9" cy="455.9" r="1.7" fill="#bebebe"/>
<circle cx="489.3" cy="456.6" r="1.7" fill="#bebebe"/>
<circle cx="491.1" cy="456.6" r="1.7" fill="#bebebe"/>
<circle cx="557.1" cy="456.6" r="1.7" fill="#bebebe"/>
<circle cx="550.8" cy="457.1" r="1.7" fill="#bebebe"/>
<circle cx="479.5" cy="458.1" r="1.7" fill="#bebebe"/>
<circle cx="484.4" cy="457.6" r="1.7" fill="#bebebe"/>
<circle cx="552.1" cy="458.1" r="1.7" fill="#bebebe"/>
<circle cx="488.5" cy="459.2" r="1.7" fill="#bebebe"/>
<circle cx="481.7" cy="458.6" r="1.7" fill="#bebebe"/>
<circle cx="562.2" cy="458.9" r="1.7" fill="#bebebe"/>
<circle cx="551.7" cy="459.2" r="1.7" fill="#bebebe"/>
<circle cx="480.8" cy="460.5" r="1.7" fill="#bebebe"/>
<circle cx="490.6" cy="460.4" r="1.7" fill="#bebebe"/>
<circle cx="493.7" cy="460.4" r="1.7" fill="#bebebe"/>
<circle cx="563.8" cy="459.9" r="1.7" fill="#bebebe"/>
<circle cx="562.8" cy="459.5" r="1.7" fill="#bebebe"/>
<circle cx="493.6" cy="460.1" r="1.7" fill="#bebebe"/>
<circle cx="551.4" cy="459.7" r="1.7" fill="#bebebe"/>
<circle cx="493.7" cy="461.5" r="1.7" fill="#bebebe"/>
<circle cx="481.0" cy="461.4" r="1.7" fill="#bebebe"/>
<circle cx="555.3" cy="460.6" r="1.7" fill="#bebebe"/>
<circle cx="552.8" cy="461.0" r="1.7" fill="#bebebe"/>
<circle cx="493.0" cy="461.6" r="1.7" fill="#bebebe"/>
<circle cx="485.6" cy="461.5" r="1.7" fill="#bebebe"/>
<circle cx="553.6" cy="461.8" r="1.7" fill="#bebebe"/>
<circle cx="493.4" cy="461.9" r="1.7" fill="#bebebe"/>
<circle cx="552.2" cy="462.1" r="1.7" fill="#bebebe"/>
<circle cx="487.1" cy="462.7" r="1.7" fill="#bebebe"/>
<circle cx="488.9" cy="462.7" r="1.7" fill="#bebebe"/>
<circle cx="561.6" cy="463.1" r="1.7" fill="#bebebe"/>
<circle cx="493.6" cy="462.9" r="1.7" fill="#bebebe"/>
<circle cx="552.8" cy="463.5" r="1.7" fill="#bebebe"/>
<circle cx="482.1" cy="464.2" r="1.7" fill="#bebebe"/>
<circle cx="482.4" cy="464.3" r="1.7" fill="#bebebe"/>
<circle cx="560.4" cy="464.5" r="1.7" fill="#bebebe"/>
<circle cx="554.3" cy="464.1" r="1.7" fill="#bebebe"/>
<circle cx="493.9" cy="463.5" r="1.7" fill="#bebebe"/>
<circle cx="480.7" cy="464.6" r="1.7" fill="#bebebe"/>
<circle cx="487.4" cy="464.5" r="1.7" fill="#bebebe"/>
<circle cx="484.2" cy="465.3" r="1.7" fill="#bebebe"/>
<circle cx="559.4" cy="465.4" r="1.7" fill="#bebebe"/>
<circle cx="556.0" cy="465.0" r="1.7" fill="#bebebe"/>
<circle cx="481.4" cy="465.6" r="1.7" fill="#bebebe"/>
<circle cx="491.3" cy="466.5" r="1.7" fill="#bebebe"/>
<circle cx="492.2" cy="466.4" r="1.7" fill="#bebebe"/>
<circle cx="561.5" cy="466.2" r="1.7" fill="#bebebe"/>
<circle cx="553.5" cy="465.7" r="1.7" fill="#bebebe"/>
<circle cx="478.3" cy="467.3" r="1.7" fill="#bebebe"/>
<circle cx="489.3" cy="467.1" r="1.7" fill="#bebebe"/>
<circle cx="564.0" cy="467.2" r="1.7" fill="#bebebe"/>
<circle cx="569.4" cy="467.2" r="1.7" fill="#bebebe"/>
<circle cx="482.1" cy="467.5" r="1.7" fill="#bebebe"/>
<circle cx="486.4" cy="467.6" r="1.7" fill="#bebebe"/>
<circle cx="472.8" cy="467.5" r="1.7" fill="#bebebe"/>
<circle cx="568.2" cy="467.9" r="1.7" fill="#bebebe"/>
<circle cx="553.2" cy="467.5" r="1.7" fill="#bebebe"/>
<circle cx="492.0" cy="469.3" r="1.7" fill="#bebebe"/>
<circle cx="490.7" cy="469.1" r="1.7" fill="#bebebe"/>
<circle cx="487.7" cy="468.6" r="1.7" fill="#bebebe"/>
<circle cx="555.8" cy="469.5" r="1.7" fill="#bebebe"/>
<circle cx="558.5" cy="469.1" r="1.7" fill="#bebebe"/>
<circle cx="487.5" cy="469.6" r="1.7" fill="#bebebe"/>
<circle cx="474.2" cy="469.7" r="1.7" fill="#bebebe"/>
<circle cx="566.1" cy="470.1" r="1.7" fill="#bebebe"/>
<circle cx="569.6" cy="470.3" r="1.7" fill="#bebebe"/>
<circle cx="492.0" cy="470.1" r="1.7" fill="#bebebe"/>
<circle cx="555.3" cy="470.0" r="1.7" fill="#bebebe"/>
<circle cx="476.1" cy="471.0" r="1.7" fill="#bebebe"/>
<circle cx="475.2" cy="471.4" r="1.7" fill="#bebebe"/>
<circle cx="569.4" cy="471.4" r="1.7" fill="#bebebe"/>
<circle cx="567.7" cy="470.8" r="1.7" fill="#bebebe"/>
<circle cx="491.7" cy="470.9" r="1.7" fill="#bebebe"/>
<circle cx="491.1" cy="471.8" r="1.7" fill="#bebebe"/>
<circle cx="489.9" cy="472.1" r="1.7" fill="#bebebe"/>
<circle cx="570.3" cy="471.6" r="1.7" fill="#bebebe"/>
<circle cx="559.5" cy="471.6" r="1.7" fill="#bebebe"/>
<circle cx="470.7" cy="473.0" r="1.7" fill="#bebebe"/>
<circle cx="476.3" cy="473.0" r="1.7" fill="#bebebe"/>
<circle cx="573.8" cy="473.3" r="1.7" fill="#bebebe"/>
<circle cx="563.4" cy="473.4" r="1.7" fill="#bebebe"/>
<circle cx="488.5" cy="473.6" r="1.7" fill="#bebebe"/>
<circle cx="479.9" cy="474.2" r="1.7" fill="#bebebe"/>
<circle cx="488.1" cy="474.0" r="1.7" fill="#bebebe"/>
<circle cx="565.7" cy="474.3" r="1.7" fill="#bebebe"/>
<circle cx="555.8" cy="474.5" r="1.7" fill="#bebebe"/>
<circle cx="554.9" cy="473.7" r="1.7" fill="#bebebe"/>
<circle cx="471.4" cy="474.7" r="1.7" fill="#bebebe"/>
<circle cx="487.3" cy="475.1" r="1.7" fill="#bebebe"/>
<circle cx="567.3" cy="475.0" r="1.7" fill="#bebebe"/>
<circle cx="556.4" cy="475.1" r="1.7" fill="#bebebe"/>
<circle cx="488.9" cy="475.1" r="1.7" fill="#bebebe"/>
<circle cx="478.9" cy="476.4" r="1.7" fill="#bebebe"/>
<circle cx="485.6" cy="475.5" r="1.7" fill="#bebebe"/>
<circle cx="555.4" cy="476.5" r="1.7" fill="#bebebe"/>
<circle cx="562.2" cy="475.6" r="1.7" fill="#bebebe"/>
<circle cx="488.8" cy="475.9" r="1.7" fill="#bebebe"/>
<circle cx="473.7" cy="476.9" r="1.7" fill="#bebebe"/>
<circle cx="473.8" cy="476.6" r="1.7" fill="#bebebe"/>
<circle cx="477.9" cy="477.0" r="1.7" fill="#bebebe"/>
<circle cx="555.6" cy="477.0" r="1.7" fill="#bebebe"/>
<circle cx="570.6" cy="476.6" r="1.7" fill="#bebebe"/>
<circle cx="490.3" cy="477.5" r="1.7" fill="#bebebe"/>
<circle cx="481.5" cy="477.6" r="1.7" fill="#bebebe"/>
<circle cx="487.7" cy="478.2" r="1.7" fill="#bebebe"/>
<circle cx="576.6" cy="478.4" r="1.7" fill="#bebebe"/>
<circle cx="562.6" cy="477.8" r="1.7" fill="#bebebe"/>
<circle cx="489.3" cy="478.0" r="1.7" fill="#bebebe"/>
<circle cx="468.2" cy="479.2" r="1.7" fill="#bebebe"/>
<circle cx="488.7" cy="479.2" r="1.7" fill="#bebebe"/>
<circle cx="566.5" cy="478.5" r="1.7" fill="#bebebe"/>
<circle cx="572.7" cy="479.0" r="1.7" fill="#bebebe"/>
<circle cx="489.5" cy="478.5" r="1.7" fill="#bebebe"/>
<circle cx="555.9" cy="478.8" r="1.7" fill="#bebebe"/>
<circle cx="488.3" cy="480.2" r="1.7" fill="#bebebe"/>
<circle cx="476.6" cy="480.4" r="1.7" fill="#bebebe"/>
<circle cx="485.8" cy="480.2" r="1.7" fill="#bebebe"/>
<circle cx="557.6" cy="480.4" r="1.7" fill="#bebebe"/>
<circle cx="561.9" cy="479.7" r="1.7" fill="#bebebe"/>
<circle cx="487.6" cy="479.7" r="1.7" fill="#bebebe"/>
<circle cx="556.9" cy="479.9" r="1.7" fill="#bebebe"/>
<circle cx="487.7" cy="480.9" r="1.7" fill="#bebebe"/>
<circle cx="479.0" cy="481.1" r="1.7" fill="#bebebe"/>
<circle cx="560.8" cy="481.1" r="1.7" fill="#bebebe"/>
<circle cx="577.2" cy="481.0" r="1.7" fill="#bebebe"/>
<circle cx="484.6" cy="482.5" r="1.7" fill="#bebebe"/>
<circle cx="484.1" cy="481.9" r="1.7" fill="#bebebe"/>
<circle cx="579.0" cy="482.0" r="1.7" fill="#bebebe"/>
<circle cx="574.7" cy="481.7" r="1.7" fill="#bebebe"/>
<circle cx="487.8" cy="481.8" r="1.7" fill="#bebebe"/>
<circle cx="487.4" cy="482.6" r="1.7" fill="#bebebe"/>
<circle cx="481.5" cy="483.0" r="1.7" fill="#bebebe"/>
<circle cx="561.4" cy="482.5" r="1.7" fill="#bebebe"/>
<circle cx="561.4" cy="482.8" r="1.7" fill="#bebebe"/>
<circle cx="563.6" cy="483.1" r="1.7" fill="#bebebe"/>
<circle cx="484.0" cy="484.0" r="1.7" fill="#bebebe"/>
<circle cx="475.5" cy="484.4" r="1.7" fill="#bebebe"/>
<circle cx="557.6" cy="483.6" r="1.7" fill="#bebebe"/>
<circle cx="566.4" cy="484.4" r="1.7" fill="#bebebe"/>
<circle cx="559.8" cy="484.3" r="1.7" fill="#bebebe"/>
<circle cx="486.6" cy="485.3" r="1.7" fill="#bebebe"/>
<circle cx="486.2" cy="484.6" r="1.7" fill="#bebebe"/>
<circle cx="566.2" cy="484.6" r="1.7" fill="#bebebe"/>
<circle cx="562.3" cy="484.7" r="1.7" fill="#bebebe"/>
<circle cx="488.5" cy="484.5" r="1.7" fill="#bebebe"/>
<circle cx="557.9" cy="484.9" r="1.7" fill="#bebebe"/>
<circle cx="477.7" cy="486.0" r="1.7" fill="#bebebe"/>
<circle cx="483.0" cy="486.1" r="1.7" fill="#bebebe"/>
<circle cx="560.9" cy="485.6" r="1.7" fill="#bebebe"/>
<circle cx="570.5" cy="485.6" r="1.7" fill="#bebebe"/>
<circle cx="561.7" cy="485.9" r="1.7" fill="#bebebe"/>
<circle cx="477.9" cy="486.7" r="1.7" fill="#bebebe"/>
<circle cx="470.3" cy="487.2" r="1.7" fill="#bebebe"/>
<circle cx="565.2" cy="487.1" r="1.7" fill="#bebebe"/>
<circle cx="560.2" cy="487.1" r="1.7" fill="#bebebe"/>
<circle cx="577.3" cy="486.9" r="1.7" fill="#bebebe"/>
<circle cx="487.7" cy="487.4" r="1.7" fill="#bebebe"/>
<circle cx="558.6" cy="487.2" r="1.7" fill="#bebebe"/>
<circle cx="470.5" cy="487.9" r="1.7" fill="#bebebe"/>
<circle cx="478.0" cy="487.8" r="1.7" fill="#bebebe"/>
<circle cx="567.0" cy="487.6" r="1.7" fill="#bebebe"/>
<circle cx="577.2" cy="487.7" r="1.7" fill="#bebebe"/>
<circle cx="482.5" cy="489.0" r="1.7" fill="#bebebe"/>
<circle cx="466.1" cy="488.5" r="1.7" fill="#bebebe"/>
<circle cx="570.1" cy="489.0" r="1.7" fill="#bebebe"/>
<circle cx="570.8" cy="489.1" r="1.7" fill="#bebebe"/>
<circle cx="481.9" cy="489.9" r="1.7" fill="#bebebe"/>
<circle cx="470.2" cy="490.0" r="1.7" fill="#bebebe"/>
<circle cx="570.0" cy="489.6" r="1.7" fill="#bebebe"/>
<circle cx="565.2" cy="490.2" r="1.7" fill="#bebebe"/>
<circle cx="570.6" cy="490.0" r="1.7" fill="#bebebe"/>
<circle cx="472.9" cy="490.8" r="1.7" fill="#bebebe"/>
<circle cx="473.6" cy="490.9" r="1.7" fill="#bebebe"/>
<circle cx="571.1" cy="490.9" r="1.7" fill="#bebebe"/>
<circle cx="562.4" cy="491.3" r="1.7" fill="#bebebe"/>
<circle cx="487.5" cy="491.3" r="1.7" fill="#bebebe"/>
<circle cx="559.0" cy="490.5" r="1.7" fill="#bebebe"/>
<circle cx="478.1" cy="492.0" r="1.7" fill="#bebebe"/>
<circle cx="469.4" cy="492.0" r="1.7" fill="#bebebe"/>
<circle cx="583.8" cy="491.6" r="1.7" fill="#bebebe"/>
<circle cx="560.4" cy="491.7" r="1.7" fill="#bebebe"/>
<circle cx="582.4" cy="491.9" r="1.7" fill="#bebebe"/>
<circle cx="486.6" cy="491.9" r="1.7" fill="#bebebe"/>
<circle cx="482.9" cy="492.7" r="1.7" fill="#bebebe"/>
<circle cx="472.8" cy="493.1" r="1.7" fill="#bebebe"/>
<circle cx="563.2" cy="493.5" r="1.7" fill="#bebebe"/>
<circle cx="569.6" cy="493.4" r="1.7" fill="#bebebe"/>
<circle cx="572.9" cy="493.1" r="1.7" fill="#bebebe"/>
<circle cx="485.4" cy="493.4" r="1.7" fill="#bebebe"/>
<circle cx="559.4" cy="493.2" r="1.7" fill="#bebebe"/>
<circle cx="484.2" cy="494.5" r="1.7" fill="#bebebe"/>
<circle cx="485.6" cy="494.1" r="1.7" fill="#bebebe"/>
<circle cx="565.7" cy="494.2" r="1.7" fill="#bebebe"/>
<circle cx="567.9" cy="494.3" r="1.7" fill="#bebebe"/>
<circle cx="575.7" cy="493.5" r="1.7" fill="#bebebe"/>
<circle cx="486.3" cy="493.8" r="1.7" fill="#bebebe"/>
<circle cx="485.5" cy="495.0" r="1.7" fill="#bebebe"/>
<circle cx="483.9" cy="494.7" r="1.7" fill="#bebebe"/>
<circle cx="480.7" cy="495.1" r="1.7" fill="#bebebe"/>
<circle cx="571.6" cy="495.0" r="1.7" fill="#bebebe"/>
<circle cx="568.0" cy="495.4" r="1.7" fill="#bebebe"/>
<circle cx="476.0" cy="495.7" r="1.7" fill="#bebebe"/>
<circle cx="475.4" cy="495.8" r="1.7" fill="#bebebe"/>
<circle cx="567.5" cy="495.5" r="1.7" fill="#bebebe"/>
<circle cx="568.3" cy="495.7" r="1.7" fill="#bebebe"/>
<circle cx="564.2" cy="495.9" r="1.7" fill="#bebebe"/>
<circle cx="474.9" cy="496.9" r="1.7" fill="#bebebe"/>
<circle cx="481.6" cy="496.9" r="1.7" fill="#bebebe"/>
<circle cx="562.8" cy="497.5" r="1.7" fill="#bebebe"/>
<circle cx="571.9" cy="497.2" r="1.7" fill="#bebebe"/>
<circle cx="572.2" cy="497.0" r="1.7" fill="#bebebe"/>
<circle cx="559.7" cy="497.0" r="1.7" fill="#bebebe"/>
<circle cx="486.8" cy="497.7" r="1.7" fill="#bebebe"/>
<circle cx="482.5" cy="498.5" r="1.7" fill="#bebebe"/>
<circle cx="560.9" cy="497.9" r="1.7" fill="#bebebe"/>
<circle cx="566.7" cy="497.6" r="1.7" fill="#bebebe"/>
<circle cx="485.2" cy="498.4" r="1.7" fill="#bebebe"/>
<circle cx="561.5" cy="497.6" r="1.7" fill="#bebebe"/>
<circle cx="485.8" cy="499.1" r="1.7" fill="#bebebe"/>
<circle cx="477.4" cy="499.5" r="1.7" fill="#bebebe"/>
<circle cx="581.4" cy="498.7" r="1.7" fill="#bebebe"/>
<circle cx="572.9" cy="498.7" r="1.7" fill="#bebebe"/>
<circle cx="561.5" cy="499.5" r="1.7" fill="#bebebe"/>
<circle cx="486.7" cy="498.8" r="1.7" fill="#bebebe"/>
<circle cx="561.7" cy="499.3" r="1.7" fill="#bebebe"/>
<circle cx="478.1" cy="500.3" r="1.7" fill="#bebebe"/>
<circle cx="486.2" cy="500.2" r="1.7" fill="#bebebe"/>
<circle cx="572.6" cy="500.0" r="1.7" fill="#bebebe"/>
<circle cx="564.9" cy="499.7" r="1.7" fill="#bebebe"/>
<circle cx="486.7" cy="499.8" r="1.7" fill="#bebebe"/>
<circle cx="485.2" cy="501.3" r="1.7" fill="#bebebe"/>
<circle cx="480.1" cy="500.6" r="1.7" fill="#bebebe"/>
<circle cx="561.2" cy="500.9" r="1.7" fill="#bebebe"/>
<circle cx="568.2" cy="501.0" r="1.7" fill="#bebebe"/>
<circle cx="485.4" cy="501.1" r="1.7" fill="#bebebe"/>
<circle cx="561.4" cy="500.9" r="1.7" fill="#bebebe"/>
<circle cx="477.5" cy="501.7" r="1.7" fill="#bebebe"/>
<circle cx="471.4" cy="501.6" r="1.7" fill="#bebebe"/>
<circle cx="568.8" cy="502.0" r="1.7" fill="#bebebe"/>
<circle cx="562.5" cy="502.0" r="1.7" fill="#bebebe"/>
<circle cx="486.1" cy="502.2" r="1.7" fill="#bebebe"/>
<circle cx="560.2" cy="502.4" r="1.7" fill="#bebebe"/>
<circle cx="475.9" cy="503.2" r="1.7" fill="#bebebe"/>
<circle cx="473.6" cy="502.5" r="1.7" fill="#bebebe"/>
<circle cx="579.6" cy="502.5" r="1.7" fill="#bebebe"/>
<circle cx="560.8" cy="503.4" r="1.7" fill="#bebebe"/>
<circle cx="575.3" cy="503.2" r="1.7" fill="#bebebe"/>
<circle cx="484.7" cy="503.5" r="1.7" fill="#bebebe"/>
<circle cx="476.2" cy="504.2" r="1.7" fill="#bebebe"/>
<circle cx="565.4" cy="503.6" r="1.7" fill="#bebebe"/>
<circle cx="568.1" cy="504.4" r="1.7" fill="#bebebe"/>
<circle cx="485.5" cy="504.1" r="1.7" fill="#bebebe"/>
<circle cx="473.1" cy="504.9" r="1.7" fill="#bebebe"/>
<circle cx="474.5" cy="504.5" r="1.7" fill="#bebebe"/>
<circle cx="572.4" cy="504.8" r="1.7" fill="#bebebe"/>
<circle cx="571.7" cy="504.6" r="1.7" fill="#bebebe"/>
<circle cx="565.7" cy="505.1" r="1.7" fill="#bebebe"/>
<circle cx="485.3" cy="504.9" r="1.7" fill="#bebebe"/>
<circle cx="561.3" cy="505.1" r="1.7" fill="#bebebe"/>
<circle cx="467.6" cy="505.7" r="1.7" fill="#bebebe"/>
<circle cx="477.7" cy="506.4" r="1.7" fill="#bebebe"/>
<circle cx="565.3" cy="506.0" r="1.7" fill="#bebebe"/>
<circle cx="580.3" cy="506.3" r="1.7" fill="#bebebe"/>
<circle cx="580.6" cy="506.2" r="1.7" fill="#bebebe"/>
<circle cx="485.4" cy="505.7" r="1.7" fill="#bebebe"/>
<circle cx="561.6" cy="505.5" r="1.7" fill="#bebebe"/>
<circle cx="484.4" cy="507.5" r="1.7" fill="#bebebe"/>
<circle cx="483.1" cy="507.4" r="1.7" fill="#bebebe"/>
<circle cx="469.3" cy="506.7" r="1.7" fill="#bebebe"/>
<circle cx="565.0" cy="507.1" r="1.7" fill="#bebebe"/>
<circle cx="575.6" cy="506.8" r="1.7" fill="#bebebe"/>
<circle cx="578.2" cy="506.6" r="1.7" fill="#bebebe"/>
<circle cx="486.8" cy="507.2" r="1.7" fill="#bebebe"/>
<circle cx="470.7" cy="508.5" r="1.7" fill="#bebebe"/>
<circle cx="477.6" cy="507.9" r="1.7" fill="#bebebe"/>
<circle cx="572.6" cy="508.4" r="1.7" fill="#bebebe"/>
<circle cx="578.4" cy="508.0" r="1.7" fill="#bebebe"/>
<circle cx="574.4" cy="508.3" r="1.7" fill="#bebebe"/>
<circle cx="469.1" cy="509.5" r="1.7" fill="#bebebe"/>
<circle cx="487.7" cy="509.5" r="1.7" fill="#bebebe"/>
<circle cx="561.0" cy="508.8" r="1.7" fill="#bebebe"/>
<circle cx="563.4" cy="508.5" r="1.7" fill="#bebebe"/>
<circle cx="578.9" cy="508.9" r="1.7" fill="#bebebe"/>
<circle cx="486.5" cy="508.7" r="1.7" fill="#bebebe"/>
<circle cx="561.4" cy="508.8" r="1.7" fill="#bebebe"/>
<circle cx="485.1" cy="510.3" r="1.7" fill="#bebebe"/>
<circle cx="480.8" cy="509.9" r="1.7" fill="#bebebe"/>
<circle cx="582.9" cy="509.7" r="1.7" fill="#bebebe"/>
<circle cx="569.1" cy="509.8" r="1.7" fill="#bebebe"/>
<circle cx="563.2" cy="509.5" r="1.7" fill="#bebebe"/>
<circle cx="481.4" cy="511.3" r="1.7" fill="#bebebe"/>
<circle cx="487.4" cy="510.8" r="1.7" fill="#bebebe"/>
<circle cx="565.7" cy="510.7" r="1.7" fill="#bebebe"/>
<circle cx="571.7" cy="510.8" r="1.7" fill="#bebebe"/>
<circle cx="488.6" cy="511.5" r="1.7" fill="#bebebe"/>
<circle cx="486.8" cy="512.0" r="1.7" fill="#bebebe"/>
<circle cx="479.9" cy="512.4" r="1.7" fill="#bebebe"/>
<circle cx="563.4" cy="512.3" r="1.7" fill="#bebebe"/>
<circle cx="563.7" cy="511.7" r="1.7" fill="#bebebe"/>
<circle cx="565.1" cy="512.4" r="1.7" fill="#bebebe"/>
<circle cx="562.0" cy="512.2" r="1.7" fill="#bebebe"/>
<circle cx="474.5" cy="512.8" r="1.7" fill="#bebebe"/>
<circle cx="476.2" cy="512.7" r="1.7" fill="#bebebe"/>
<circle cx="563.9" cy="512.7" r="1.7" fill="#bebebe"/>
<circle cx="585.0" cy="512.7" r="1.7" fill="#bebebe"/>
<circle cx="574.7" cy="512.5" r="1.7" fill="#bebebe"/>
<circle cx="468.7" cy="513.5" r="1.7" fill="#bebebe"/>
<circle cx="475.8" cy="513.6" r="1.7" fill="#bebebe"/>
<circle cx="561.2" cy="513.8" r="1.7" fill="#bebebe"/>
<circle cx="572.2" cy="514.0" r="1.7" fill="#bebebe"/>
<circle cx="562.5" cy="513.5" r="1.7" fill="#bebebe"/>
<circle cx="475.5" cy="514.5" r="1.7" fill="#bebebe"/>
<circle cx="488.4" cy="514.6" r="1.7" fill="#bebebe"/>
<circle cx="564.1" cy="514.7" r="1.7" fill="#bebebe"/>
<circle cx="571.5" cy="515.0" r="1.7" fill="#bebebe"/>
<circle cx="565.7" cy="515.5" r="1.7" fill="#bebebe"/>
<circle cx="562.4" cy="515.1" r="1.7" fill="#bebebe"/>
<circle cx="474.6" cy="515.9" r="1.7" fill="#bebebe"/>
<circle cx="473.4" cy="516.1" r="1.7" fill="#bebebe"/>
<circle cx="567.4" cy="516.2" r="1.7" fill="#bebebe"/>
<circle cx="575.9" cy="516.2" r="1.7" fill="#bebebe"/>
<circle cx="577.9" cy="516.2" r="1.7" fill="#bebebe"/>
<circle cx="562.6" cy="516.4" r="1.7" fill="#bebebe"/>
<circle cx="487.0" cy="517.1" r="1.7" fill="#bebebe"/>
<circle cx="474.9" cy="517.3" r="1.7" fill="#bebebe"/>
<circle cx="561.2" cy="517.0" r="1.7" fill="#bebebe"/>
<circle cx="561.9" cy="517.0" r="1.7" fill="#bebebe"/>
<circle cx="562.6" cy="516.6" r="1.7" fill="#bebebe"/>
<circle cx="482.8" cy="517.8" r="1.7" fill="#bebebe"/>
<circle cx="484.3" cy="518.3" r="1.7" fill="#bebebe"/>
<circle cx="475.0" cy="517.5" r="1.7" fill="#bebebe"/>
<circle cx="580.5" cy="517.6" r="1.7" fill="#bebebe"/>
<circle cx="577.6" cy="518.1" r="1.7" fill="#bebebe"/>
<circle cx="571.1" cy="518.1" r="1.7" fill="#bebebe"/>
<circle cx="489.7" cy="518.5" r="1.7" fill="#bebebe"/>
<circle cx="560.0" cy="517.9" r="1.7" fill="#bebebe"/>
<circle cx="483.5" cy="519.4" r="1.7" fill="#bebebe"/>
<circle cx="487.3" cy="519.4" r="1.7" fill="#bebebe"/>
<circle cx="565.9" cy="519.2" r="1.7" fill="#bebebe"/>
<circle cx="572.4" cy="519.4" r="1.7" fill="#bebebe"/>
<circle cx="571.0" cy="518.8" r="1.7" fill="#bebebe"/>
<circle cx="558.9" cy="518.8" r="1.7" fill="#bebebe"/>
<circle cx="492.6" cy="520.4" r="1.7" fill="#bebebe"/>
<circle cx="481.7" cy="520.2" r="1.7" fill="#bebebe"/>
<circle cx="562.1" cy="520.0" r="1.7" fill="#bebebe"/>
<circle cx="582.3" cy="520.3" r="1.7" fill="#bebebe"/>
<circle cx="492.2" cy="519.9" r="1.7" fill="#bebebe"/>
<circle cx="559.2" cy="519.7" r="1.7" fill="#bebebe"/>
<circle cx="493.2" cy="520.6" r="1.7" fill="#bebebe"/>
<circle cx="484.4" cy="521.3" r="1.7" fill="#bebebe"/>
<circle cx="560.5" cy="521.0" r="1.7" fill="#bebebe"/>
<circle cx="579.9" cy="521.4" r="1.7" fill="#bebebe"/>
<circle cx="491.8" cy="521.5" r="1.7" fill="#bebebe"/>
<circle cx="559.7" cy="520.7" r="1.7" fill="#bebebe"/>
<circle cx="489.0" cy="522.5" r="1.7" fill="#bebebe"/>
<circle cx="483.4" cy="521.7" r="1.7" fill="#bebebe"/>
<circle cx="562.2" cy="522.3" r="1.7" fill="#bebebe"/>
<circle cx="566.6" cy="522.2" r="1.7" fill="#bebebe"/>
<circle cx="493.9" cy="522.1" r="1.7" fill="#bebebe"/>
<circle cx="482.9" cy="523.0" r="1.7" fill="#bebebe"/>
<circle cx="495.4" cy="523.1" r="1.7" fill="#bebebe"/>
<circle cx="562.7" cy="522.9" r="1.7" fill="#bebebe"/>
<circle cx="566.5" cy="522.8" r="1.7" fill="#bebebe"/>
<circle cx="495.8" cy="522.6" r="1.7" fill="#bebebe"/>
<circle cx="556.5" cy="523.0" r="1.7" fill="#bebebe"/>
<circle cx="490.5" cy="524.3" r="1.7" fill="#bebebe"/>
<circle cx="484.4" cy="523.9" r="1.7" fill="#bebebe"/>
<circle cx="558.8" cy="523.7" r="1.7" fill="#bebebe"/>
<circle cx="562.1" cy="523.8" r="1.7" fill="#bebebe"/>
<circle cx="497.2" cy="524.1" r="1.7" fill="#bebebe"/>
<circle cx="555.5" cy="524.5" r="1.7" fill="#bebebe"/>
<circle cx="490.0" cy="524.8" r="1.7" fill="#bebebe"/>
<circle cx="490.1" cy="525.4" r="1.7" fill="#bebebe"/>
<circle cx="567.5" cy="524.8" r="1.7" fill="#bebebe"/>
<circle cx="567.5" cy="524.6" r="1.7" fill="#bebebe"/>
<circle cx="497.8" cy="526.4" r="1.7" fill="#bebebe"/>
<circle cx="551.8" cy="526.4" r="1.7" fill="#bebebe"/>
<circle cx="552.8" cy="526.1" r="1.7" fill="#bebebe"/>
<circle cx="490.7" cy="527.2" r="1.7" fill="#bebebe"/>
<circle cx="504.8" cy="527.1" r="1.7" fill="#bebebe"/>
<circle cx="561.2" cy="526.9" r="1.7" fill="#bebebe"/>
<circle cx="504.2" cy="527.3" r="1.7" fill="#bebebe"/>
<circle cx="548.5" cy="526.9" r="1.7" fill="#bebebe"/>
<circle cx="500.6" cy="528.1" r="1.7" fill="#bebebe"/>
<circle cx="505.4" cy="528.1" r="1.7" fill="#bebebe"/>
<circle cx="551.8" cy="527.7" r="1.7" fill="#bebebe"/>
<circle cx="507.3" cy="527.7" r="1.7" fill="#bebebe"/>
<circle cx="511.6" cy="529.0" r="1.7" fill="#bebebe"/>
<circle cx="549.8" cy="528.7" r="1.7" fill="#bebebe"/>
<circle cx="544.2" cy="528.9" r="1.7" fill="#bebebe"/>
<circle cx="544.2" cy="528.9" r="1.7" fill="#bebebe"/>
<circle cx="509.7" cy="530.0" r="1.7" fill="#bebebe"/>
<circle cx="540.6" cy="529.8" r="1.7" fill="#bebebe"/>
<circle cx="554.3" cy="530.1" r="1.7" fill="#bebebe"/>
<circle cx="514.1" cy="530.0" r="1.7" fill="#bebebe"/>
<circle cx="541.1" cy="530.4" r="1.7" fill="#bebebe"/>
<circle cx="522.7" cy="379.6" r="1.7" fill="#bebebe"/>
<circle cx="517.2" cy="381.5" r="1.7" fill="#bebebe"/>
<circle cx="518.9" cy="382.9" r="1.7" fill="#bebebe"/>
<circle cx="518.1" cy="384.1" r="1.7" fill="#bebebe"/>
<circle cx="515.6" cy="387.8" r="1.7" fill="#bebebe"/>
<circle cx="513.5" cy="389.1" r="1.7" fill="#bebebe"/>
<circle cx="514.3" cy="391.2" r="1.7" fill="#bebebe"/>
<circle cx="511.3" cy="395.0" r="1.7" fill="#bebebe"/>
<circle cx="510.3" cy="398.5" r="1.7" fill="#bebebe"/>
<circle cx="507.1" cy="406.1" r="1.7" fill="#bebebe"/>
<circle cx="507.8" cy="408.7" r="1.7" fill="#bebebe"/>
<circle cx="505.4" cy="409.6" r="1.7" fill="#bebebe"/>
<circle cx="507.1" cy="412.0" r="1.7" fill="#bebebe"/>
<circle cx="506.9" cy="413.9" r="1.7" fill="#bebebe"/>
<circle cx="507.5" cy="415.7" r="1.7" fill="#bebebe"/>
<circle cx="505.8" cy="417.9" r="1.7" fill="#bebebe"/>
<circle cx="504.3" cy="423.6" r="1.7" fill="#bebebe"/>
<circle cx="506.2" cy="424.7" r="1.7" fill="#bebebe"/>
<circle cx="506.0" cy="425.5" r="1.7" fill="#bebebe"/>
<circle cx="503.6" cy="426.5" r="1.7" fill="#bebebe"/>
<circle cx="503.1" cy="428.9" r="1.7" fill="#bebebe"/>
<circle cx="501.5" cy="430.6" r="1.7" fill="#bebebe"/>
<circle cx="502.7" cy="432.3" r="1.7" fill="#bebebe"/>
<circle cx="495.7" cy="433.0" r="1.7" fill="#bebebe"/>
<circle cx="500.1" cy="436.7" r="1.7" fill="#bebebe"/>
<circle cx="500.4" cy="439.3" r="1.7" fill="#bebebe"/>
<circle cx="497.1" cy="441.9" r="1.7" fill="#bebebe"/>
<circle cx="498.5" cy="442.8" r="1.7" fill="#bebebe"/>
<circle cx="531.5" cy="380.6" r="1.7" fill="#bebebe"/>
<circle cx="536.5" cy="382.0" r="1.7" fill="#bebebe"/>
<circle cx="531.1" cy="383.6" r="1.7" fill="#bebebe"/>
<circle cx="534.8" cy="383.8" r="1.7" fill="#bebebe"/>
<circle cx="536.4" cy="386.5" r="1.7" fill="#bebebe"/>
<circle cx="543.1" cy="392.0" r="1.7" fill="#bebebe"/>
<circle cx="544.2" cy="401.0" r="1.7" fill="#bebebe"/>
<circle cx="542.6" cy="403.8" r="1.7" fill="#bebebe"/>
<circle cx="544.9" cy="406.7" r="1.7" fill="#bebebe"/>
<circle cx="547.5" cy="409.8" r="1.7" fill="#bebebe"/>
<circle cx="545.1" cy="413.6" r="1.7" fill="#bebebe"/>
<circle cx="545.6" cy="417.6" r="1.7" fill="#bebebe"/>
<circle cx="550.3" cy="420.7" r="1.7" fill="#bebebe"/>
<circle cx="551.7" cy="422.3" r="1.7" fill="#bebebe"/>
<circle cx="549.6" cy="425.0" r="1.7" fill="#bebebe"/>
<circle cx="547.6" cy="426.1" r="1.7" fill="#bebebe"/>
<circle cx="549.1" cy="427.2" r="1.7" fill="#bebebe"/>
<circle cx="549.7" cy="429.6" r="1.7" fill="#bebebe"/>
<circle cx="549.7" cy="431.9" r="1.7" fill="#bebebe"/>
<circle cx="549.8" cy="435.0" r="1.7" fill="#bebebe"/>
<circle cx="452.0" cy="419.4" r="1.7" fill="#bebebe"/>
<circle cx="461.7" cy="420.6" r="1.7" fill="#bebebe"/>
<circle cx="469.0" cy="427.2" r="1.7" fill="#bebebe"/>
<circle cx="467.8" cy="429.1" r="1.7" fill="#bebebe"/>
<circle cx="464.9" cy="443.7" r="1.7" fill="#bebebe"/>
<circle cx="459.3" cy="451.5" r="1.7" fill="#bebebe"/>
<circle cx="448.9" cy="453.9" r="1.7" fill="#bebebe"/>
<circle cx="403.5" cy="457.0" r="1.7" fill="#bebebe"/>
<circle cx="475.1" cy="453.9" r="1.7" fill="#bebebe"/>
<circle cx="476.3" cy="458.3" r="1.7" fill="#bebebe"/>
<circle cx="450.8" cy="468.4" r="1.7" fill="#bebebe"/>
<circle cx="450.8" cy="470.4" r="1.7" fill="#bebebe"/>
<circle cx="459.3" cy="469.9" r="1.7" fill="#bebebe"/>
<circle cx="463.0" cy="473.5" r="1.7" fill="#bebebe"/>
<circle cx="465.4" cy="468.7" r="1.7" fill="#bebebe"/>
<circle cx="467.8" cy="471.1" r="1.7" fill="#bebebe"/>
<circle cx="475.1" cy="467.5" r="1.7" fill="#bebebe"/>
<circle cx="471.4" cy="477.2" r="1.7" fill="#bebebe"/>
<circle cx="408.6" cy="475.7" r="1.7" fill="#bebebe"/>
<circle cx="430.9" cy="473.5" r="1.7" fill="#bebebe"/>
<circle cx="438.2" cy="476.0" r="1.7" fill="#bebebe"/>
<circle cx="435.0" cy="478.9" r="1.7" fill="#bebebe"/>
<circle cx="433.3" cy="482.5" r="1.7" fill="#bebebe"/>
<circle cx="435.0" cy="483.3" r="1.7" fill="#bebebe"/>
<circle cx="436.3" cy="488.6" r="1.7" fill="#bebebe"/>
<circle cx="437.5" cy="489.3" r="1.7" fill="#bebebe"/>
<circle cx="440.4" cy="492.7" r="1.7" fill="#bebebe"/>
<circle cx="423.4" cy="487.4" r="1.7" fill="#bebebe"/>
<circle cx="391.3" cy="488.1" r="1.7" fill="#bebebe"/>
<circle cx="450.3" cy="481.3" r="1.7" fill="#bebebe"/>
<circle cx="454.0" cy="483.7" r="1.7" fill="#bebebe"/>
<circle cx="460.0" cy="480.8" r="1.7" fill="#bebebe"/>
<circle cx="467.3" cy="486.2" r="1.7" fill="#bebebe"/>
<circle cx="472.2" cy="483.7" r="1.7" fill="#bebebe"/>
<circle cx="469.0" cy="493.4" r="1.7" fill="#bebebe"/>
<circle cx="461.7" cy="503.2" r="1.7" fill="#bebebe"/>
<circle cx="463.4" cy="506.3" r="1.7" fill="#bebebe"/>
<circle cx="455.7" cy="506.3" r="1.7" fill="#bebebe"/>
<circle cx="454.9" cy="511.7" r="1.7" fill="#bebebe"/>
<circle cx="460.5" cy="512.9" r="1.7" fill="#bebebe"/>
<circle cx="462.5" cy="515.3" r="1.7" fill="#bebebe"/>
<circle cx="465.4" cy="518.2" r="1.7" fill="#bebebe"/>
<circle cx="463.4" cy="520.1" r="1.7" fill="#bebebe"/>
<circle cx="460.5" cy="522.1" r="1.7" fill="#bebebe"/>
<circle cx="472.2" cy="523.8" r="1.7" fill="#bebebe"/>
<circle cx="467.8" cy="499.5" r="1.7" fill="#bebebe"/>
<circle cx="470.2" cy="501.9" r="1.7" fill="#bebebe"/>
<circle cx="512.9" cy="385.6" r="1.7" fill="#bebebe"/>
<circle cx="494.0" cy="391.7" r="1.7" fill="#bebebe"/>
<circle cx="508.5" cy="393.5" r="1.7" fill="#bebebe"/>
<circle cx="512.0" cy="394.9" r="1.7" fill="#bebebe"/>
<circle cx="516.4" cy="392.3" r="1.7" fill="#bebebe"/>
<circle cx="519.9" cy="388.8" r="1.7" fill="#bebebe"/>
<circle cx="522.6" cy="390.5" r="1.7" fill="#bebebe"/>
<circle cx="517.3" cy="396.6" r="1.7" fill="#bebebe"/>
<circle cx="519.9" cy="399.3" r="1.7" fill="#bebebe"/>
<circle cx="522.6" cy="397.5" r="1.7" fill="#bebebe"/>
<circle cx="530.4" cy="390.5" r="1.7" fill="#bebebe"/>
<circle cx="532.2" cy="392.3" r="1.7" fill="#bebebe"/>
<circle cx="538.3" cy="386.1" r="1.7" fill="#bebebe"/>
<circle cx="546.2" cy="387.0" r="1.7" fill="#bebebe"/>
<circle cx="548.5" cy="387.9" r="1.7" fill="#bebebe"/>
<circle cx="535.7" cy="397.5" r="1.7" fill="#bebebe"/>
<circle cx="538.3" cy="400.1" r="1.7" fill="#bebebe"/>
<circle cx="547.1" cy="398.4" r="1.7" fill="#bebebe"/>
<circle cx="546.6" cy="401.9" r="1.7" fill="#bebebe"/>
<circle cx="545.3" cy="405.4" r="1.7" fill="#bebebe"/>
<circle cx="531.7" cy="399.3" r="1.7" fill="#bebebe"/>
<circle cx="499.4" cy="402.8" r="1.7" fill="#bebebe"/>
<circle cx="510.3" cy="402.4" r="1.7" fill="#bebebe"/>
<circle cx="502.8" cy="408.4" r="1.7" fill="#bebebe"/>
<circle cx="498.0" cy="421.2" r="1.7" fill="#bebebe"/>
<circle cx="503.3" cy="413.3" r="1.7" fill="#bebebe"/>
<circle cx="506.8" cy="415.0" r="1.7" fill="#bebebe"/>
<circle cx="508.5" cy="412.4" r="1.7" fill="#bebebe"/>
<circle cx="544.5" cy="412.4" r="1.7" fill="#bebebe"/>
<circle cx="548.0" cy="422.0" r="1.7" fill="#bebebe"/>
<circle cx="561.5" cy="419.4" r="1.7" fill="#bebebe"/>
<circle cx="579.5" cy="420.0" r="1.7" fill="#bebebe"/>
<circle cx="583.9" cy="430.8" r="1.7" fill="#bebebe"/>
<circle cx="588.8" cy="441.7" r="1.7" fill="#bebebe"/>
<circle cx="549.7" cy="430.8" r="1.7" fill="#bebebe"/>
<circle cx="552.3" cy="437.8" r="1.7" fill="#bebebe"/>
<circle cx="557.6" cy="442.7" r="1.7" fill="#bebebe"/>
<circle cx="485.8" cy="445.7" r="1.7" fill="#bebebe"/>
<circle cx="498.0" cy="442.2" r="1.7" fill="#bebebe"/>
<circle cx="470.9" cy="427.0" r="1.7" fill="#bebebe"/>
<circle cx="579.5" cy="451.0" r="1.7" fill="#bebebe"/>
<circle cx="580.0" cy="456.2" r="1.7" fill="#bebebe"/>
<circle cx="583.9" cy="458.0" r="1.7" fill="#bebebe"/>
<circle cx="561.1" cy="451.8" r="1.7" fill="#bebebe"/>
<circle cx="475.3" cy="453.6" r="1.7" fill="#bebebe"/>
<circle cx="477.9" cy="457.1" r="1.7" fill="#bebebe"/>
<circle cx="561.4" cy="419.6" r="1.7" fill="#bebebe"/>
<circle cx="579.4" cy="419.6" r="1.7" fill="#bebebe"/>
<circle cx="584.1" cy="430.4" r="1.7" fill="#bebebe"/>
<circle cx="592.7" cy="431.3" r="1.7" fill="#bebebe"/>
<circle cx="589.1" cy="441.5" r="1.7" fill="#bebebe"/>
<circle cx="664.2" cy="449.3" r="1.7" fill="#bebebe"/>
<circle cx="607.7" cy="454.3" r="1.7" fill="#bebebe"/>
<circle cx="579.4" cy="451.2" r="1.7" fill="#bebebe"/>
<circle cx="580.0" cy="455.7" r="1.7" fill="#bebebe"/>
<circle cx="582.7" cy="458.4" r="1.7" fill="#bebebe"/>
<circle cx="586.3" cy="458.2" r="1.7" fill="#bebebe"/>
<circle cx="592.2" cy="454.0" r="1.7" fill="#bebebe"/>
<circle cx="590.5" cy="463.7" r="1.7" fill="#bebebe"/>
<circle cx="573.3" cy="467.3" r="1.7" fill="#bebebe"/>
<circle cx="580.0" cy="464.8" r="1.7" fill="#bebebe"/>
<circle cx="561.4" cy="452.6" r="1.7" fill="#bebebe"/>
<circle cx="562.2" cy="457.6" r="1.7" fill="#bebebe"/>
<circle cx="563.9" cy="463.1" r="1.7" fill="#bebebe"/>
<circle cx="566.9" cy="471.5" r="1.7" fill="#bebebe"/>
<circle cx="586.3" cy="472.3" r="1.7" fill="#bebebe"/>
<circle cx="584.4" cy="473.4" r="1.7" fill="#bebebe"/>
<circle cx="607.1" cy="472.0" r="1.7" fill="#bebebe"/>
<circle cx="620.4" cy="475.1" r="1.7" fill="#bebebe"/>
<circle cx="625.1" cy="477.0" r="1.7" fill="#bebebe"/>
<circle cx="626.0" cy="479.2" r="1.7" fill="#bebebe"/>
<circle cx="609.3" cy="482.5" r="1.7" fill="#bebebe"/>
<circle cx="598.8" cy="478.9" r="1.7" fill="#bebebe"/>
<circle cx="597.4" cy="480.6" r="1.7" fill="#bebebe"/>
<circle cx="588.5" cy="477.0" r="1.7" fill="#bebebe"/>
<circle cx="585.5" cy="477.8" r="1.7" fill="#bebebe"/>
<circle cx="592.7" cy="486.2" r="1.7" fill="#bebebe"/>
<circle cx="605.7" cy="495.0" r="1.7" fill="#bebebe"/>
<circle cx="629.8" cy="497.8" r="1.7" fill="#bebebe"/>
<circle cx="630.7" cy="500.0" r="1.7" fill="#bebebe"/>
<circle cx="647.3" cy="503.3" r="1.7" fill="#bebebe"/>
<circle cx="604.3" cy="502.2" r="1.7" fill="#bebebe"/>
<circle cx="612.1" cy="505.3" r="1.7" fill="#bebebe"/>
<circle cx="586.3" cy="499.7" r="1.7" fill="#bebebe"/>
<circle cx="583.6" cy="493.6" r="1.7" fill="#bebebe"/>
<circle cx="580.8" cy="489.5" r="1.7" fill="#bebebe"/>
<circle cx="591.9" cy="510.3" r="1.7" fill="#bebebe"/>
<circle cx="592.7" cy="513.0" r="1.7" fill="#bebebe"/>
<circle cx="589.1" cy="515.8" r="1.7" fill="#bebebe"/>
<circle cx="583.6" cy="515.8" r="1.7" fill="#bebebe"/>
<circle cx="580.8" cy="521.4" r="1.7" fill="#bebebe"/>
<circle cx="572.5" cy="477.0" r="1.7" fill="#bebebe"/>
<circle cx="575.2" cy="479.8" r="1.7" fill="#bebebe"/>
<circle cx="571.1" cy="485.3" r="1.7" fill="#bebebe"/>
<circle cx="576.6" cy="486.7" r="1.7" fill="#bebebe"/>
<circle cx="578.0" cy="492.2" r="1.7" fill="#bebebe"/>
<circle cx="579.4" cy="499.2" r="1.7" fill="#bebebe"/>
<circle cx="576.6" cy="503.3" r="1.7" fill="#bebebe"/>
<circle cx="581.6" cy="507.5" r="1.7" fill="#bebebe"/>
<circle cx="586.3" cy="507.5" r="1.7" fill="#bebebe"/>
<circle cx="498.6" cy="378.9" r="1.7" fill="#bebebe"/>
<circle cx="510.0" cy="377.3" r="1.7" fill="#bebebe"/>
<circle cx="512.7" cy="385.5" r="1.7" fill="#bebebe"/>
<circle cx="494.1" cy="391.8" r="1.7" fill="#bebebe"/>
<circle cx="508.2" cy="393.8" r="1.7" fill="#bebebe"/>
<circle cx="512.3" cy="395.3" r="1.7" fill="#bebebe"/>
<circle cx="499.3" cy="402.8" r="1.7" fill="#bebebe"/>
<circle cx="510.7" cy="402.5" r="1.7" fill="#bebebe"/>
<circle cx="502.8" cy="408.3" r="1.7" fill="#bebebe"/>
<circle cx="502.4" cy="413.5" r="1.7" fill="#bebebe"/>
<circle cx="505.5" cy="414.6" r="1.7" fill="#bebebe"/>
<circle cx="508.2" cy="413.1" r="1.7" fill="#bebebe"/>
<circle cx="497.8" cy="420.8" r="1.7" fill="#bebebe"/>
<circle cx="452.0" cy="419.3" r="1.7" fill="#bebebe"/>
<circle cx="461.5" cy="420.4" r="1.7" fill="#bebebe"/>
<circle cx="469.2" cy="426.6" r="1.7" fill="#bebebe"/>
<circle cx="468.2" cy="429.1" r="1.7" fill="#bebebe"/>
<circle cx="465.1" cy="443.6" r="1.7" fill="#bebebe"/>
<circle cx="459.5" cy="451.3" r="1.7" fill="#bebebe"/>
<circle cx="449.1" cy="454.0" r="1.7" fill="#bebebe"/>
<circle cx="403.5" cy="457.1" r="1.7" fill="#bebebe"/>
<circle cx="485.4" cy="445.7" r="1.7" fill="#bebebe"/>
<circle cx="474.8" cy="454.0" r="1.7" fill="#bebebe"/>
<circle cx="478.5" cy="458.1" r="1.7" fill="#bebebe"/>
<circle cx="494.1" cy="444.6" r="1.7" fill="#bebebe"/>
<circle cx="498.2" cy="442.1" r="1.7" fill="#bebebe"/>
<circle cx="513.1" cy="385.9" r="1.7" fill="#bebebe"/>
<circle cx="499.3" cy="403.2" r="1.7" fill="#bebebe"/>
<circle cx="502.7" cy="408.4" r="1.7" fill="#bebebe"/>
<circle cx="510.0" cy="402.3" r="1.7" fill="#bebebe"/>
<circle cx="502.7" cy="413.6" r="1.7" fill="#bebebe"/>
<circle cx="505.2" cy="415.1" r="1.7" fill="#bebebe"/>
<circle cx="497.5" cy="420.9" r="1.7" fill="#bebebe"/>
<circle cx="547.1" cy="386.5" r="1.7" fill="#bebebe"/>
<circle cx="548.9" cy="388.1" r="1.7" fill="#bebebe"/>
<circle cx="547.7" cy="398.7" r="1.7" fill="#bebebe"/>
<circle cx="546.5" cy="401.7" r="1.7" fill="#bebebe"/>
<circle cx="543.4" cy="406.0" r="1.7" fill="#bebebe"/>
<circle cx="545.2" cy="404.7" r="1.7" fill="#bebebe"/>
<circle cx="561.6" cy="419.7" r="1.7" fill="#bebebe"/>
<circle cx="548.3" cy="421.7" r="1.7" fill="#bebebe"/>
<circle cx="549.5" cy="430.8" r="1.7" fill="#bebebe"/>
<circle cx="553.1" cy="438.7" r="1.7" fill="#bebebe"/>
<circle cx="556.8" cy="443.0" r="1.7" fill="#bebebe"/>
<circle cx="538.0" cy="385.3" r="1.7" fill="#bebebe"/>
<circle cx="538.6" cy="386.5" r="1.7" fill="#bebebe"/>
<circle cx="535.8" cy="397.5" r="1.7" fill="#bebebe"/>
<circle cx="538.3" cy="399.9" r="1.7" fill="#bebebe"/>
<circle cx="516.7" cy="387.1" r="1.7" fill="#bebebe"/>
<circle cx="520.0" cy="390.0" r="1.7" fill="#bebebe"/>
<circle cx="523.0" cy="393.0" r="1.7" fill="#bebebe"/>
<circle cx="525.0" cy="397.0" r="1.7" fill="#bebebe"/>
<circle cx="531.0" cy="388.0" r="1.7" fill="#bebebe"/>
<circle cx="534.0" cy="392.0" r="1.7" fill="#bebebe"/>
<line x1="527.40" y1="294.40" x2="527.40" y2="450.00" stroke="#c9c9c9" stroke-width="1.0"/>
<line x1="377.70" y1="294.40" x2="377.70" y2="541.30" stroke="#333333" stroke-width="1.1"/>
<line x1="377.70" y1="541.30" x2="678.00" y2="541.30" stroke="#333333" stroke-width="1.1"/>
<line x1="375.50" y1="530.40" x2="377.70" y2="530.40" stroke="#333333" stroke-width="1.0"/>
<text x="373.70" y="532.80" font-size="6.7" text-anchor="end" fill="#4d4d4d" font-weight="normal" stroke="#4d4d4d" stroke-width="0.22">0.0</text>
<line x1="375.50" y1="470.20" x2="377.70" y2="470.20" stroke="#333333" stroke-width="1.0"/>
<text x="373.70" y="472.60" font-size="6.7" text-anchor="end" fill="#4d4d4d" font-weight="normal" stroke="#4d4d4d" stroke-width="0.22">2.5</text>
<line x1="375.50" y1="410.00" x2="377.70" y2="410.00" stroke="#333333" stroke-width="1.0"/>
<text x="373.70" y="412.40" font-size="6.7" text-anchor="end" fill="#4d4d4d" font-weight="normal" stroke="#4d4d4d" stroke-width="0.22">5.0</text>
<line x1="375.50" y1="349.70" x2="377.70" y2="349.70" stroke="#333333" stroke-width="1.0"/>
<text x="373.70" y="352.10" font-size="6.7" text-anchor="end" fill="#4d4d4d" font-weight="normal" stroke="#4d4d4d" stroke-width="0.22">7.5</text>
<line x1="389.80" y1="541.30" x2="389.80" y2="543.50" stroke="#333333" stroke-width="1.0"/>
<text x="389.80" y="550.40" font-size="6.7" text-anchor="middle" fill="#4d4d4d" font-weight="normal" stroke="#4d4d4d" stroke-width="0.22">-0.050</text>
<line x1="458.70" y1="541.30" x2="458.70" y2="543.50" stroke="#333333" stroke-width="1.0"/>
<text x="458.70" y="550.40" font-size="6.7" text-anchor="middle" fill="#4d4d4d" font-weight="normal" stroke="#4d4d4d" stroke-width="0.22">-0.025</text>
<line x1="527.55" y1="541.30" x2="527.55" y2="543.50" stroke="#333333" stroke-width="1.0"/>
<text x="527.55" y="550.40" font-size="6.7" text-anchor="middle" fill="#4d4d4d" font-weight="normal" stroke="#4d4d4d" stroke-width="0.22">0.000</text>
<line x1="596.40" y1="541.30" x2="596.40" y2="543.50" stroke="#333333" stroke-width="1.0"/>
<text x="596.40" y="550.40" font-size="6.7" text-anchor="middle" fill="#4d4d4d" font-weight="normal" stroke="#4d4d4d" stroke-width="0.22">0.025</text>
<line x1="665.30" y1="541.30" x2="665.30" y2="543.50" stroke="#333333" stroke-width="1.0"/>
<text x="665.30" y="550.40" font-size="6.7" text-anchor="middle" fill="#4d4d4d" font-weight="normal" stroke="#4d4d4d" stroke-width="0.22">0.050</text>
<text x="528.20" y="559.70" font-size="8.4" text-anchor="middle" fill="#000" font-weight="normal" stroke="#000" stroke-width="0.22">Difference in DNA methylation</text>
<text x="361.00" y="418.00" font-size="8.4" text-anchor="middle" fill="#000" font-weight="normal" stroke="#000" stroke-width="0.22" transform="rotate(-90 361.0 418.0)">-log10(P-value)</text>
<circle cx="513.7" cy="13.1" r="1.85" fill="#440154"/>
<circle cx="511.1" cy="69.6" r="1.85" fill="#440154"/>
<circle cx="517.2" cy="75.7" r="1.85" fill="#440154"/>
<circle cx="505.1" cy="82.2" r="1.85" fill="#440154"/>
<circle cx="494.1" cy="62.8" r="1.85" fill="#3a9a88"/>
<circle cx="472.3" cy="74.9" r="1.85" fill="#3a9a88"/>
<circle cx="493.3" cy="77.0" r="1.85" fill="#3a9a88"/>
<circle cx="495.1" cy="78.0" r="1.85" fill="#3a9a88"/>
<circle cx="544.2" cy="305.1" r="1.85" fill="#440154"/>
<circle cx="537.8" cy="341.4" r="1.85" fill="#440154"/>
<circle cx="533.3" cy="352.3" r="1.85" fill="#440154"/>
<circle cx="531.1" cy="358.4" r="1.85" fill="#440154"/>
<circle cx="541.7" cy="364.5" r="1.85" fill="#440154"/>
<circle cx="535.2" cy="364.5" r="1.85" fill="#440154"/>
<circle cx="493.5" cy="351.3" r="1.85" fill="#3a9a88"/>
<circle cx="504.7" cy="363.5" r="1.85" fill="#3a9a88"/>
<circle cx="513.4" cy="364.5" r="1.85" fill="#3a9a88"/>
<circle cx="517.6" cy="363.2" r="1.85" fill="#3a9a88"/>
<line x1="457.30" y1="70.60" x2="472.30" y2="74.90" stroke="#3a9a88" stroke-width="0.7"/>
<line x1="487.50" y1="80.50" x2="492.50" y2="78.00" stroke="#3a9a88" stroke-width="0.7"/>
<line x1="521.80" y1="350.00" x2="530.40" y2="358.10" stroke="#440154" stroke-width="0.7"/>
<line x1="542.60" y1="347.50" x2="534.50" y2="352.00" stroke="#440154" stroke-width="0.7"/>
<line x1="536.50" y1="378.00" x2="535.20" y2="365.00" stroke="#440154" stroke-width="0.7"/>
<line x1="485.50" y1="347.80" x2="493.00" y2="351.00" stroke="#3a9a88" stroke-width="0.7"/>
<line x1="471.50" y1="358.30" x2="504.70" y2="363.50" stroke="#3a9a88" stroke-width="0.7"/>
<text x="517.40" y="11.30" font-size="8.6" text-anchor="start" fill="#440154" font-weight="normal" stroke="#440154" stroke-width="0.22">cg11336061</text>
<text x="515.60" y="70.30" font-size="8.6" text-anchor="start" fill="#440154" font-weight="normal" stroke="#440154" stroke-width="0.22">cg10770652</text>
<text x="521.40" y="81.30" font-size="8.6" text-anchor="start" fill="#440154" font-weight="normal" stroke="#440154" stroke-width="0.22">cg11942974</text>
<text x="492.50" y="93.60" font-size="8.6" text-anchor="start" fill="#440154" font-weight="normal" stroke="#440154" stroke-width="0.22">cg10601057</text>
<text x="462.50" y="59.50" font-size="8.6" text-anchor="start" fill="#3a9a88" font-weight="normal" stroke="#3a9a88" stroke-width="0.22">cg20297199</text>
<text x="410.00" y="73.40" font-size="8.6" text-anchor="start" fill="#3a9a88" font-weight="normal" stroke="#3a9a88" stroke-width="0.22">cg02147208</text>
<text x="463.10" y="73.40" font-size="8.6" text-anchor="start" fill="#3a9a88" font-weight="normal" stroke="#3a9a88" stroke-width="0.22">cg25301180</text>
<text x="440.70" y="85.00" font-size="8.6" text-anchor="start" fill="#3a9a88" font-weight="normal" stroke="#3a9a88" stroke-width="0.22">cg08732579</text>
<text x="548.10" y="303.60" font-size="8.6" text-anchor="start" fill="#440154" font-weight="normal" stroke="#440154" stroke-width="0.22">cg11284959</text>
<text x="521.40" y="337.00" font-size="8.6" text-anchor="start" fill="#440154" font-weight="normal" stroke="#440154" stroke-width="0.22">cg02224164</text>
<text x="489.60" y="349.20" font-size="8.6" text-anchor="start" fill="#440154" font-weight="normal" stroke="#440154" stroke-width="0.22">cg21456212</text>
<text x="542.60" y="349.20" font-size="8.6" text-anchor="start" fill="#440154" font-weight="normal" stroke="#440154" stroke-width="0.22">cg14012826</text>
<text x="532.70" y="361.10" font-size="8.6" text-anchor="start" fill="#440154" font-weight="normal" stroke="#440154" stroke-width="0.22">cg13802527</text>
<text x="546.50" y="372.30" font-size="8.6" text-anchor="start" fill="#440154" font-weight="normal" stroke="#440154" stroke-width="0.22">cg09730369</text>
<text x="513.40" y="384.20" font-size="8.6" text-anchor="start" fill="#440154" font-weight="normal" stroke="#440154" stroke-width="0.22">cg05051393</text>
<text x="436.70" y="349.20" font-size="8.6" text-anchor="start" fill="#3a9a88" font-weight="normal" stroke="#3a9a88" stroke-width="0.22">cg24263062</text>
<text x="423.50" y="362.00" font-size="8.6" text-anchor="start" fill="#3a9a88" font-weight="normal" stroke="#3a9a88" stroke-width="0.22">cg13194425</text>
<text x="475.80" y="361.10" font-size="8.6" text-anchor="start" fill="#3a9a88" font-weight="normal" stroke="#3a9a88" stroke-width="0.22">cg11452653</text>
<text x="460.70" y="373.90" font-size="8.6" text-anchor="start" fill="#3a9a88" font-weight="normal" stroke="#3a9a88" stroke-width="0.22">cg20207567</text>
</svg></body></html>
